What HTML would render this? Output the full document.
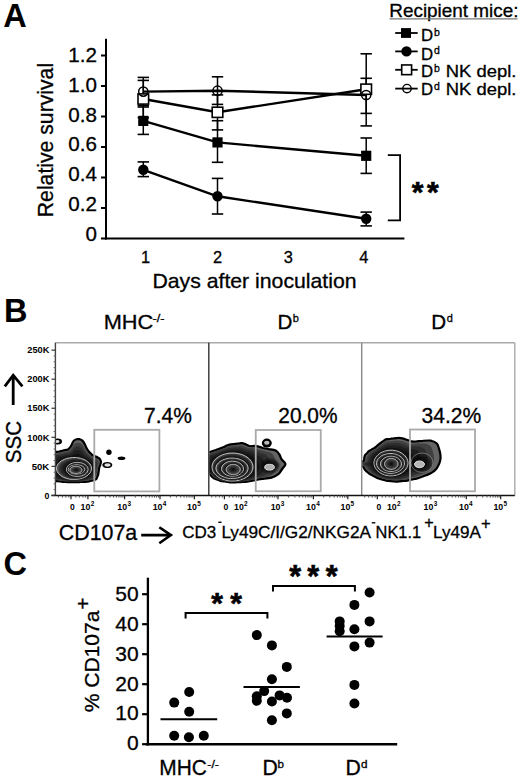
<!DOCTYPE html>
<html><head><meta charset="utf-8"><style>
html,body{margin:0;padding:0;background:#fff;}
svg{display:block;font-family:"Liberation Sans", sans-serif;}
text{stroke:#000;stroke-width:0.3px;}
text[font-weight=bold]{stroke-width:0;}
text.st{stroke-width:0.6px;}
</style></head><body>
<svg width="520" height="777" viewBox="0 0 520 777">
<rect width="520" height="777" fill="#fff"/>
<text x="3.20" y="26.90" font-size="32.5" text-anchor="start" font-weight="bold" fill="#000" >A</text>
<line x1="106.00" y1="38.70" x2="106.00" y2="239.50" stroke="#000" stroke-width="2" />
<line x1="105.00" y1="238.50" x2="404.40" y2="238.50" stroke="#000" stroke-width="2" />
<line x1="101.00" y1="238.50" x2="106.00" y2="238.50" stroke="#000" stroke-width="2" />
<text x="97.00" y="240.70" font-size="20.6" text-anchor="end" font-weight="normal" fill="#000" >0</text>
<line x1="101.00" y1="208.00" x2="106.00" y2="208.00" stroke="#000" stroke-width="2" />
<text x="97.00" y="210.95" font-size="20.6" text-anchor="end" font-weight="normal" fill="#000" >0.2</text>
<line x1="101.00" y1="177.50" x2="106.00" y2="177.50" stroke="#000" stroke-width="2" />
<text x="97.00" y="181.20" font-size="20.6" text-anchor="end" font-weight="normal" fill="#000" >0.4</text>
<line x1="101.00" y1="147.00" x2="106.00" y2="147.00" stroke="#000" stroke-width="2" />
<text x="97.00" y="151.45" font-size="20.6" text-anchor="end" font-weight="normal" fill="#000" >0.6</text>
<line x1="101.00" y1="116.50" x2="106.00" y2="116.50" stroke="#000" stroke-width="2" />
<text x="97.00" y="121.70" font-size="20.6" text-anchor="end" font-weight="normal" fill="#000" >0.8</text>
<line x1="101.00" y1="86.00" x2="106.00" y2="86.00" stroke="#000" stroke-width="2" />
<text x="97.00" y="91.95" font-size="20.6" text-anchor="end" font-weight="normal" fill="#000" >1.0</text>
<line x1="101.00" y1="55.50" x2="106.00" y2="55.50" stroke="#000" stroke-width="2" />
<text x="97.00" y="62.20" font-size="20.6" text-anchor="end" font-weight="normal" fill="#000" >1.2</text>
<text transform="translate(53,217.2) rotate(-90)" font-size="21.2" textLength="154.3" lengthAdjust="spacingAndGlyphs">Relative survival</text>
<text x="145.60" y="262.70" font-size="16.4" text-anchor="middle" font-weight="normal" fill="#000" >1</text>
<text x="217.50" y="262.70" font-size="16.4" text-anchor="middle" font-weight="normal" fill="#000" >2</text>
<text x="288.20" y="262.70" font-size="16.4" text-anchor="middle" font-weight="normal" fill="#000" >3</text>
<text x="363.80" y="262.70" font-size="16.4" text-anchor="middle" font-weight="normal" fill="#000" >4</text>
<text x="152.40" y="288.30" font-size="20.6" text-anchor="start" font-weight="normal" fill="#000" textLength="204.20" lengthAdjust="spacingAndGlyphs" >Days after inoculation</text>
<line x1="143.30" y1="161.90" x2="143.30" y2="176.60" stroke="#000" stroke-width="1.5" />
<line x1="137.60" y1="161.90" x2="149.00" y2="161.90" stroke="#000" stroke-width="1.6" />
<line x1="137.60" y1="176.60" x2="149.00" y2="176.60" stroke="#000" stroke-width="1.6" />
<line x1="217.50" y1="178.40" x2="217.50" y2="214.00" stroke="#000" stroke-width="1.5" />
<line x1="211.80" y1="178.40" x2="223.20" y2="178.40" stroke="#000" stroke-width="1.6" />
<line x1="211.80" y1="214.00" x2="223.20" y2="214.00" stroke="#000" stroke-width="1.6" />
<line x1="366.20" y1="212.10" x2="366.20" y2="225.90" stroke="#000" stroke-width="1.5" />
<line x1="360.50" y1="212.10" x2="371.90" y2="212.10" stroke="#000" stroke-width="1.6" />
<line x1="360.50" y1="225.90" x2="371.90" y2="225.90" stroke="#000" stroke-width="1.6" />
<line x1="143.30" y1="107.00" x2="143.30" y2="134.40" stroke="#000" stroke-width="1.5" />
<line x1="137.60" y1="107.00" x2="149.00" y2="107.00" stroke="#000" stroke-width="1.6" />
<line x1="137.60" y1="134.40" x2="149.00" y2="134.40" stroke="#000" stroke-width="1.6" />
<line x1="217.50" y1="120.70" x2="217.50" y2="162.30" stroke="#000" stroke-width="1.5" />
<line x1="211.80" y1="120.70" x2="223.20" y2="120.70" stroke="#000" stroke-width="1.6" />
<line x1="211.80" y1="162.30" x2="223.20" y2="162.30" stroke="#000" stroke-width="1.6" />
<line x1="366.20" y1="138.00" x2="366.20" y2="173.40" stroke="#000" stroke-width="1.5" />
<line x1="360.50" y1="138.00" x2="371.90" y2="138.00" stroke="#000" stroke-width="1.6" />
<line x1="360.50" y1="173.40" x2="371.90" y2="173.40" stroke="#000" stroke-width="1.6" />
<line x1="143.30" y1="80.40" x2="143.30" y2="117.60" stroke="#000" stroke-width="1.5" />
<line x1="137.60" y1="80.40" x2="149.00" y2="80.40" stroke="#000" stroke-width="1.6" />
<line x1="137.60" y1="117.60" x2="149.00" y2="117.60" stroke="#000" stroke-width="1.6" />
<line x1="217.50" y1="94.90" x2="217.50" y2="129.90" stroke="#000" stroke-width="1.5" />
<line x1="211.80" y1="94.90" x2="223.20" y2="94.90" stroke="#000" stroke-width="1.6" />
<line x1="211.80" y1="129.90" x2="223.20" y2="129.90" stroke="#000" stroke-width="1.6" />
<line x1="366.20" y1="53.80" x2="366.20" y2="125.90" stroke="#000" stroke-width="1.5" />
<line x1="360.50" y1="53.80" x2="371.90" y2="53.80" stroke="#000" stroke-width="1.6" />
<line x1="360.50" y1="125.90" x2="371.90" y2="125.90" stroke="#000" stroke-width="1.6" />
<line x1="143.30" y1="77.40" x2="143.30" y2="105.60" stroke="#000" stroke-width="1.5" />
<line x1="137.60" y1="77.40" x2="149.00" y2="77.40" stroke="#000" stroke-width="1.6" />
<line x1="137.60" y1="105.60" x2="149.00" y2="105.60" stroke="#000" stroke-width="1.6" />
<line x1="217.50" y1="76.80" x2="217.50" y2="104.40" stroke="#000" stroke-width="1.5" />
<line x1="211.80" y1="76.80" x2="223.20" y2="76.80" stroke="#000" stroke-width="1.6" />
<line x1="211.80" y1="104.40" x2="223.20" y2="104.40" stroke="#000" stroke-width="1.6" />
<line x1="366.20" y1="78.30" x2="366.20" y2="113.40" stroke="#000" stroke-width="1.5" />
<line x1="360.50" y1="78.30" x2="371.90" y2="78.30" stroke="#000" stroke-width="1.6" />
<line x1="360.50" y1="113.40" x2="371.90" y2="113.40" stroke="#000" stroke-width="1.6" />
<polyline points="143.30,169.80 217.50,196.30 366.20,218.80" fill="none" stroke="#000" stroke-width="2.4"/>
<polyline points="143.30,120.90 217.50,142.40 366.20,155.80" fill="none" stroke="#000" stroke-width="2.4"/>
<polyline points="143.30,99.00 217.50,112.30 366.20,89.20" fill="none" stroke="#000" stroke-width="2.4"/>
<polyline points="143.30,91.60 217.50,90.70 366.20,95.00" fill="none" stroke="#000" stroke-width="2.4"/>
<circle cx="143.3" cy="169.8" r="5.2" fill="#000"/>
<circle cx="217.5" cy="196.3" r="5.2" fill="#000"/>
<circle cx="366.2" cy="218.8" r="5.2" fill="#000"/>
<rect x="138.20" y="115.80" width="10.2" height="10.2" fill="#000"/>
<rect x="212.40" y="137.30" width="10.2" height="10.2" fill="#000"/>
<rect x="361.10" y="150.70" width="10.2" height="10.2" fill="#000"/>
<rect x="138.00" y="93.90" width="10.6" height="10.2" fill="#fff" stroke="#000" stroke-width="1.6"/>
<rect x="212.20" y="107.20" width="10.6" height="10.2" fill="#fff" stroke="#000" stroke-width="1.6"/>
<rect x="360.90" y="84.10" width="10.6" height="10.2" fill="#fff" stroke="#000" stroke-width="1.6"/>
<circle cx="143.3" cy="91.6" r="4.6" fill="none" stroke="#000" stroke-width="1.5"/>
<circle cx="217.5" cy="90.7" r="4.6" fill="none" stroke="#000" stroke-width="1.5"/>
<circle cx="366.2" cy="95" r="4.6" fill="none" stroke="#000" stroke-width="1.5"/>
<path d="M387.8,155.1 H400.1 V220.4 H387.8" fill="none" stroke="#000" stroke-width="1.8"/>
<text x="411.85" y="201.90" font-size="30" text-anchor="start" font-weight="bold" fill="#000" class="st">*</text>
<text x="427.00" y="201.90" font-size="30" text-anchor="start" font-weight="bold" fill="#000" class="st">*</text>
<text x="389.30" y="16.80" font-size="17.6" text-anchor="start" font-weight="normal" fill="#000" textLength="129.20" lengthAdjust="spacingAndGlyphs" >Recipient mice:</text>
<line x1="389.50" y1="18.90" x2="517.50" y2="18.90" stroke="#777" stroke-width="1.4" />
<line x1="395.20" y1="33.00" x2="417.70" y2="33.00" stroke="#000" stroke-width="1.8" />
<rect x="401" y="28.10" width="10" height="9.8" fill="#000"/>
<text x="421.00" y="41.00" font-size="16.8" text-anchor="start" font-weight="normal" fill="#000" >D</text>
<text x="434.00" y="35.60" font-size="10.5" text-anchor="start" font-weight="normal" fill="#000" >b</text>
<line x1="395.20" y1="51.40" x2="417.70" y2="51.40" stroke="#000" stroke-width="1.8" />
<circle cx="406.5" cy="51.4" r="5.2" fill="#000"/>
<text x="421.00" y="59.50" font-size="16.8" text-anchor="start" font-weight="normal" fill="#000" >D</text>
<text x="434.00" y="54.10" font-size="10.5" text-anchor="start" font-weight="normal" fill="#000" >d</text>
<line x1="395.20" y1="69.80" x2="417.70" y2="69.80" stroke="#000" stroke-width="1.8" />
<rect x="401.7" y="64.95" width="9.9" height="9.7" fill="#fff" stroke="#000" stroke-width="1.6"/>
<text x="421.00" y="77.30" font-size="16.8" text-anchor="start" font-weight="normal" fill="#000" >D</text>
<text x="434.00" y="71.90" font-size="10.5" text-anchor="start" font-weight="normal" fill="#000" >b</text>
<text x="445.80" y="77.30" font-size="16.8" text-anchor="start" font-weight="normal" fill="#000" textLength="70.60" lengthAdjust="spacingAndGlyphs" >NK depl.</text>
<line x1="395.20" y1="88.60" x2="417.70" y2="88.60" stroke="#000" stroke-width="1.8" />
<circle cx="407.0" cy="88.6" r="4.2" fill="none" stroke="#000" stroke-width="1.4"/>
<text x="421.00" y="95.40" font-size="16.8" text-anchor="start" font-weight="normal" fill="#000" >D</text>
<text x="434.00" y="90.00" font-size="10.5" text-anchor="start" font-weight="normal" fill="#000" >d</text>
<text x="445.80" y="95.40" font-size="16.8" text-anchor="start" font-weight="normal" fill="#000" textLength="70.60" lengthAdjust="spacingAndGlyphs" >NK depl.</text>
<text x="4.00" y="322.30" font-size="32.5" text-anchor="start" font-weight="bold" fill="#000" >B</text>
<text x="103.70" y="328.80" font-size="20.8" text-anchor="start" font-weight="normal" fill="#000" textLength="49.60" lengthAdjust="spacingAndGlyphs" >MHC</text>
<text x="152.60" y="321.60" font-size="11" text-anchor="start" font-weight="normal" fill="#000" textLength="12.00" lengthAdjust="spacingAndGlyphs" >-/-</text>
<text x="277.60" y="329.20" font-size="20.6" text-anchor="start" font-weight="normal" fill="#000" >D</text>
<text x="292.80" y="321.70" font-size="11" text-anchor="start" font-weight="normal" fill="#000" >b</text>
<text x="431.30" y="329.20" font-size="20.6" text-anchor="start" font-weight="normal" fill="#000" >D</text>
<text x="446.80" y="321.70" font-size="11" text-anchor="start" font-weight="normal" fill="#000" >d</text>
<line x1="55.40" y1="342.70" x2="514.80" y2="342.70" stroke="#aaa" stroke-width="1.4" />
<line x1="514.80" y1="342.70" x2="514.80" y2="495.50" stroke="#aaa" stroke-width="1.4" />
<line x1="361.70" y1="342.70" x2="361.70" y2="495.50" stroke="#888" stroke-width="1.4" />
<line x1="208.80" y1="342.70" x2="208.80" y2="495.50" stroke="#333" stroke-width="1.4" />
<line x1="55.40" y1="342.70" x2="55.40" y2="496.00" stroke="#444" stroke-width="1.4" />
<line x1="51.50" y1="495.50" x2="514.80" y2="495.50" stroke="#111" stroke-width="1.4" />
<line x1="51.50" y1="495.40" x2="55.40" y2="495.40" stroke="#333" stroke-width="1.2" />
<line x1="53.60" y1="489.59" x2="55.40" y2="489.59" stroke="#666" stroke-width="1.0" />
<line x1="53.60" y1="483.78" x2="55.40" y2="483.78" stroke="#666" stroke-width="1.0" />
<line x1="53.60" y1="477.97" x2="55.40" y2="477.97" stroke="#666" stroke-width="1.0" />
<line x1="53.60" y1="472.16" x2="55.40" y2="472.16" stroke="#666" stroke-width="1.0" />
<line x1="51.50" y1="466.35" x2="55.40" y2="466.35" stroke="#333" stroke-width="1.2" />
<line x1="53.60" y1="460.54" x2="55.40" y2="460.54" stroke="#666" stroke-width="1.0" />
<line x1="53.60" y1="454.73" x2="55.40" y2="454.73" stroke="#666" stroke-width="1.0" />
<line x1="53.60" y1="448.92" x2="55.40" y2="448.92" stroke="#666" stroke-width="1.0" />
<line x1="53.60" y1="443.11" x2="55.40" y2="443.11" stroke="#666" stroke-width="1.0" />
<line x1="51.50" y1="437.30" x2="55.40" y2="437.30" stroke="#333" stroke-width="1.2" />
<line x1="53.60" y1="431.49" x2="55.40" y2="431.49" stroke="#666" stroke-width="1.0" />
<line x1="53.60" y1="425.68" x2="55.40" y2="425.68" stroke="#666" stroke-width="1.0" />
<line x1="53.60" y1="419.87" x2="55.40" y2="419.87" stroke="#666" stroke-width="1.0" />
<line x1="53.60" y1="414.06" x2="55.40" y2="414.06" stroke="#666" stroke-width="1.0" />
<line x1="51.50" y1="408.25" x2="55.40" y2="408.25" stroke="#333" stroke-width="1.2" />
<line x1="53.60" y1="402.44" x2="55.40" y2="402.44" stroke="#666" stroke-width="1.0" />
<line x1="53.60" y1="396.63" x2="55.40" y2="396.63" stroke="#666" stroke-width="1.0" />
<line x1="53.60" y1="390.82" x2="55.40" y2="390.82" stroke="#666" stroke-width="1.0" />
<line x1="53.60" y1="385.01" x2="55.40" y2="385.01" stroke="#666" stroke-width="1.0" />
<line x1="51.50" y1="379.20" x2="55.40" y2="379.20" stroke="#333" stroke-width="1.2" />
<line x1="53.60" y1="373.39" x2="55.40" y2="373.39" stroke="#666" stroke-width="1.0" />
<line x1="53.60" y1="367.58" x2="55.40" y2="367.58" stroke="#666" stroke-width="1.0" />
<line x1="53.60" y1="361.77" x2="55.40" y2="361.77" stroke="#666" stroke-width="1.0" />
<line x1="53.60" y1="355.96" x2="55.40" y2="355.96" stroke="#666" stroke-width="1.0" />
<line x1="51.50" y1="350.15" x2="55.40" y2="350.15" stroke="#333" stroke-width="1.2" />
<text x="49.30" y="498.60" font-size="8.8" text-anchor="end" font-weight="bold" fill="#000" >0</text>
<text x="49.30" y="469.55" font-size="8.8" text-anchor="end" font-weight="bold" fill="#000" textLength="17.60" lengthAdjust="spacingAndGlyphs" >50K</text>
<text x="49.30" y="440.50" font-size="8.8" text-anchor="end" font-weight="bold" fill="#000" textLength="22.00" lengthAdjust="spacingAndGlyphs" >100K</text>
<text x="49.30" y="411.45" font-size="8.8" text-anchor="end" font-weight="bold" fill="#000" textLength="22.00" lengthAdjust="spacingAndGlyphs" >150K</text>
<text x="49.30" y="382.40" font-size="8.8" text-anchor="end" font-weight="bold" fill="#000" textLength="22.00" lengthAdjust="spacingAndGlyphs" >200K</text>
<text x="49.30" y="353.35" font-size="8.8" text-anchor="end" font-weight="bold" fill="#000" textLength="22.00" lengthAdjust="spacingAndGlyphs" >250K</text>
<line x1="71.00" y1="495.50" x2="71.00" y2="499.30" stroke="#222" stroke-width="1.2" />
<line x1="87.90" y1="495.50" x2="87.90" y2="499.30" stroke="#222" stroke-width="1.2" />
<line x1="124.60" y1="495.50" x2="124.60" y2="499.30" stroke="#222" stroke-width="1.2" />
<line x1="160.00" y1="495.50" x2="160.00" y2="499.30" stroke="#222" stroke-width="1.2" />
<line x1="194.40" y1="495.50" x2="194.40" y2="499.30" stroke="#222" stroke-width="1.2" />
<line x1="98.95" y1="495.50" x2="98.95" y2="497.60" stroke="#555" stroke-width="1.0" />
<line x1="105.41" y1="495.50" x2="105.41" y2="497.60" stroke="#555" stroke-width="1.0" />
<line x1="110.00" y1="495.50" x2="110.00" y2="497.60" stroke="#555" stroke-width="1.0" />
<line x1="113.55" y1="495.50" x2="113.55" y2="497.60" stroke="#555" stroke-width="1.0" />
<line x1="116.46" y1="495.50" x2="116.46" y2="497.60" stroke="#555" stroke-width="1.0" />
<line x1="118.92" y1="495.50" x2="118.92" y2="497.60" stroke="#555" stroke-width="1.0" />
<line x1="121.04" y1="495.50" x2="121.04" y2="497.60" stroke="#555" stroke-width="1.0" />
<line x1="122.92" y1="495.50" x2="122.92" y2="497.60" stroke="#555" stroke-width="1.0" />
<line x1="135.26" y1="495.50" x2="135.26" y2="497.60" stroke="#555" stroke-width="1.0" />
<line x1="141.49" y1="495.50" x2="141.49" y2="497.60" stroke="#555" stroke-width="1.0" />
<line x1="145.91" y1="495.50" x2="145.91" y2="497.60" stroke="#555" stroke-width="1.0" />
<line x1="149.34" y1="495.50" x2="149.34" y2="497.60" stroke="#555" stroke-width="1.0" />
<line x1="152.15" y1="495.50" x2="152.15" y2="497.60" stroke="#555" stroke-width="1.0" />
<line x1="154.52" y1="495.50" x2="154.52" y2="497.60" stroke="#555" stroke-width="1.0" />
<line x1="156.57" y1="495.50" x2="156.57" y2="497.60" stroke="#555" stroke-width="1.0" />
<line x1="158.38" y1="495.50" x2="158.38" y2="497.60" stroke="#555" stroke-width="1.0" />
<line x1="170.36" y1="495.50" x2="170.36" y2="497.60" stroke="#555" stroke-width="1.0" />
<line x1="176.41" y1="495.50" x2="176.41" y2="497.60" stroke="#555" stroke-width="1.0" />
<line x1="180.71" y1="495.50" x2="180.71" y2="497.60" stroke="#555" stroke-width="1.0" />
<line x1="184.04" y1="495.50" x2="184.04" y2="497.60" stroke="#555" stroke-width="1.0" />
<line x1="186.77" y1="495.50" x2="186.77" y2="497.60" stroke="#555" stroke-width="1.0" />
<line x1="189.07" y1="495.50" x2="189.07" y2="497.60" stroke="#555" stroke-width="1.0" />
<line x1="191.07" y1="495.50" x2="191.07" y2="497.60" stroke="#555" stroke-width="1.0" />
<line x1="192.83" y1="495.50" x2="192.83" y2="497.60" stroke="#555" stroke-width="1.0" />
<line x1="58.40" y1="495.50" x2="58.40" y2="497.60" stroke="#555" stroke-width="1.0" />
<line x1="62.40" y1="495.50" x2="62.40" y2="497.60" stroke="#555" stroke-width="1.0" />
<line x1="65.90" y1="495.50" x2="65.90" y2="497.60" stroke="#555" stroke-width="1.0" />
<line x1="68.90" y1="495.50" x2="68.90" y2="497.60" stroke="#555" stroke-width="1.0" />
<line x1="75.90" y1="495.50" x2="75.90" y2="497.60" stroke="#555" stroke-width="1.0" />
<line x1="79.40" y1="495.50" x2="79.40" y2="497.60" stroke="#555" stroke-width="1.0" />
<line x1="82.90" y1="495.50" x2="82.90" y2="497.60" stroke="#555" stroke-width="1.0" />
<line x1="85.40" y1="495.50" x2="85.40" y2="497.60" stroke="#555" stroke-width="1.0" />
<text x="72.50" y="510.30" font-size="8.6" text-anchor="middle" font-weight="bold" fill="#000" >0</text>
<text x="80.60" y="510.30" font-size="8.6" text-anchor="start" font-weight="bold" fill="#000" textLength="9.80" lengthAdjust="spacingAndGlyphs" >10</text>
<text x="90.70" y="506.00" font-size="6.4" text-anchor="start" font-weight="bold" fill="#000" >2</text>
<text x="117.30" y="510.30" font-size="8.6" text-anchor="start" font-weight="bold" fill="#000" textLength="9.80" lengthAdjust="spacingAndGlyphs" >10</text>
<text x="127.40" y="506.00" font-size="6.4" text-anchor="start" font-weight="bold" fill="#000" >3</text>
<text x="152.70" y="510.30" font-size="8.6" text-anchor="start" font-weight="bold" fill="#000" textLength="9.80" lengthAdjust="spacingAndGlyphs" >10</text>
<text x="162.80" y="506.00" font-size="6.4" text-anchor="start" font-weight="bold" fill="#000" >4</text>
<text x="187.10" y="510.30" font-size="8.6" text-anchor="start" font-weight="bold" fill="#000" textLength="9.80" lengthAdjust="spacingAndGlyphs" >10</text>
<text x="197.20" y="506.00" font-size="6.4" text-anchor="start" font-weight="bold" fill="#000" >5</text>
<line x1="224.40" y1="495.50" x2="224.40" y2="499.30" stroke="#222" stroke-width="1.2" />
<line x1="241.30" y1="495.50" x2="241.30" y2="499.30" stroke="#222" stroke-width="1.2" />
<line x1="278.00" y1="495.50" x2="278.00" y2="499.30" stroke="#222" stroke-width="1.2" />
<line x1="313.40" y1="495.50" x2="313.40" y2="499.30" stroke="#222" stroke-width="1.2" />
<line x1="347.80" y1="495.50" x2="347.80" y2="499.30" stroke="#222" stroke-width="1.2" />
<line x1="252.35" y1="495.50" x2="252.35" y2="497.60" stroke="#555" stroke-width="1.0" />
<line x1="258.81" y1="495.50" x2="258.81" y2="497.60" stroke="#555" stroke-width="1.0" />
<line x1="263.40" y1="495.50" x2="263.40" y2="497.60" stroke="#555" stroke-width="1.0" />
<line x1="266.95" y1="495.50" x2="266.95" y2="497.60" stroke="#555" stroke-width="1.0" />
<line x1="269.86" y1="495.50" x2="269.86" y2="497.60" stroke="#555" stroke-width="1.0" />
<line x1="272.32" y1="495.50" x2="272.32" y2="497.60" stroke="#555" stroke-width="1.0" />
<line x1="274.44" y1="495.50" x2="274.44" y2="497.60" stroke="#555" stroke-width="1.0" />
<line x1="276.32" y1="495.50" x2="276.32" y2="497.60" stroke="#555" stroke-width="1.0" />
<line x1="288.66" y1="495.50" x2="288.66" y2="497.60" stroke="#555" stroke-width="1.0" />
<line x1="294.89" y1="495.50" x2="294.89" y2="497.60" stroke="#555" stroke-width="1.0" />
<line x1="299.31" y1="495.50" x2="299.31" y2="497.60" stroke="#555" stroke-width="1.0" />
<line x1="302.74" y1="495.50" x2="302.74" y2="497.60" stroke="#555" stroke-width="1.0" />
<line x1="305.55" y1="495.50" x2="305.55" y2="497.60" stroke="#555" stroke-width="1.0" />
<line x1="307.92" y1="495.50" x2="307.92" y2="497.60" stroke="#555" stroke-width="1.0" />
<line x1="309.97" y1="495.50" x2="309.97" y2="497.60" stroke="#555" stroke-width="1.0" />
<line x1="311.78" y1="495.50" x2="311.78" y2="497.60" stroke="#555" stroke-width="1.0" />
<line x1="323.76" y1="495.50" x2="323.76" y2="497.60" stroke="#555" stroke-width="1.0" />
<line x1="329.81" y1="495.50" x2="329.81" y2="497.60" stroke="#555" stroke-width="1.0" />
<line x1="334.11" y1="495.50" x2="334.11" y2="497.60" stroke="#555" stroke-width="1.0" />
<line x1="337.44" y1="495.50" x2="337.44" y2="497.60" stroke="#555" stroke-width="1.0" />
<line x1="340.17" y1="495.50" x2="340.17" y2="497.60" stroke="#555" stroke-width="1.0" />
<line x1="342.47" y1="495.50" x2="342.47" y2="497.60" stroke="#555" stroke-width="1.0" />
<line x1="344.47" y1="495.50" x2="344.47" y2="497.60" stroke="#555" stroke-width="1.0" />
<line x1="346.23" y1="495.50" x2="346.23" y2="497.60" stroke="#555" stroke-width="1.0" />
<line x1="211.80" y1="495.50" x2="211.80" y2="497.60" stroke="#555" stroke-width="1.0" />
<line x1="215.80" y1="495.50" x2="215.80" y2="497.60" stroke="#555" stroke-width="1.0" />
<line x1="219.30" y1="495.50" x2="219.30" y2="497.60" stroke="#555" stroke-width="1.0" />
<line x1="222.30" y1="495.50" x2="222.30" y2="497.60" stroke="#555" stroke-width="1.0" />
<line x1="229.30" y1="495.50" x2="229.30" y2="497.60" stroke="#555" stroke-width="1.0" />
<line x1="232.80" y1="495.50" x2="232.80" y2="497.60" stroke="#555" stroke-width="1.0" />
<line x1="236.30" y1="495.50" x2="236.30" y2="497.60" stroke="#555" stroke-width="1.0" />
<line x1="238.80" y1="495.50" x2="238.80" y2="497.60" stroke="#555" stroke-width="1.0" />
<text x="225.90" y="510.30" font-size="8.6" text-anchor="middle" font-weight="bold" fill="#000" >0</text>
<text x="234.00" y="510.30" font-size="8.6" text-anchor="start" font-weight="bold" fill="#000" textLength="9.80" lengthAdjust="spacingAndGlyphs" >10</text>
<text x="244.10" y="506.00" font-size="6.4" text-anchor="start" font-weight="bold" fill="#000" >2</text>
<text x="270.70" y="510.30" font-size="8.6" text-anchor="start" font-weight="bold" fill="#000" textLength="9.80" lengthAdjust="spacingAndGlyphs" >10</text>
<text x="280.80" y="506.00" font-size="6.4" text-anchor="start" font-weight="bold" fill="#000" >3</text>
<text x="306.10" y="510.30" font-size="8.6" text-anchor="start" font-weight="bold" fill="#000" textLength="9.80" lengthAdjust="spacingAndGlyphs" >10</text>
<text x="316.20" y="506.00" font-size="6.4" text-anchor="start" font-weight="bold" fill="#000" >4</text>
<text x="340.50" y="510.30" font-size="8.6" text-anchor="start" font-weight="bold" fill="#000" textLength="9.80" lengthAdjust="spacingAndGlyphs" >10</text>
<text x="350.60" y="506.00" font-size="6.4" text-anchor="start" font-weight="bold" fill="#000" >5</text>
<line x1="377.30" y1="495.50" x2="377.30" y2="499.30" stroke="#222" stroke-width="1.2" />
<line x1="394.20" y1="495.50" x2="394.20" y2="499.30" stroke="#222" stroke-width="1.2" />
<line x1="430.90" y1="495.50" x2="430.90" y2="499.30" stroke="#222" stroke-width="1.2" />
<line x1="466.30" y1="495.50" x2="466.30" y2="499.30" stroke="#222" stroke-width="1.2" />
<line x1="500.70" y1="495.50" x2="500.70" y2="499.30" stroke="#222" stroke-width="1.2" />
<line x1="405.25" y1="495.50" x2="405.25" y2="497.60" stroke="#555" stroke-width="1.0" />
<line x1="411.71" y1="495.50" x2="411.71" y2="497.60" stroke="#555" stroke-width="1.0" />
<line x1="416.30" y1="495.50" x2="416.30" y2="497.60" stroke="#555" stroke-width="1.0" />
<line x1="419.85" y1="495.50" x2="419.85" y2="497.60" stroke="#555" stroke-width="1.0" />
<line x1="422.76" y1="495.50" x2="422.76" y2="497.60" stroke="#555" stroke-width="1.0" />
<line x1="425.22" y1="495.50" x2="425.22" y2="497.60" stroke="#555" stroke-width="1.0" />
<line x1="427.34" y1="495.50" x2="427.34" y2="497.60" stroke="#555" stroke-width="1.0" />
<line x1="429.22" y1="495.50" x2="429.22" y2="497.60" stroke="#555" stroke-width="1.0" />
<line x1="441.56" y1="495.50" x2="441.56" y2="497.60" stroke="#555" stroke-width="1.0" />
<line x1="447.79" y1="495.50" x2="447.79" y2="497.60" stroke="#555" stroke-width="1.0" />
<line x1="452.21" y1="495.50" x2="452.21" y2="497.60" stroke="#555" stroke-width="1.0" />
<line x1="455.64" y1="495.50" x2="455.64" y2="497.60" stroke="#555" stroke-width="1.0" />
<line x1="458.45" y1="495.50" x2="458.45" y2="497.60" stroke="#555" stroke-width="1.0" />
<line x1="460.82" y1="495.50" x2="460.82" y2="497.60" stroke="#555" stroke-width="1.0" />
<line x1="462.87" y1="495.50" x2="462.87" y2="497.60" stroke="#555" stroke-width="1.0" />
<line x1="464.68" y1="495.50" x2="464.68" y2="497.60" stroke="#555" stroke-width="1.0" />
<line x1="476.66" y1="495.50" x2="476.66" y2="497.60" stroke="#555" stroke-width="1.0" />
<line x1="482.71" y1="495.50" x2="482.71" y2="497.60" stroke="#555" stroke-width="1.0" />
<line x1="487.01" y1="495.50" x2="487.01" y2="497.60" stroke="#555" stroke-width="1.0" />
<line x1="490.34" y1="495.50" x2="490.34" y2="497.60" stroke="#555" stroke-width="1.0" />
<line x1="493.07" y1="495.50" x2="493.07" y2="497.60" stroke="#555" stroke-width="1.0" />
<line x1="495.37" y1="495.50" x2="495.37" y2="497.60" stroke="#555" stroke-width="1.0" />
<line x1="497.37" y1="495.50" x2="497.37" y2="497.60" stroke="#555" stroke-width="1.0" />
<line x1="499.13" y1="495.50" x2="499.13" y2="497.60" stroke="#555" stroke-width="1.0" />
<line x1="364.70" y1="495.50" x2="364.70" y2="497.60" stroke="#555" stroke-width="1.0" />
<line x1="368.70" y1="495.50" x2="368.70" y2="497.60" stroke="#555" stroke-width="1.0" />
<line x1="372.20" y1="495.50" x2="372.20" y2="497.60" stroke="#555" stroke-width="1.0" />
<line x1="375.20" y1="495.50" x2="375.20" y2="497.60" stroke="#555" stroke-width="1.0" />
<line x1="382.20" y1="495.50" x2="382.20" y2="497.60" stroke="#555" stroke-width="1.0" />
<line x1="385.70" y1="495.50" x2="385.70" y2="497.60" stroke="#555" stroke-width="1.0" />
<line x1="389.20" y1="495.50" x2="389.20" y2="497.60" stroke="#555" stroke-width="1.0" />
<line x1="391.70" y1="495.50" x2="391.70" y2="497.60" stroke="#555" stroke-width="1.0" />
<text x="378.80" y="510.30" font-size="8.6" text-anchor="middle" font-weight="bold" fill="#000" >0</text>
<text x="386.90" y="510.30" font-size="8.6" text-anchor="start" font-weight="bold" fill="#000" textLength="9.80" lengthAdjust="spacingAndGlyphs" >10</text>
<text x="397.00" y="506.00" font-size="6.4" text-anchor="start" font-weight="bold" fill="#000" >2</text>
<text x="423.60" y="510.30" font-size="8.6" text-anchor="start" font-weight="bold" fill="#000" textLength="9.80" lengthAdjust="spacingAndGlyphs" >10</text>
<text x="433.70" y="506.00" font-size="6.4" text-anchor="start" font-weight="bold" fill="#000" >3</text>
<text x="459.00" y="510.30" font-size="8.6" text-anchor="start" font-weight="bold" fill="#000" textLength="9.80" lengthAdjust="spacingAndGlyphs" >10</text>
<text x="469.10" y="506.00" font-size="6.4" text-anchor="start" font-weight="bold" fill="#000" >4</text>
<text x="493.40" y="510.30" font-size="8.6" text-anchor="start" font-weight="bold" fill="#000" textLength="9.80" lengthAdjust="spacingAndGlyphs" >10</text>
<text x="503.50" y="506.00" font-size="6.4" text-anchor="start" font-weight="bold" fill="#000" >5</text>
<text x="144.00" y="423.00" font-size="21.3" text-anchor="start" font-weight="normal" fill="#000" textLength="47.80" lengthAdjust="spacingAndGlyphs" >7.4%</text>
<text x="278.30" y="423.00" font-size="21.3" text-anchor="start" font-weight="normal" fill="#000" textLength="59.20" lengthAdjust="spacingAndGlyphs" >20.0%</text>
<text x="421.60" y="423.00" font-size="21.3" text-anchor="start" font-weight="normal" fill="#000" textLength="59.70" lengthAdjust="spacingAndGlyphs" >34.2%</text>
<text transform="translate(20.9,463.2) rotate(-90)" font-size="21.8" textLength="42.3" lengthAdjust="spacingAndGlyphs">SSC</text>
<path d="M13.2,405 V375.5 M4.8,386.4 L13.2,375.2 L22.4,386.4" fill="none" stroke="#000" stroke-width="2.8" stroke-linejoin="miter"/>
<text x="58.80" y="539.60" font-size="21.8" text-anchor="start" font-weight="normal" fill="#000" textLength="78.40" lengthAdjust="spacingAndGlyphs" >CD107a</text>
<path d="M141.2,535.1 H170.5 M159.3,527.2 L170.9,535.1 L159.3,543.2" fill="none" stroke="#000" stroke-width="2.6"/>
<text x="182.20" y="537.60" font-size="17.2" text-anchor="start" font-weight="normal" fill="#000" textLength="34.00" lengthAdjust="spacingAndGlyphs" >CD3</text>
<line x1="218.30" y1="522.30" x2="221.50" y2="522.30" stroke="#000" stroke-width="1.4" />
<text x="221.40" y="537.60" font-size="17.2" text-anchor="start" font-weight="normal" fill="#000" textLength="149.60" lengthAdjust="spacingAndGlyphs" >Ly49C/I/G2/NKG2A</text>
<line x1="371.80" y1="522.80" x2="375.30" y2="522.80" stroke="#000" stroke-width="1.4" />
<text x="375.60" y="537.60" font-size="17.2" text-anchor="start" font-weight="normal" fill="#000" textLength="45.50" lengthAdjust="spacingAndGlyphs" >NK1.1</text>
<text x="424.30" y="527.90" font-size="16.2" text-anchor="start" font-weight="normal" fill="#000" >+</text>
<text x="433.00" y="537.60" font-size="17.2" text-anchor="start" font-weight="normal" fill="#000" textLength="47.90" lengthAdjust="spacingAndGlyphs" >Ly49A</text>
<text x="481.00" y="528.80" font-size="16.5" text-anchor="start" font-weight="normal" fill="#000" >+</text>
<defs><radialGradient id="dk"><stop offset="0" stop-color="#000" stop-opacity="0.9"/><stop offset="0.6" stop-color="#000" stop-opacity="0.6"/><stop offset="1" stop-color="#000" stop-opacity="0"/></radialGradient><clipPath id="cp1"><rect x="56" y="343" width="152.3" height="152"/></clipPath><clipPath id="cp2"><rect x="209.5" y="343" width="151.5" height="152"/></clipPath><clipPath id="cp3"><rect x="362.4" y="343" width="151.7" height="152"/></clipPath></defs>
<g clip-path="url(#cp1)">
<path d="M98.89,469.80C98.8 470.6 98.7 471.3 98.6 472.1C98.4 472.9 98.4 473.7 98.2 474.4C98.0 475.2 97.7 475.9 97.4 476.6C97.1 477.3 97.1 478.1 96.5 478.7C96.0 479.3 95.0 479.6 94.2 480.0C93.4 480.3 92.5 480.6 91.7 480.8C90.9 481.0 90.1 481.2 89.3 481.3C88.5 481.4 87.8 481.5 87.1 481.6C86.4 481.6 85.8 481.7 85.2 481.8C84.6 481.8 84.0 481.9 83.5 481.9C83.0 482.0 82.4 482.0 81.9 482.0C81.4 482.0 81.0 482.0 80.5 482.0C80.0 482.1 79.6 482.1 79.1 482.1C78.7 482.1 78.2 482.1 77.8 482.1C77.4 482.1 76.9 482.1 76.5 482.1C76.1 482.1 75.6 482.1 75.2 482.2C74.8 482.2 74.3 482.2 73.9 482.2C73.4 482.2 73.0 482.2 72.5 482.2C72.0 482.2 71.5 482.2 71.0 482.2C70.5 482.1 70.0 482.1 69.4 482.1C68.8 482.1 68.2 482.1 67.6 482.1C66.9 482.1 66.2 482.1 65.5 482.0C64.7 482.0 63.9 482.0 63.0 481.9C62.2 481.8 61.4 481.7 60.3 481.5C59.3 481.4 58.3 481.3 56.8 481.2C55.3 481.1 52.4 481.5 51.3 481.0C50.1 480.6 50.2 479.3 50.0 478.4C49.8 477.5 50.0 476.4 50.0 475.4C50.0 474.5 50.0 473.5 50.0 472.6C50.0 471.6 50.0 470.7 50.0 469.8C50.0 468.9 50.0 468.0 50.0 467.0C50.0 466.1 50.0 465.1 50.0 464.2C50.0 463.2 50.0 462.2 50.0 461.2C50.0 460.2 50.0 459.1 50.0 458.0C50.0 456.9 49.7 455.5 50.0 454.5C50.3 453.5 50.9 452.4 52.0 452.0C53.1 451.5 55.3 452.0 56.6 451.9C58.0 451.8 58.9 451.6 59.9 451.4C60.9 451.1 61.7 450.9 62.6 450.7C63.5 450.5 64.3 450.3 65.1 450.1C66.0 449.9 66.8 450.0 67.5 449.7C68.3 449.3 68.8 448.8 69.4 448.1C70.1 447.4 70.7 446.7 71.3 445.5C72.0 444.4 72.6 442.2 73.5 441.1C74.3 440.1 75.5 439.6 76.5 439.3C77.5 439.0 78.7 439.0 79.7 439.2C80.7 439.5 81.8 440.0 82.7 440.9C83.5 441.7 84.2 443.2 84.8 444.3C85.4 445.4 85.8 446.7 86.4 447.7C86.9 448.7 87.3 449.4 87.8 450.2C88.3 450.9 88.8 451.5 89.3 452.1C89.9 452.7 90.4 453.2 91.0 453.7C91.5 454.2 92.0 454.8 92.6 455.3C93.3 455.7 94.3 455.9 95.1 456.3C96.0 456.7 96.9 457.0 97.7 457.5C98.6 458.0 99.6 458.6 100.1 459.3C100.6 460.0 100.8 461.0 100.9 461.9C100.9 462.8 100.5 463.8 100.3 464.7C100.0 465.7 99.5 466.6 99.3 467.4C99.1 468.2 99.0 469.0 98.9 469.8Z" fill="#646464" stroke="#000" stroke-width="2.2"/>
<path d="M97.39,469.80C97.3 470.5 97.2 471.2 97.0 472.0C96.9 472.7 96.8 473.4 96.6 474.1C96.4 474.8 96.0 475.4 95.7 476.1C95.5 476.7 95.4 477.5 94.9 478.0C94.4 478.5 93.5 478.8 92.7 479.2C92.0 479.5 91.2 479.8 90.5 480.0C89.8 480.2 89.1 480.4 88.4 480.5C87.7 480.6 87.0 480.7 86.4 480.8C85.8 480.9 85.2 480.9 84.7 481.0C84.1 481.1 83.6 481.2 83.1 481.2C82.6 481.3 82.1 481.3 81.6 481.4C81.2 481.4 80.7 481.4 80.3 481.4C79.8 481.4 79.4 481.5 79.0 481.5C78.6 481.5 78.1 481.5 77.7 481.5C77.3 481.6 76.9 481.6 76.5 481.6C76.1 481.6 75.7 481.6 75.3 481.6C74.8 481.6 74.4 481.6 74.0 481.6C73.5 481.7 73.1 481.7 72.7 481.6C72.2 481.6 71.7 481.6 71.2 481.6C70.8 481.6 70.2 481.6 69.7 481.6C69.2 481.5 68.6 481.5 68.0 481.5C67.4 481.5 66.7 481.5 66.0 481.4C65.3 481.4 64.6 481.3 63.8 481.2C63.0 481.1 62.2 481.0 61.3 480.8C60.4 480.7 59.5 480.5 58.1 480.4C56.8 480.3 54.4 480.5 53.4 480.1C52.3 479.7 52.3 478.6 52.0 477.8C51.7 476.9 51.8 476.0 51.7 475.1C51.6 474.2 51.5 473.3 51.5 472.4C51.4 471.6 51.4 470.7 51.3 469.8C51.3 468.9 51.3 468.0 51.3 467.2C51.3 466.3 51.4 465.4 51.4 464.5C51.5 463.6 51.5 462.7 51.6 461.7C51.7 460.8 51.8 459.8 51.9 458.9C52.0 457.9 51.9 456.7 52.2 455.8C52.6 454.9 53.2 454.0 54.2 453.6C55.2 453.2 57.1 453.5 58.3 453.4C59.4 453.2 60.3 453.0 61.2 452.8C62.1 452.6 62.9 452.4 63.7 452.2C64.5 452.0 65.3 451.8 66.0 451.7C66.8 451.5 67.6 451.5 68.2 451.3C68.9 451.0 69.5 450.5 70.1 450.0C70.7 449.4 71.2 448.8 71.8 447.9C72.5 447.0 73.1 445.2 73.8 444.4C74.6 443.6 75.6 443.2 76.5 442.9C77.4 442.7 78.4 442.7 79.3 442.9C80.2 443.2 81.2 443.6 81.9 444.3C82.7 445.0 83.3 446.2 83.9 447.1C84.5 448.0 84.9 449.0 85.4 449.9C85.9 450.7 86.3 451.3 86.8 451.9C87.3 452.5 87.8 453.1 88.3 453.6C88.8 454.1 89.3 454.5 89.8 455.0C90.4 455.5 90.8 456.0 91.4 456.4C92.0 456.8 92.9 457.0 93.6 457.4C94.4 457.7 95.2 458.1 96.0 458.6C96.7 459.0 97.6 459.5 98.1 460.2C98.5 460.9 98.8 461.7 98.8 462.5C98.9 463.4 98.7 464.3 98.5 465.1C98.3 466.0 97.9 466.8 97.7 467.6C97.6 468.3 97.5 469.1 97.4 469.8Z" fill="#404040"/>
<path d="M95.89,469.80C95.8 470.5 95.6 471.1 95.5 471.8C95.3 472.5 95.2 473.1 95.0 473.7C94.8 474.4 94.4 474.9 94.1 475.5C93.8 476.1 93.6 476.8 93.2 477.2C92.7 477.7 91.9 478.0 91.3 478.3C90.7 478.7 90.0 478.9 89.3 479.1C88.7 479.3 88.1 479.5 87.5 479.7C86.9 479.8 86.3 479.9 85.7 480.0C85.1 480.1 84.6 480.2 84.1 480.3C83.6 480.4 83.2 480.5 82.7 480.5C82.2 480.6 81.8 480.7 81.4 480.7C80.9 480.7 80.5 480.8 80.1 480.8C79.7 480.8 79.3 480.9 78.9 480.9C78.5 480.9 78.1 481.0 77.7 481.0C77.3 481.0 76.9 481.0 76.5 481.0C76.1 481.1 75.7 481.1 75.3 481.1C74.9 481.1 74.5 481.1 74.1 481.1C73.7 481.1 73.3 481.1 72.8 481.1C72.4 481.1 71.9 481.1 71.5 481.1C71.0 481.1 70.5 481.0 70.0 481.0C69.5 481.0 69.0 481.0 68.4 480.9C67.9 480.9 67.3 480.8 66.6 480.8C66.0 480.7 65.3 480.7 64.5 480.6C63.8 480.5 63.1 480.3 62.3 480.1C61.4 480.0 60.6 479.8 59.5 479.6C58.3 479.5 56.4 479.6 55.5 479.2C54.6 478.7 54.4 477.8 54.0 477.1C53.7 476.4 53.6 475.5 53.4 474.7C53.2 473.9 53.1 473.1 52.9 472.3C52.8 471.5 52.7 470.6 52.6 469.8C52.6 469.0 52.6 468.1 52.6 467.3C52.6 466.5 52.7 465.6 52.8 464.8C52.9 463.9 53.1 463.1 53.3 462.2C53.4 461.4 53.6 460.6 53.8 459.7C54.0 458.8 54.1 457.8 54.5 457.1C54.9 456.3 55.5 455.5 56.4 455.2C57.3 454.8 58.8 455.0 59.9 454.8C60.9 454.7 61.7 454.4 62.5 454.3C63.3 454.1 64.0 453.8 64.8 453.7C65.5 453.5 66.2 453.3 66.9 453.2C67.6 453.1 68.3 453.1 69.0 452.9C69.6 452.6 70.1 452.3 70.7 451.9C71.2 451.4 71.8 451.0 72.4 450.3C72.9 449.6 73.5 448.3 74.2 447.7C74.9 447.1 75.7 446.8 76.5 446.6C77.3 446.4 78.2 446.5 78.9 446.6C79.7 446.8 80.5 447.2 81.2 447.7C81.9 448.2 82.4 449.1 83.0 449.9C83.5 450.6 83.9 451.4 84.4 452.0C84.9 452.7 85.3 453.2 85.8 453.7C86.3 454.2 86.7 454.6 87.2 455.1C87.7 455.5 88.2 455.9 88.7 456.3C89.2 456.7 89.6 457.1 90.2 457.5C90.8 457.8 91.5 458.1 92.1 458.4C92.8 458.8 93.5 459.1 94.2 459.6C94.8 460.0 95.6 460.5 96.0 461.1C96.5 461.7 96.7 462.5 96.8 463.2C96.9 463.9 96.8 464.8 96.7 465.5C96.6 466.3 96.3 467.0 96.2 467.7C96.1 468.4 96.0 469.1 95.9 469.8Z" fill="#2d2d2d"/>
<path d="M94.38,469.80C94.3 470.4 94.1 471.0 94.0 471.6C93.8 472.2 93.6 472.8 93.4 473.4C93.1 473.9 92.8 474.5 92.5 475.0C92.2 475.5 91.9 476.1 91.5 476.5C91.1 476.9 90.4 477.2 89.9 477.5C89.3 477.8 88.7 478.1 88.2 478.3C87.6 478.5 87.1 478.7 86.5 478.8C86.0 479.0 85.5 479.1 85.0 479.2C84.5 479.4 84.0 479.5 83.6 479.6C83.1 479.7 82.7 479.8 82.3 479.8C81.9 479.9 81.5 480.0 81.1 480.0C80.7 480.1 80.3 480.1 79.9 480.2C79.5 480.2 79.1 480.3 78.7 480.3C78.4 480.3 78.0 480.4 77.6 480.4C77.2 480.4 76.9 480.5 76.5 480.5C76.1 480.5 75.8 480.5 75.4 480.5C75.0 480.6 74.6 480.6 74.2 480.6C73.8 480.6 73.4 480.6 73.0 480.6C72.6 480.6 72.2 480.5 71.7 480.5C71.3 480.5 70.8 480.5 70.4 480.5C69.9 480.4 69.4 480.4 68.8 480.3C68.3 480.3 67.8 480.2 67.2 480.2C66.6 480.1 66.0 480.0 65.3 479.9C64.6 479.8 64.0 479.6 63.3 479.4C62.5 479.3 61.8 479.1 60.8 478.9C59.9 478.7 58.4 478.6 57.6 478.2C56.8 477.8 56.4 477.1 56.0 476.5C55.6 475.8 55.4 475.1 55.1 474.3C54.8 473.6 54.6 472.9 54.4 472.1C54.2 471.4 54.1 470.6 54.0 469.8C53.9 469.0 53.9 468.2 53.9 467.4C54.0 466.6 54.1 465.8 54.3 465.1C54.4 464.3 54.6 463.5 54.9 462.8C55.1 462.0 55.4 461.3 55.7 460.6C56.1 459.8 56.3 459.0 56.7 458.4C57.2 457.8 57.8 457.1 58.6 456.8C59.4 456.4 60.6 456.5 61.5 456.3C62.4 456.1 63.1 455.9 63.8 455.7C64.5 455.5 65.2 455.3 65.9 455.2C66.5 455.0 67.2 454.9 67.8 454.8C68.4 454.6 69.1 454.6 69.7 454.5C70.2 454.3 70.8 454.1 71.3 453.8C71.8 453.5 72.3 453.2 72.9 452.7C73.4 452.2 73.9 451.4 74.5 451.0C75.1 450.6 75.8 450.4 76.5 450.3C77.2 450.2 77.9 450.2 78.5 450.4C79.2 450.5 79.9 450.7 80.5 451.1C81.1 451.5 81.6 452.1 82.1 452.7C82.6 453.2 83.0 453.7 83.4 454.2C83.9 454.7 84.3 455.1 84.8 455.4C85.2 455.8 85.7 456.2 86.1 456.5C86.6 456.9 87.1 457.2 87.5 457.5C88.0 457.9 88.4 458.3 89.0 458.6C89.5 458.9 90.1 459.2 90.7 459.5C91.2 459.8 91.9 460.2 92.4 460.6C93.0 461.0 93.6 461.5 94.0 462.0C94.4 462.6 94.6 463.2 94.8 463.9C94.9 464.5 94.9 465.2 94.9 465.9C94.8 466.6 94.7 467.2 94.6 467.9C94.5 468.5 94.5 469.2 94.4 469.8Z" fill="#1e1e1e"/>
<path d="M92.88,469.80C92.8 470.4 92.6 470.9 92.4 471.5C92.3 472.0 92.0 472.5 91.8 473.0C91.5 473.5 91.2 474.0 90.8 474.5C90.5 474.9 90.2 475.4 89.8 475.7C89.4 476.1 88.9 476.4 88.4 476.7C88.0 477.0 87.5 477.2 87.0 477.4C86.5 477.7 86.1 477.9 85.6 478.0C85.2 478.2 84.7 478.3 84.3 478.5C83.9 478.6 83.5 478.7 83.1 478.8C82.7 478.9 82.3 479.0 81.9 479.1C81.5 479.2 81.1 479.3 80.8 479.4C80.4 479.5 80.0 479.5 79.7 479.6C79.3 479.6 79.0 479.7 78.6 479.7C78.3 479.8 77.9 479.8 77.6 479.8C77.2 479.9 76.9 479.9 76.5 479.9C76.1 480.0 75.8 480.0 75.4 480.0C75.1 480.0 74.7 480.0 74.3 480.0C73.9 480.0 73.6 480.0 73.2 480.0C72.8 480.0 72.4 480.0 72.0 480.0C71.5 480.0 71.1 479.9 70.7 479.9C70.2 479.9 69.8 479.8 69.3 479.7C68.8 479.7 68.3 479.6 67.7 479.5C67.2 479.4 66.6 479.3 66.1 479.2C65.5 479.1 64.9 478.9 64.2 478.7C63.6 478.5 62.9 478.3 62.2 478.1C61.4 477.8 60.3 477.7 59.7 477.3C59.0 476.9 58.5 476.3 58.0 475.8C57.6 475.2 57.2 474.6 56.8 474.0C56.4 473.3 56.1 472.7 55.9 472.0C55.6 471.3 55.4 470.5 55.3 469.8C55.2 469.1 55.2 468.3 55.2 467.6C55.3 466.8 55.5 466.1 55.7 465.4C55.9 464.7 56.2 464.0 56.5 463.3C56.9 462.6 57.3 462.0 57.7 461.4C58.1 460.8 58.5 460.2 59.0 459.7C59.5 459.2 60.1 458.7 60.8 458.4C61.4 458.0 62.4 457.9 63.1 457.7C63.8 457.5 64.5 457.3 65.1 457.1C65.7 457.0 66.4 456.8 67.0 456.7C67.6 456.5 68.1 456.4 68.7 456.3C69.3 456.2 69.8 456.2 70.4 456.1C70.9 455.9 71.4 455.8 71.9 455.7C72.4 455.5 72.9 455.3 73.4 455.1C73.9 454.9 74.3 454.4 74.9 454.2C75.4 454.1 76.0 454.0 76.5 453.9C77.0 453.9 77.6 454.0 78.2 454.1C78.7 454.2 79.2 454.3 79.7 454.5C80.2 454.8 80.7 455.1 81.2 455.4C81.6 455.7 82.0 456.1 82.5 456.4C82.9 456.7 83.3 456.9 83.8 457.2C84.2 457.5 84.6 457.7 85.1 458.0C85.5 458.3 86.0 458.5 86.4 458.8C86.8 459.1 87.3 459.4 87.7 459.7C88.2 460.0 88.7 460.3 89.2 460.6C89.7 460.9 90.2 461.3 90.6 461.6C91.1 462.0 91.6 462.5 91.9 462.9C92.3 463.4 92.5 464.0 92.7 464.5C92.9 465.1 93.0 465.7 93.1 466.3C93.1 466.9 93.1 467.5 93.1 468.1C93.0 468.6 93.0 469.2 92.9 469.8Z" fill="#111111"/>
<path d="M91.38,469.80C91.3 470.3 91.1 470.8 90.9 471.3C90.7 471.8 90.5 472.3 90.2 472.7C89.9 473.1 89.6 473.6 89.2 473.9C88.9 474.3 88.5 474.7 88.1 475.0C87.8 475.3 87.4 475.6 87.0 475.9C86.6 476.1 86.2 476.4 85.9 476.6C85.5 476.8 85.1 477.0 84.7 477.2C84.3 477.4 84.0 477.5 83.6 477.7C83.2 477.8 82.9 478.0 82.5 478.1C82.2 478.2 81.8 478.3 81.5 478.4C81.1 478.5 80.8 478.6 80.5 478.7C80.1 478.8 79.8 478.9 79.5 478.9C79.1 479.0 78.8 479.1 78.5 479.1C78.2 479.2 77.8 479.2 77.5 479.3C77.2 479.3 76.8 479.4 76.5 479.4C76.2 479.4 75.8 479.4 75.5 479.5C75.1 479.5 74.8 479.5 74.4 479.5C74.1 479.5 73.7 479.5 73.4 479.5C73.0 479.5 72.6 479.5 72.2 479.4C71.8 479.4 71.4 479.4 71.0 479.3C70.6 479.3 70.1 479.2 69.7 479.2C69.2 479.1 68.8 479.0 68.3 478.9C67.8 478.8 67.3 478.7 66.8 478.5C66.3 478.4 65.8 478.2 65.2 478.0C64.7 477.8 64.1 477.6 63.5 477.3C62.9 477.0 62.3 476.7 61.8 476.4C61.2 476.0 60.6 475.6 60.1 475.1C59.5 474.7 59.0 474.2 58.5 473.6C58.1 473.1 57.6 472.5 57.3 471.8C57.0 471.2 56.8 470.5 56.6 469.8C56.5 469.1 56.5 468.4 56.5 467.7C56.6 467.0 56.8 466.3 57.1 465.7C57.4 465.0 57.7 464.4 58.1 463.8C58.6 463.3 59.1 462.7 59.6 462.3C60.1 461.8 60.7 461.4 61.2 461.0C61.8 460.6 62.4 460.3 63.0 460.0C63.5 459.7 64.1 459.4 64.7 459.2C65.3 459.0 65.9 458.8 66.4 458.6C67.0 458.4 67.5 458.3 68.0 458.2C68.6 458.0 69.1 457.9 69.6 457.9C70.1 457.8 70.6 457.7 71.1 457.7C71.6 457.6 72.1 457.6 72.5 457.5C73.0 457.5 73.4 457.5 73.9 457.5C74.3 457.5 74.8 457.5 75.2 457.5C75.6 457.5 76.1 457.6 76.5 457.6C76.9 457.7 77.3 457.7 77.8 457.8C78.2 457.8 78.6 457.9 79.0 458.0C79.4 458.0 79.8 458.1 80.3 458.2C80.7 458.3 81.1 458.4 81.5 458.6C81.9 458.7 82.3 458.8 82.8 459.0C83.2 459.1 83.6 459.3 84.0 459.5C84.4 459.7 84.8 459.9 85.3 460.1C85.7 460.3 86.1 460.5 86.5 460.8C86.9 461.1 87.3 461.3 87.7 461.7C88.1 462.0 88.5 462.3 88.8 462.7C89.2 463.0 89.6 463.4 89.9 463.9C90.2 464.3 90.5 464.7 90.7 465.2C90.9 465.7 91.1 466.2 91.3 466.7C91.4 467.2 91.5 467.7 91.5 468.2C91.5 468.7 91.5 469.3 91.4 469.8Z" fill="#555555" stroke="#d0d0d0" stroke-width="0.9"/>
<path d="M90.72,469.80C90.6 470.3 90.5 470.8 90.3 471.3C90.1 471.7 89.9 472.2 89.6 472.6C89.3 473.0 89.0 473.4 88.7 473.8C88.4 474.1 88.0 474.5 87.6 474.8C87.3 475.1 86.9 475.3 86.5 475.6C86.2 475.8 85.8 476.1 85.4 476.3C85.1 476.5 84.7 476.7 84.3 476.8C84.0 477.0 83.6 477.2 83.3 477.3C82.9 477.4 82.6 477.6 82.2 477.7C81.9 477.8 81.6 477.9 81.2 478.0C80.9 478.1 80.6 478.2 80.3 478.2C79.9 478.3 79.6 478.4 79.3 478.4C79.0 478.5 78.7 478.5 78.4 478.6C78.1 478.6 77.7 478.7 77.4 478.7C77.1 478.7 76.8 478.8 76.5 478.8C76.2 478.8 75.9 478.8 75.6 478.8C75.2 478.8 74.9 478.9 74.6 478.8C74.2 478.8 73.9 478.8 73.6 478.8C73.2 478.8 72.9 478.8 72.5 478.8C72.2 478.7 71.8 478.7 71.4 478.6C71.0 478.6 70.6 478.5 70.2 478.4C69.8 478.4 69.4 478.3 69.0 478.2C68.5 478.1 68.1 478.0 67.6 477.8C67.1 477.7 66.6 477.5 66.2 477.3C65.7 477.1 65.2 476.9 64.6 476.6C64.1 476.4 63.6 476.1 63.1 475.8C62.6 475.4 62.1 475.1 61.6 474.6C61.1 474.2 60.6 473.8 60.2 473.3C59.8 472.8 59.5 472.2 59.2 471.6C58.9 471.0 58.7 470.4 58.6 469.8C58.5 469.2 58.5 468.5 58.5 467.9C58.6 467.3 58.8 466.7 59.0 466.1C59.3 465.5 59.6 464.9 60.0 464.4C60.3 463.9 60.8 463.4 61.2 463.0C61.7 462.6 62.2 462.2 62.7 461.8C63.2 461.5 63.7 461.2 64.2 460.9C64.8 460.6 65.3 460.4 65.8 460.2C66.3 460.0 66.8 459.8 67.3 459.6C67.8 459.5 68.3 459.3 68.8 459.2C69.3 459.1 69.7 459.0 70.2 458.9C70.7 458.8 71.1 458.8 71.6 458.7C72.0 458.6 72.4 458.6 72.9 458.6C73.3 458.5 73.7 458.5 74.1 458.5C74.5 458.5 74.9 458.5 75.3 458.5C75.7 458.5 76.1 458.5 76.5 458.6C76.9 458.6 77.3 458.6 77.7 458.7C78.1 458.7 78.4 458.8 78.8 458.9C79.2 458.9 79.6 459.0 80.0 459.1C80.4 459.2 80.8 459.3 81.1 459.4C81.5 459.5 81.9 459.6 82.3 459.7C82.7 459.9 83.1 460.0 83.5 460.2C83.9 460.3 84.3 460.5 84.7 460.7C85.1 460.9 85.5 461.1 85.9 461.4C86.3 461.6 86.7 461.9 87.0 462.1C87.4 462.4 87.8 462.7 88.1 463.1C88.5 463.4 88.8 463.8 89.1 464.2C89.4 464.6 89.7 465.0 90.0 465.4C90.2 465.9 90.4 466.3 90.5 466.8C90.7 467.3 90.8 467.8 90.8 468.3C90.8 468.8 90.8 469.3 90.7 469.8Z" fill="#373737"/>
<path d="M90.06,469.80C90.0 470.3 89.9 470.7 89.7 471.2C89.5 471.6 89.3 472.1 89.0 472.5C88.8 472.9 88.4 473.2 88.1 473.6C87.8 473.9 87.5 474.2 87.1 474.5C86.8 474.8 86.4 475.1 86.1 475.3C85.7 475.6 85.3 475.8 85.0 476.0C84.6 476.2 84.3 476.3 83.9 476.5C83.6 476.7 83.2 476.8 82.9 476.9C82.6 477.0 82.2 477.2 81.9 477.3C81.6 477.4 81.3 477.4 81.0 477.5C80.6 477.6 80.3 477.7 80.0 477.7C79.7 477.8 79.4 477.9 79.1 477.9C78.8 478.0 78.5 478.0 78.3 478.0C78.0 478.1 77.7 478.1 77.4 478.1C77.1 478.2 76.8 478.2 76.5 478.2C76.2 478.2 75.9 478.2 75.6 478.2C75.3 478.2 75.0 478.2 74.7 478.2C74.4 478.2 74.1 478.2 73.8 478.2C73.5 478.1 73.1 478.1 72.8 478.1C72.5 478.0 72.2 478.0 71.8 477.9C71.5 477.9 71.1 477.8 70.7 477.7C70.4 477.7 70.0 477.6 69.6 477.5C69.2 477.4 68.8 477.2 68.4 477.1C68.0 477.0 67.5 476.8 67.1 476.6C66.7 476.4 66.2 476.2 65.8 476.0C65.3 475.7 64.9 475.5 64.4 475.2C64.0 474.9 63.5 474.5 63.1 474.1C62.7 473.8 62.3 473.3 62.0 472.9C61.6 472.4 61.3 471.9 61.1 471.4C60.8 470.9 60.7 470.3 60.6 469.8C60.5 469.3 60.5 468.7 60.5 468.1C60.6 467.6 60.8 467.0 61.0 466.5C61.2 466.0 61.5 465.5 61.8 465.0C62.1 464.6 62.5 464.1 62.9 463.7C63.3 463.4 63.7 463.0 64.2 462.7C64.6 462.4 65.1 462.1 65.5 461.8C66.0 461.6 66.4 461.4 66.9 461.2C67.4 461.0 67.8 460.8 68.2 460.6C68.7 460.5 69.1 460.4 69.6 460.2C70.0 460.1 70.4 460.0 70.8 459.9C71.2 459.9 71.6 459.8 72.0 459.7C72.4 459.7 72.8 459.6 73.2 459.6C73.6 459.6 73.9 459.5 74.3 459.5C74.7 459.5 75.1 459.5 75.4 459.5C75.8 459.5 76.1 459.5 76.5 459.5C76.9 459.6 77.2 459.6 77.6 459.6C77.9 459.6 78.3 459.7 78.6 459.7C79.0 459.8 79.3 459.9 79.7 459.9C80.1 460.0 80.4 460.1 80.8 460.2C81.2 460.3 81.5 460.4 81.9 460.5C82.3 460.6 82.6 460.7 83.0 460.9C83.4 461.0 83.7 461.2 84.1 461.3C84.5 461.5 84.9 461.7 85.2 461.9C85.6 462.1 86.0 462.4 86.4 462.6C86.7 462.9 87.1 463.2 87.4 463.5C87.8 463.8 88.1 464.1 88.4 464.5C88.7 464.9 89.0 465.3 89.2 465.7C89.5 466.1 89.7 466.5 89.8 467.0C90.0 467.4 90.1 467.9 90.1 468.4C90.1 468.8 90.1 469.3 90.1 469.8Z" fill="#272727"/>
<path d="M89.40,469.80C89.3 470.2 89.2 470.7 89.1 471.1C88.9 471.5 88.7 472.0 88.4 472.3C88.2 472.7 87.9 473.1 87.6 473.4C87.3 473.7 87.0 474.0 86.6 474.3C86.3 474.6 85.9 474.8 85.6 475.1C85.3 475.3 84.9 475.5 84.6 475.7C84.2 475.8 83.9 476.0 83.5 476.1C83.2 476.3 82.9 476.4 82.6 476.5C82.2 476.6 81.9 476.7 81.6 476.8C81.3 476.9 81.0 477.0 80.7 477.1C80.4 477.1 80.1 477.2 79.8 477.2C79.5 477.3 79.2 477.3 79.0 477.4C78.7 477.4 78.4 477.5 78.1 477.5C77.9 477.5 77.6 477.5 77.3 477.6C77.0 477.6 76.8 477.6 76.5 477.6C76.2 477.6 76.0 477.6 75.7 477.6C75.4 477.6 75.1 477.6 74.9 477.6C74.6 477.5 74.3 477.5 74.0 477.5C73.7 477.5 73.4 477.4 73.1 477.4C72.8 477.3 72.5 477.3 72.2 477.2C71.9 477.2 71.6 477.1 71.3 477.0C70.9 476.9 70.6 476.9 70.2 476.8C69.9 476.6 69.5 476.5 69.2 476.4C68.8 476.3 68.4 476.1 68.1 475.9C67.7 475.8 67.3 475.6 66.9 475.3C66.5 475.1 66.1 474.9 65.8 474.6C65.4 474.3 65.0 474.0 64.7 473.6C64.3 473.3 64.0 472.9 63.7 472.5C63.4 472.1 63.2 471.7 63.0 471.2C62.8 470.8 62.6 470.3 62.6 469.8C62.5 469.3 62.5 468.8 62.5 468.3C62.6 467.9 62.7 467.4 62.9 466.9C63.1 466.5 63.3 466.0 63.6 465.6C63.9 465.2 64.2 464.8 64.6 464.5C64.9 464.1 65.3 463.8 65.7 463.5C66.0 463.3 66.4 463.0 66.8 462.8C67.2 462.5 67.6 462.3 68.0 462.1C68.4 462.0 68.8 461.8 69.2 461.7C69.6 461.5 69.9 461.4 70.3 461.3C70.7 461.2 71.1 461.1 71.4 461.0C71.8 460.9 72.1 460.8 72.5 460.8C72.8 460.7 73.2 460.7 73.5 460.6C73.9 460.6 74.2 460.6 74.5 460.5C74.9 460.5 75.2 460.5 75.5 460.5C75.9 460.5 76.2 460.5 76.5 460.5C76.8 460.5 77.1 460.5 77.5 460.5C77.8 460.6 78.1 460.6 78.4 460.6C78.8 460.7 79.1 460.7 79.4 460.8C79.8 460.8 80.1 460.9 80.4 461.0C80.8 461.0 81.1 461.1 81.4 461.2C81.8 461.3 82.1 461.4 82.5 461.6C82.8 461.7 83.2 461.8 83.5 462.0C83.9 462.1 84.3 462.3 84.6 462.5C85.0 462.7 85.3 462.9 85.7 463.1C86.0 463.4 86.4 463.6 86.7 463.9C87.1 464.2 87.4 464.5 87.7 464.8C88.0 465.2 88.3 465.5 88.5 465.9C88.7 466.3 88.9 466.7 89.1 467.1C89.3 467.5 89.4 468.0 89.4 468.4C89.5 468.9 89.5 469.4 89.4 469.8Z" fill="#1a1a1a"/>
<path d="M88.74,469.80C88.7 470.2 88.6 470.7 88.4 471.1C88.3 471.5 88.1 471.9 87.9 472.2C87.6 472.6 87.3 472.9 87.1 473.2C86.8 473.5 86.4 473.8 86.1 474.1C85.8 474.3 85.5 474.6 85.1 474.8C84.8 475.0 84.5 475.2 84.1 475.3C83.8 475.5 83.5 475.7 83.2 475.8C82.8 475.9 82.5 476.0 82.2 476.1C81.9 476.2 81.6 476.3 81.3 476.4C81.0 476.5 80.7 476.5 80.4 476.6C80.1 476.7 79.9 476.7 79.6 476.8C79.3 476.8 79.1 476.8 78.8 476.9C78.5 476.9 78.3 476.9 78.0 476.9C77.8 477.0 77.5 477.0 77.3 477.0C77.0 477.0 76.8 477.0 76.5 477.0C76.2 477.0 76.0 477.0 75.7 477.0C75.5 476.9 75.2 476.9 75.0 476.9C74.7 476.9 74.5 476.9 74.2 476.8C74.0 476.8 73.7 476.7 73.4 476.7C73.2 476.6 72.9 476.6 72.6 476.5C72.3 476.5 72.1 476.4 71.8 476.3C71.5 476.2 71.2 476.1 70.9 476.0C70.6 475.9 70.3 475.8 70.0 475.7C69.7 475.5 69.3 475.4 69.0 475.2C68.7 475.1 68.4 474.9 68.1 474.7C67.7 474.5 67.4 474.2 67.1 474.0C66.8 473.7 66.5 473.5 66.2 473.1C65.9 472.8 65.6 472.5 65.4 472.2C65.2 471.8 65.0 471.4 64.8 471.0C64.7 470.6 64.6 470.2 64.5 469.8C64.5 469.4 64.5 469.0 64.5 468.5C64.6 468.1 64.7 467.7 64.9 467.3C65.0 466.9 65.2 466.6 65.4 466.2C65.7 465.9 65.9 465.5 66.2 465.2C66.5 464.9 66.8 464.6 67.1 464.4C67.4 464.1 67.8 463.9 68.1 463.7C68.4 463.5 68.8 463.3 69.1 463.1C69.4 463.0 69.8 462.8 70.1 462.7C70.4 462.5 70.7 462.4 71.1 462.3C71.4 462.2 71.7 462.1 72.0 462.0C72.3 462.0 72.6 461.9 72.9 461.8C73.3 461.8 73.6 461.7 73.9 461.7C74.2 461.6 74.5 461.6 74.7 461.6C75.0 461.5 75.3 461.5 75.6 461.5C75.9 461.5 76.2 461.5 76.5 461.5C76.8 461.5 77.1 461.5 77.4 461.5C77.7 461.5 78.0 461.5 78.3 461.5C78.6 461.6 78.9 461.6 79.2 461.6C79.5 461.7 79.8 461.7 80.1 461.8C80.4 461.8 80.7 461.9 81.0 462.0C81.3 462.1 81.7 462.1 82.0 462.3C82.3 462.4 82.6 462.5 83.0 462.6C83.3 462.7 83.7 462.9 84.0 463.0C84.3 463.2 84.7 463.4 85.0 463.6C85.4 463.8 85.7 464.0 86.0 464.3C86.3 464.6 86.7 464.8 87.0 465.1C87.3 465.4 87.5 465.8 87.8 466.1C88.0 466.5 88.2 466.9 88.4 467.3C88.5 467.7 88.7 468.1 88.7 468.5C88.8 468.9 88.8 469.4 88.7 469.8Z" fill="#0f0f0f"/>
<path d="M88.08,469.80C88.0 470.2 88.0 470.6 87.8 471.0C87.7 471.4 87.5 471.7 87.3 472.1C87.1 472.4 86.8 472.8 86.5 473.1C86.2 473.3 85.9 473.6 85.6 473.9C85.3 474.1 85.0 474.3 84.7 474.5C84.4 474.7 84.0 474.9 83.7 475.0C83.4 475.2 83.1 475.3 82.8 475.4C82.5 475.6 82.2 475.7 81.9 475.7C81.6 475.8 81.3 475.9 81.0 476.0C80.7 476.0 80.4 476.1 80.2 476.1C79.9 476.2 79.6 476.2 79.4 476.3C79.1 476.3 78.9 476.3 78.6 476.3C78.4 476.4 78.1 476.4 77.9 476.4C77.7 476.4 77.4 476.4 77.2 476.4C77.0 476.4 76.7 476.4 76.5 476.4C76.3 476.4 76.0 476.4 75.8 476.3C75.6 476.3 75.4 476.3 75.1 476.3C74.9 476.2 74.7 476.2 74.4 476.1C74.2 476.1 74.0 476.1 73.7 476.0C73.5 476.0 73.3 475.9 73.0 475.8C72.8 475.8 72.5 475.7 72.3 475.6C72.0 475.5 71.8 475.4 71.5 475.3C71.3 475.2 71.0 475.1 70.8 475.0C70.5 474.8 70.2 474.7 70.0 474.5C69.7 474.4 69.4 474.2 69.2 474.0C68.9 473.8 68.7 473.6 68.4 473.4C68.2 473.2 67.9 472.9 67.7 472.6C67.5 472.4 67.3 472.1 67.1 471.8C67.0 471.5 66.8 471.2 66.7 470.8C66.6 470.5 66.5 470.1 66.5 469.8C66.5 469.5 66.5 469.1 66.5 468.8C66.6 468.4 66.7 468.1 66.8 467.7C66.9 467.4 67.1 467.1 67.3 466.8C67.5 466.5 67.7 466.2 67.9 466.0C68.1 465.7 68.4 465.5 68.6 465.2C68.9 465.0 69.1 464.8 69.4 464.6C69.7 464.4 69.9 464.3 70.2 464.1C70.5 464.0 70.7 463.8 71.0 463.7C71.3 463.6 71.6 463.5 71.8 463.4C72.1 463.3 72.4 463.2 72.6 463.1C72.9 463.0 73.2 462.9 73.4 462.9C73.7 462.8 73.9 462.7 74.2 462.7C74.4 462.6 74.7 462.6 75.0 462.6C75.2 462.5 75.5 462.5 75.7 462.5C76.0 462.4 76.2 462.4 76.5 462.4C76.8 462.4 77.0 462.4 77.3 462.4C77.5 462.4 77.8 462.4 78.1 462.4C78.3 462.4 78.6 462.4 78.9 462.5C79.2 462.5 79.4 462.5 79.7 462.6C80.0 462.6 80.3 462.7 80.6 462.7C80.9 462.8 81.2 462.9 81.5 462.9C81.8 463.0 82.1 463.1 82.4 463.2C82.7 463.3 83.1 463.5 83.4 463.6C83.7 463.8 84.0 463.9 84.3 464.1C84.7 464.3 85.0 464.5 85.3 464.7C85.6 464.9 85.9 465.2 86.2 465.5C86.5 465.7 86.8 466.0 87.0 466.4C87.3 466.7 87.5 467.1 87.7 467.4C87.8 467.8 88.0 468.2 88.0 468.6C88.1 469.0 88.1 469.4 88.1 469.8Z" fill="#555555" stroke="#d0d0d0" stroke-width="0.9"/>
<path d="M87.42,469.80C87.4 470.2 87.3 470.6 87.2 470.9C87.0 471.3 86.8 471.6 86.6 472.0C86.4 472.3 86.1 472.6 85.9 472.8C85.6 473.1 85.3 473.4 85.0 473.6C84.7 473.8 84.4 474.0 84.1 474.2C83.8 474.4 83.5 474.5 83.2 474.7C82.9 474.8 82.6 474.9 82.3 475.0C82.0 475.1 81.7 475.2 81.5 475.3C81.2 475.4 80.9 475.5 80.7 475.5C80.4 475.6 80.1 475.6 79.9 475.7C79.6 475.7 79.4 475.8 79.2 475.8C78.9 475.8 78.7 475.8 78.5 475.9C78.2 475.9 78.0 475.9 77.8 475.9C77.6 475.9 77.4 475.9 77.1 475.9C76.9 475.9 76.7 475.9 76.5 475.9C76.3 475.9 76.1 475.9 75.9 475.9C75.7 475.8 75.4 475.8 75.2 475.8C75.0 475.8 74.8 475.7 74.6 475.7C74.4 475.7 74.1 475.6 73.9 475.6C73.7 475.5 73.5 475.5 73.3 475.4C73.0 475.4 72.8 475.3 72.6 475.2C72.3 475.1 72.1 475.1 71.8 475.0C71.6 474.9 71.4 474.8 71.1 474.7C70.9 474.5 70.6 474.4 70.4 474.3C70.1 474.1 69.8 474.0 69.6 473.8C69.3 473.6 69.1 473.4 68.8 473.2C68.6 473.0 68.4 472.8 68.1 472.5C67.9 472.3 67.7 472.0 67.6 471.7C67.4 471.4 67.2 471.1 67.1 470.8C67.0 470.5 66.9 470.1 66.9 469.8C66.9 469.5 66.9 469.1 66.9 468.8C67.0 468.5 67.1 468.1 67.2 467.8C67.3 467.5 67.5 467.2 67.7 466.9C67.8 466.6 68.1 466.4 68.3 466.1C68.5 465.9 68.7 465.7 69.0 465.5C69.2 465.3 69.5 465.1 69.7 464.9C70.0 464.7 70.3 464.6 70.5 464.4C70.8 464.3 71.1 464.2 71.3 464.0C71.6 463.9 71.8 463.8 72.1 463.7C72.4 463.6 72.6 463.6 72.9 463.5C73.1 463.4 73.4 463.3 73.6 463.3C73.8 463.2 74.1 463.2 74.3 463.1C74.6 463.1 74.8 463.1 75.1 463.0C75.3 463.0 75.5 463.0 75.8 462.9C76.0 462.9 76.3 462.9 76.5 462.9C76.7 462.9 77.0 462.9 77.2 462.9C77.5 462.9 77.7 462.9 78.0 462.9C78.2 462.9 78.5 462.9 78.7 463.0C79.0 463.0 79.2 463.0 79.5 463.1C79.8 463.1 80.0 463.1 80.3 463.2C80.6 463.3 80.9 463.3 81.2 463.4C81.4 463.5 81.7 463.6 82.0 463.7C82.3 463.8 82.6 463.9 82.9 464.0C83.2 464.1 83.6 464.3 83.9 464.5C84.2 464.6 84.5 464.8 84.8 465.0C85.1 465.2 85.4 465.5 85.7 465.7C85.9 466.0 86.2 466.3 86.4 466.6C86.7 466.9 86.9 467.2 87.0 467.6C87.2 467.9 87.3 468.3 87.4 468.7C87.4 469.0 87.5 469.4 87.4 469.8Z" fill="#373737"/>
<path d="M86.76,469.80C86.7 470.2 86.6 470.5 86.5 470.8C86.4 471.2 86.2 471.5 86.0 471.8C85.8 472.1 85.5 472.4 85.2 472.6C85.0 472.9 84.7 473.1 84.4 473.3C84.1 473.5 83.8 473.7 83.6 473.9C83.3 474.0 83.0 474.2 82.7 474.3C82.4 474.4 82.1 474.5 81.9 474.6C81.6 474.7 81.3 474.8 81.1 474.9C80.8 475.0 80.6 475.0 80.3 475.1C80.1 475.1 79.9 475.2 79.6 475.2C79.4 475.3 79.2 475.3 79.0 475.3C78.7 475.3 78.5 475.4 78.3 475.4C78.1 475.4 77.9 475.4 77.7 475.4C77.5 475.4 77.3 475.4 77.1 475.4C76.9 475.4 76.7 475.4 76.5 475.4C76.3 475.4 76.1 475.4 75.9 475.4C75.7 475.4 75.5 475.4 75.3 475.3C75.1 475.3 74.9 475.3 74.7 475.3C74.5 475.2 74.3 475.2 74.1 475.2C73.9 475.1 73.7 475.1 73.5 475.0C73.3 475.0 73.1 474.9 72.8 474.8C72.6 474.8 72.4 474.7 72.2 474.6C71.9 474.5 71.7 474.4 71.5 474.3C71.2 474.2 71.0 474.1 70.7 474.0C70.5 473.9 70.2 473.7 70.0 473.6C69.7 473.4 69.5 473.2 69.3 473.0C69.0 472.8 68.8 472.6 68.6 472.4C68.3 472.1 68.1 471.9 68.0 471.6C67.8 471.3 67.6 471.0 67.5 470.7C67.4 470.4 67.3 470.1 67.3 469.8C67.2 469.5 67.3 469.1 67.3 468.8C67.4 468.5 67.4 468.2 67.6 467.9C67.7 467.6 67.9 467.3 68.0 467.1C68.2 466.8 68.4 466.5 68.7 466.3C68.9 466.1 69.1 465.9 69.4 465.7C69.6 465.5 69.9 465.3 70.1 465.2C70.4 465.0 70.6 464.9 70.9 464.7C71.1 464.6 71.4 464.5 71.6 464.4C71.9 464.3 72.1 464.2 72.4 464.1C72.6 464.0 72.8 464.0 73.1 463.9C73.3 463.8 73.6 463.8 73.8 463.7C74.0 463.7 74.3 463.6 74.5 463.6C74.7 463.5 74.9 463.5 75.2 463.5C75.4 463.4 75.6 463.4 75.8 463.4C76.1 463.4 76.3 463.4 76.5 463.4C76.7 463.4 76.9 463.4 77.2 463.4C77.4 463.4 77.6 463.4 77.9 463.4C78.1 463.4 78.3 463.4 78.6 463.4C78.8 463.5 79.0 463.5 79.3 463.5C79.5 463.6 79.8 463.6 80.0 463.7C80.3 463.7 80.6 463.8 80.8 463.8C81.1 463.9 81.4 464.0 81.6 464.1C81.9 464.2 82.2 464.3 82.5 464.4C82.8 464.5 83.1 464.7 83.4 464.8C83.7 465.0 84.0 465.1 84.2 465.3C84.5 465.5 84.8 465.7 85.1 466.0C85.3 466.2 85.6 466.5 85.8 466.8C86.0 467.1 86.2 467.4 86.4 467.7C86.5 468.0 86.7 468.4 86.7 468.7C86.8 469.1 86.8 469.4 86.8 469.8Z" fill="#272727"/>
<path d="M86.09,469.80C86.1 470.1 86.0 470.5 85.8 470.8C85.7 471.1 85.5 471.4 85.3 471.7C85.1 471.9 84.9 472.2 84.6 472.4C84.4 472.7 84.1 472.9 83.8 473.1C83.6 473.2 83.3 473.4 83.0 473.6C82.7 473.7 82.5 473.8 82.2 473.9C81.9 474.1 81.7 474.1 81.4 474.2C81.2 474.3 80.9 474.4 80.7 474.5C80.5 474.5 80.2 474.6 80.0 474.6C79.8 474.7 79.6 474.7 79.4 474.8C79.2 474.8 78.9 474.8 78.7 474.8C78.5 474.9 78.4 474.9 78.2 474.9C78.0 474.9 77.8 474.9 77.6 474.9C77.4 475.0 77.2 475.0 77.0 475.0C76.9 475.0 76.7 475.0 76.5 475.0C76.3 474.9 76.1 474.9 76.0 474.9C75.8 474.9 75.6 474.9 75.4 474.9C75.2 474.9 75.1 474.8 74.9 474.8C74.7 474.8 74.5 474.8 74.3 474.7C74.1 474.7 73.9 474.7 73.7 474.6C73.5 474.6 73.3 474.5 73.1 474.5C72.9 474.4 72.7 474.3 72.5 474.3C72.3 474.2 72.0 474.1 71.8 474.0C71.6 473.9 71.4 473.8 71.1 473.7C70.9 473.6 70.6 473.5 70.4 473.3C70.2 473.2 69.9 473.0 69.7 472.8C69.4 472.7 69.2 472.5 69.0 472.2C68.8 472.0 68.5 471.8 68.4 471.5C68.2 471.3 68.0 471.0 67.9 470.7C67.8 470.4 67.7 470.1 67.7 469.8C67.6 469.5 67.6 469.2 67.7 468.9C67.7 468.6 67.8 468.3 68.0 468.0C68.1 467.7 68.2 467.4 68.4 467.2C68.6 466.9 68.8 466.7 69.0 466.5C69.3 466.3 69.5 466.1 69.7 465.9C70.0 465.7 70.2 465.6 70.5 465.4C70.7 465.3 71.0 465.1 71.2 465.0C71.4 464.9 71.7 464.8 71.9 464.7C72.2 464.6 72.4 464.6 72.6 464.5C72.9 464.4 73.1 464.3 73.3 464.3C73.5 464.2 73.8 464.2 74.0 464.1C74.2 464.1 74.4 464.1 74.6 464.0C74.8 464.0 75.0 464.0 75.3 463.9C75.5 463.9 75.7 463.9 75.9 463.9C76.1 463.9 76.3 463.9 76.5 463.8C76.7 463.8 76.9 463.8 77.1 463.8C77.3 463.8 77.5 463.9 77.8 463.9C78.0 463.9 78.2 463.9 78.4 463.9C78.6 463.9 78.9 464.0 79.1 464.0C79.3 464.0 79.5 464.1 79.8 464.1C80.0 464.2 80.3 464.2 80.5 464.3C80.8 464.3 81.0 464.4 81.3 464.5C81.5 464.6 81.8 464.7 82.1 464.8C82.3 464.9 82.6 465.0 82.9 465.2C83.1 465.3 83.4 465.5 83.7 465.6C84.0 465.8 84.2 466.0 84.5 466.2C84.7 466.5 85.0 466.7 85.2 467.0C85.4 467.2 85.6 467.5 85.7 467.8C85.9 468.1 86.0 468.5 86.1 468.8C86.1 469.1 86.1 469.5 86.1 469.8Z" fill="#1a1a1a"/>
<path d="M85.43,469.80C85.4 470.1 85.3 470.4 85.2 470.7C85.0 471.0 84.8 471.3 84.6 471.5C84.4 471.8 84.2 472.0 84.0 472.2C83.7 472.4 83.5 472.6 83.2 472.8C83.0 473.0 82.7 473.1 82.4 473.2C82.2 473.4 81.9 473.5 81.7 473.6C81.5 473.7 81.2 473.8 81.0 473.8C80.8 473.9 80.5 474.0 80.3 474.0C80.1 474.1 79.9 474.1 79.7 474.2C79.5 474.2 79.3 474.3 79.1 474.3C78.9 474.3 78.7 474.3 78.5 474.4C78.4 474.4 78.2 474.4 78.0 474.4C77.8 474.4 77.7 474.5 77.5 474.5C77.3 474.5 77.2 474.5 77.0 474.5C76.8 474.5 76.7 474.5 76.5 474.5C76.3 474.5 76.2 474.5 76.0 474.5C75.8 474.5 75.7 474.4 75.5 474.4C75.4 474.4 75.2 474.4 75.0 474.4C74.8 474.4 74.7 474.3 74.5 474.3C74.3 474.3 74.1 474.2 74.0 474.2C73.8 474.2 73.6 474.1 73.4 474.1C73.2 474.0 73.0 474.0 72.8 473.9C72.6 473.9 72.4 473.8 72.2 473.7C71.9 473.6 71.7 473.5 71.5 473.4C71.3 473.3 71.0 473.2 70.8 473.1C70.6 473.0 70.3 472.8 70.1 472.7C69.8 472.5 69.6 472.3 69.4 472.1C69.2 471.9 69.0 471.7 68.8 471.4C68.6 471.2 68.4 470.9 68.3 470.7C68.2 470.4 68.1 470.1 68.0 469.8C68.0 469.5 68.0 469.2 68.1 468.9C68.1 468.6 68.2 468.3 68.3 468.1C68.5 467.8 68.6 467.5 68.8 467.3C69.0 467.1 69.2 466.8 69.4 466.7C69.6 466.5 69.9 466.3 70.1 466.1C70.3 466.0 70.6 465.8 70.8 465.7C71.1 465.6 71.3 465.4 71.5 465.3C71.8 465.2 72.0 465.1 72.2 465.1C72.5 465.0 72.7 464.9 72.9 464.8C73.1 464.8 73.3 464.7 73.5 464.7C73.8 464.6 74.0 464.6 74.2 464.6C74.4 464.5 74.6 464.5 74.8 464.5C75.0 464.4 75.2 464.4 75.4 464.4C75.5 464.4 75.7 464.4 75.9 464.3C76.1 464.3 76.3 464.3 76.5 464.3C76.7 464.3 76.9 464.3 77.1 464.3C77.3 464.3 77.5 464.3 77.7 464.3C77.9 464.4 78.1 464.4 78.3 464.4C78.5 464.4 78.7 464.4 78.9 464.5C79.1 464.5 79.3 464.5 79.5 464.6C79.7 464.6 80.0 464.7 80.2 464.7C80.4 464.8 80.6 464.9 80.9 464.9C81.1 465.0 81.4 465.1 81.6 465.2C81.9 465.3 82.1 465.4 82.4 465.5C82.6 465.7 82.9 465.8 83.2 466.0C83.4 466.1 83.7 466.3 83.9 466.5C84.1 466.7 84.4 466.9 84.6 467.2C84.8 467.4 85.0 467.7 85.1 468.0C85.2 468.3 85.4 468.6 85.4 468.9C85.5 469.2 85.5 469.5 85.4 469.8Z" fill="#0f0f0f"/>
<path d="M84.77,469.80C84.7 470.1 84.6 470.4 84.5 470.6C84.4 470.9 84.2 471.2 84.0 471.4C83.8 471.6 83.6 471.8 83.3 472.0C83.1 472.2 82.9 472.4 82.6 472.5C82.4 472.7 82.1 472.8 81.9 472.9C81.7 473.0 81.4 473.1 81.2 473.2C81.0 473.3 80.7 473.4 80.5 473.4C80.3 473.5 80.1 473.6 79.9 473.6C79.7 473.7 79.5 473.7 79.4 473.7C79.2 473.8 79.0 473.8 78.8 473.8C78.7 473.9 78.5 473.9 78.3 473.9C78.2 473.9 78.0 473.9 77.8 473.9C77.7 474.0 77.5 474.0 77.4 474.0C77.2 474.0 77.1 474.0 76.9 474.0C76.8 474.0 76.6 474.0 76.5 474.0C76.4 474.0 76.2 474.0 76.1 474.0C75.9 474.0 75.8 474.0 75.6 474.0C75.5 474.0 75.3 473.9 75.2 473.9C75.0 473.9 74.8 473.9 74.7 473.9C74.5 473.9 74.4 473.8 74.2 473.8C74.0 473.8 73.8 473.7 73.7 473.7C73.5 473.7 73.3 473.6 73.1 473.6C72.9 473.5 72.7 473.5 72.5 473.4C72.3 473.3 72.1 473.2 71.9 473.2C71.7 473.1 71.4 473.0 71.2 472.9C71.0 472.7 70.7 472.6 70.5 472.5C70.3 472.3 70.0 472.2 69.8 472.0C69.6 471.8 69.4 471.6 69.2 471.4C69.0 471.1 68.8 470.9 68.7 470.6C68.6 470.4 68.5 470.1 68.4 469.8C68.4 469.5 68.4 469.2 68.4 469.0C68.5 468.7 68.6 468.4 68.7 468.1C68.8 467.9 69.0 467.6 69.2 467.4C69.4 467.2 69.6 467.0 69.8 466.8C70.0 466.6 70.3 466.5 70.5 466.3C70.7 466.2 71.0 466.1 71.2 465.9C71.4 465.8 71.7 465.7 71.9 465.6C72.1 465.5 72.3 465.5 72.5 465.4C72.8 465.3 73.0 465.3 73.2 465.2C73.4 465.2 73.6 465.1 73.8 465.1C74.0 465.0 74.2 465.0 74.4 465.0C74.5 464.9 74.7 464.9 74.9 464.9C75.1 464.9 75.3 464.9 75.4 464.8C75.6 464.8 75.8 464.8 76.0 464.8C76.2 464.8 76.3 464.8 76.5 464.8C76.7 464.8 76.8 464.8 77.0 464.8C77.2 464.8 77.4 464.8 77.6 464.8C77.7 464.8 77.9 464.9 78.1 464.9C78.3 464.9 78.5 464.9 78.7 464.9C78.9 465.0 79.0 465.0 79.2 465.0C79.4 465.1 79.6 465.1 79.9 465.2C80.1 465.2 80.3 465.3 80.5 465.4C80.7 465.4 81.0 465.5 81.2 465.6C81.4 465.7 81.7 465.8 81.9 465.9C82.1 466.0 82.4 466.1 82.6 466.3C82.8 466.4 83.1 466.6 83.3 466.8C83.5 466.9 83.8 467.2 84.0 467.4C84.2 467.6 84.3 467.8 84.5 468.1C84.6 468.4 84.7 468.6 84.8 468.9C84.8 469.2 84.8 469.5 84.8 469.8Z" fill="#555555" stroke="#d0d0d0" stroke-width="0.9"/>
<path d="M84.19,469.80C84.2 470.1 84.1 470.3 84.0 470.6C83.9 470.8 83.7 471.1 83.5 471.3C83.4 471.5 83.1 471.7 82.9 471.9C82.7 472.1 82.5 472.2 82.3 472.4C82.1 472.5 81.8 472.6 81.6 472.8C81.4 472.9 81.2 473.0 81.0 473.1C80.8 473.1 80.6 473.2 80.4 473.3C80.2 473.4 80.0 473.4 79.8 473.5C79.6 473.5 79.4 473.6 79.3 473.6C79.1 473.6 78.9 473.7 78.7 473.7C78.6 473.7 78.4 473.7 78.3 473.8C78.1 473.8 78.0 473.8 77.8 473.8C77.7 473.8 77.5 473.9 77.4 473.9C77.2 473.9 77.1 473.9 76.9 473.9C76.8 473.9 76.6 473.9 76.5 473.9C76.4 473.9 76.2 473.9 76.1 473.9C75.9 473.9 75.8 473.9 75.6 473.9C75.5 473.9 75.3 473.9 75.2 473.8C75.0 473.8 74.9 473.8 74.7 473.8C74.6 473.8 74.4 473.7 74.2 473.7C74.1 473.7 73.9 473.7 73.7 473.6C73.5 473.6 73.4 473.5 73.2 473.5C73.0 473.4 72.8 473.4 72.6 473.3C72.4 473.2 72.2 473.2 72.0 473.1C71.8 473.0 71.5 472.9 71.3 472.8C71.1 472.7 70.9 472.6 70.6 472.4C70.4 472.3 70.2 472.1 70.0 471.9C69.8 471.7 69.6 471.5 69.4 471.3C69.2 471.1 69.1 470.8 69.0 470.6C68.8 470.3 68.8 470.1 68.7 469.8C68.7 469.5 68.7 469.3 68.8 469.0C68.8 468.7 68.9 468.5 69.0 468.2C69.2 468.0 69.3 467.7 69.5 467.5C69.7 467.3 69.9 467.1 70.1 467.0C70.3 466.8 70.6 466.6 70.8 466.5C71.0 466.4 71.2 466.2 71.5 466.1C71.7 466.0 71.9 465.9 72.1 465.9C72.3 465.8 72.5 465.7 72.8 465.6C73.0 465.6 73.2 465.5 73.4 465.5C73.6 465.4 73.7 465.4 73.9 465.3C74.1 465.3 74.3 465.3 74.5 465.2C74.7 465.2 74.8 465.2 75.0 465.2C75.2 465.2 75.3 465.1 75.5 465.1C75.7 465.1 75.8 465.1 76.0 465.1C76.2 465.1 76.3 465.1 76.5 465.1C76.7 465.1 76.8 465.1 77.0 465.1C77.2 465.1 77.3 465.1 77.5 465.1C77.7 465.2 77.8 465.2 78.0 465.2C78.2 465.2 78.3 465.2 78.5 465.3C78.7 465.3 78.9 465.3 79.1 465.4C79.2 465.4 79.4 465.4 79.6 465.5C79.8 465.5 80.0 465.6 80.2 465.7C80.4 465.7 80.6 465.8 80.9 465.9C81.1 466.0 81.3 466.1 81.5 466.2C81.7 466.3 82.0 466.4 82.2 466.5C82.4 466.7 82.6 466.8 82.8 467.0C83.0 467.2 83.2 467.3 83.4 467.6C83.6 467.8 83.8 468.0 83.9 468.2C84.0 468.5 84.1 468.7 84.2 469.0C84.2 469.3 84.2 469.5 84.2 469.8Z" fill="#373737"/>
<path d="M83.62,469.80C83.6 470.0 83.5 470.3 83.4 470.5C83.3 470.8 83.2 471.0 83.1 471.2C82.9 471.4 82.7 471.6 82.5 471.8C82.4 471.9 82.2 472.1 82.0 472.2C81.8 472.4 81.6 472.5 81.4 472.6C81.2 472.7 81.0 472.8 80.8 472.9C80.6 473.0 80.4 473.1 80.2 473.1C80.0 473.2 79.8 473.3 79.7 473.3C79.5 473.4 79.3 473.4 79.2 473.5C79.0 473.5 78.8 473.5 78.7 473.6C78.5 473.6 78.4 473.6 78.2 473.6C78.1 473.7 77.9 473.7 77.8 473.7C77.6 473.7 77.5 473.7 77.3 473.7C77.2 473.8 77.1 473.8 76.9 473.8C76.8 473.8 76.6 473.8 76.5 473.8C76.4 473.8 76.2 473.8 76.1 473.8C75.9 473.8 75.8 473.8 75.7 473.8C75.5 473.8 75.4 473.8 75.2 473.7C75.1 473.7 74.9 473.7 74.8 473.7C74.6 473.7 74.4 473.7 74.3 473.6C74.1 473.6 74.0 473.6 73.8 473.5C73.6 473.5 73.4 473.5 73.2 473.4C73.1 473.4 72.9 473.3 72.7 473.2C72.5 473.2 72.3 473.1 72.1 473.0C71.9 472.9 71.6 472.8 71.4 472.7C71.2 472.6 71.0 472.5 70.8 472.3C70.6 472.2 70.4 472.0 70.2 471.9C70.0 471.7 69.8 471.5 69.6 471.3C69.5 471.0 69.3 470.8 69.2 470.6C69.1 470.3 69.0 470.1 69.0 469.8C69.0 469.5 69.0 469.3 69.1 469.0C69.1 468.8 69.2 468.5 69.4 468.3C69.5 468.1 69.7 467.8 69.9 467.6C70.0 467.4 70.2 467.3 70.4 467.1C70.6 466.9 70.9 466.8 71.1 466.7C71.3 466.5 71.5 466.4 71.7 466.3C71.9 466.2 72.2 466.1 72.4 466.1C72.6 466.0 72.8 465.9 73.0 465.9C73.2 465.8 73.4 465.8 73.5 465.7C73.7 465.7 73.9 465.6 74.1 465.6C74.3 465.6 74.4 465.5 74.6 465.5C74.8 465.5 74.9 465.5 75.1 465.5C75.3 465.4 75.4 465.4 75.6 465.4C75.7 465.4 75.9 465.4 76.0 465.4C76.2 465.4 76.3 465.4 76.5 465.4C76.7 465.4 76.8 465.4 77.0 465.4C77.1 465.4 77.3 465.4 77.4 465.5C77.6 465.5 77.7 465.5 77.9 465.5C78.1 465.5 78.2 465.5 78.4 465.6C78.5 465.6 78.7 465.6 78.9 465.7C79.1 465.7 79.2 465.7 79.4 465.8C79.6 465.8 79.8 465.9 80.0 466.0C80.1 466.0 80.3 466.1 80.5 466.2C80.7 466.2 80.9 466.3 81.1 466.4C81.3 466.5 81.5 466.6 81.7 466.8C81.9 466.9 82.1 467.0 82.3 467.2C82.5 467.4 82.7 467.5 82.9 467.7C83.0 467.9 83.2 468.1 83.3 468.4C83.4 468.6 83.5 468.8 83.6 469.1C83.6 469.3 83.6 469.6 83.6 469.8Z" fill="#272727"/>
<path d="M83.05,469.80C83.0 470.0 83.0 470.3 82.9 470.5C82.8 470.7 82.7 470.9 82.6 471.1C82.5 471.3 82.3 471.5 82.2 471.6C82.0 471.8 81.8 472.0 81.6 472.1C81.5 472.2 81.3 472.3 81.1 472.5C80.9 472.6 80.7 472.7 80.6 472.8C80.4 472.8 80.2 472.9 80.0 473.0C79.9 473.1 79.7 473.1 79.5 473.2C79.4 473.2 79.2 473.3 79.1 473.3C78.9 473.4 78.7 473.4 78.6 473.4C78.4 473.5 78.3 473.5 78.2 473.5C78.0 473.5 77.9 473.6 77.7 473.6C77.6 473.6 77.5 473.6 77.3 473.6C77.2 473.6 77.0 473.7 76.9 473.7C76.8 473.7 76.6 473.7 76.5 473.7C76.4 473.7 76.2 473.7 76.1 473.7C76.0 473.7 75.8 473.7 75.7 473.7C75.5 473.7 75.4 473.7 75.2 473.7C75.1 473.6 75.0 473.6 74.8 473.6C74.6 473.6 74.5 473.6 74.3 473.6C74.2 473.5 74.0 473.5 73.8 473.5C73.7 473.4 73.5 473.4 73.3 473.3C73.1 473.3 72.9 473.2 72.8 473.2C72.6 473.1 72.4 473.0 72.2 472.9C72.0 472.9 71.8 472.8 71.6 472.7C71.3 472.5 71.1 472.4 70.9 472.3C70.7 472.1 70.5 472.0 70.3 471.8C70.2 471.6 70.0 471.4 69.8 471.2C69.7 471.0 69.6 470.8 69.5 470.5C69.4 470.3 69.3 470.0 69.3 469.8C69.3 469.6 69.3 469.3 69.4 469.1C69.5 468.8 69.6 468.6 69.7 468.4C69.8 468.1 70.0 467.9 70.2 467.7C70.4 467.6 70.6 467.4 70.8 467.2C71.0 467.1 71.2 467.0 71.4 466.8C71.6 466.7 71.8 466.6 72.0 466.5C72.2 466.4 72.4 466.4 72.6 466.3C72.8 466.2 73.0 466.2 73.2 466.1C73.4 466.1 73.5 466.0 73.7 466.0C73.9 465.9 74.1 465.9 74.2 465.9C74.4 465.8 74.6 465.8 74.7 465.8C74.9 465.8 75.0 465.8 75.2 465.7C75.3 465.7 75.5 465.7 75.6 465.7C75.8 465.7 75.9 465.7 76.1 465.7C76.2 465.7 76.4 465.7 76.5 465.7C76.6 465.7 76.8 465.7 76.9 465.7C77.1 465.7 77.2 465.8 77.4 465.8C77.5 465.8 77.6 465.8 77.8 465.8C77.9 465.8 78.1 465.9 78.2 465.9C78.4 465.9 78.5 465.9 78.7 466.0C78.9 466.0 79.0 466.1 79.2 466.1C79.3 466.2 79.5 466.2 79.7 466.3C79.9 466.3 80.0 466.4 80.2 466.5C80.4 466.5 80.6 466.6 80.7 466.7C80.9 466.8 81.1 466.9 81.3 467.0C81.5 467.1 81.7 467.3 81.8 467.4C82.0 467.6 82.2 467.7 82.3 467.9C82.5 468.1 82.6 468.3 82.7 468.5C82.8 468.7 82.9 468.9 83.0 469.1C83.0 469.3 83.1 469.6 83.0 469.8Z" fill="#1a1a1a"/>
<path d="M82.47,469.80C82.5 470.0 82.4 470.2 82.4 470.4C82.3 470.6 82.2 470.8 82.1 471.0C82.0 471.2 81.9 471.4 81.8 471.5C81.6 471.7 81.5 471.8 81.3 471.9C81.2 472.1 81.0 472.2 80.8 472.3C80.7 472.4 80.5 472.5 80.4 472.6C80.2 472.7 80.0 472.8 79.9 472.8C79.7 472.9 79.6 473.0 79.4 473.0C79.2 473.1 79.1 473.1 79.0 473.2C78.8 473.2 78.7 473.3 78.5 473.3C78.4 473.3 78.2 473.4 78.1 473.4C78.0 473.4 77.8 473.4 77.7 473.5C77.6 473.5 77.4 473.5 77.3 473.5C77.2 473.5 77.0 473.5 76.9 473.6C76.8 473.6 76.6 473.6 76.5 473.6C76.4 473.6 76.2 473.6 76.1 473.6C76.0 473.6 75.8 473.6 75.7 473.6C75.6 473.6 75.4 473.6 75.3 473.6C75.1 473.6 75.0 473.5 74.8 473.5C74.7 473.5 74.5 473.5 74.4 473.5C74.2 473.4 74.1 473.4 73.9 473.4C73.7 473.3 73.6 473.3 73.4 473.3C73.2 473.2 73.0 473.2 72.8 473.1C72.7 473.0 72.5 473.0 72.3 472.9C72.1 472.8 71.9 472.7 71.7 472.6C71.5 472.5 71.3 472.4 71.1 472.2C70.9 472.1 70.7 471.9 70.5 471.7C70.3 471.6 70.2 471.4 70.0 471.2C69.9 471.0 69.8 470.7 69.7 470.5C69.7 470.3 69.6 470.0 69.6 469.8C69.6 469.6 69.6 469.3 69.7 469.1C69.8 468.9 69.9 468.6 70.0 468.4C70.2 468.2 70.3 468.0 70.5 467.9C70.7 467.7 70.9 467.5 71.1 467.4C71.3 467.2 71.5 467.1 71.7 467.0C71.9 466.9 72.1 466.8 72.3 466.7C72.5 466.6 72.7 466.6 72.8 466.5C73.0 466.4 73.2 466.4 73.4 466.3C73.6 466.3 73.7 466.3 73.9 466.2C74.1 466.2 74.2 466.2 74.4 466.1C74.5 466.1 74.7 466.1 74.8 466.1C75.0 466.1 75.1 466.0 75.3 466.0C75.4 466.0 75.6 466.0 75.7 466.0C75.8 466.0 76.0 466.0 76.1 466.0C76.2 466.0 76.4 466.0 76.5 466.0C76.6 466.0 76.8 466.0 76.9 466.0C77.0 466.0 77.2 466.1 77.3 466.1C77.4 466.1 77.6 466.1 77.7 466.1C77.8 466.2 78.0 466.2 78.1 466.2C78.2 466.2 78.4 466.3 78.5 466.3C78.7 466.3 78.8 466.4 79.0 466.4C79.1 466.5 79.3 466.5 79.4 466.6C79.6 466.6 79.7 466.7 79.9 466.8C80.0 466.8 80.2 466.9 80.4 467.0C80.5 467.1 80.7 467.2 80.9 467.3C81.0 467.4 81.2 467.5 81.3 467.6C81.5 467.8 81.7 467.9 81.8 468.1C81.9 468.2 82.0 468.4 82.1 468.6C82.3 468.8 82.3 469.0 82.4 469.2C82.4 469.4 82.5 469.6 82.5 469.8Z" fill="#0f0f0f"/>
<path d="M81.90,469.80C81.9 470.0 81.9 470.2 81.9 470.4C81.8 470.5 81.7 470.7 81.7 470.9C81.6 471.1 81.5 471.2 81.4 471.4C81.3 471.5 81.1 471.7 81.0 471.8C80.9 471.9 80.7 472.0 80.6 472.2C80.4 472.3 80.3 472.4 80.1 472.4C80.0 472.5 79.8 472.6 79.7 472.7C79.6 472.8 79.4 472.8 79.3 472.9C79.1 472.9 79.0 473.0 78.9 473.0C78.7 473.1 78.6 473.1 78.4 473.2C78.3 473.2 78.2 473.2 78.0 473.3C77.9 473.3 77.8 473.3 77.7 473.3C77.5 473.4 77.4 473.4 77.3 473.4C77.1 473.4 77.0 473.4 76.9 473.5C76.8 473.5 76.6 473.5 76.5 473.5C76.4 473.5 76.2 473.5 76.1 473.5C76.0 473.5 75.8 473.5 75.7 473.5C75.6 473.5 75.4 473.5 75.3 473.5C75.2 473.5 75.0 473.5 74.9 473.4C74.7 473.4 74.6 473.4 74.4 473.4C74.3 473.4 74.1 473.3 74.0 473.3C73.8 473.3 73.6 473.2 73.5 473.2C73.3 473.1 73.1 473.1 72.9 473.0C72.7 473.0 72.5 472.9 72.4 472.8C72.2 472.7 72.0 472.6 71.8 472.5C71.6 472.4 71.4 472.3 71.2 472.2C71.0 472.0 70.9 471.9 70.7 471.7C70.5 471.5 70.4 471.3 70.3 471.1C70.1 470.9 70.0 470.7 70.0 470.5C69.9 470.3 69.9 470.0 69.9 469.8C69.9 469.6 70.0 469.3 70.0 469.1C70.1 468.9 70.2 468.7 70.4 468.5C70.5 468.3 70.7 468.1 70.8 468.0C71.0 467.8 71.2 467.7 71.4 467.5C71.6 467.4 71.8 467.3 72.0 467.2C72.2 467.1 72.3 467.0 72.5 466.9C72.7 466.8 72.9 466.8 73.1 466.7C73.3 466.7 73.4 466.6 73.6 466.6C73.8 466.5 73.9 466.5 74.1 466.5C74.2 466.4 74.4 466.4 74.5 466.4C74.7 466.4 74.8 466.4 75.0 466.3C75.1 466.3 75.2 466.3 75.4 466.3C75.5 466.3 75.6 466.3 75.8 466.3C75.9 466.3 76.0 466.3 76.1 466.3C76.3 466.3 76.4 466.3 76.5 466.3C76.6 466.3 76.7 466.3 76.9 466.3C77.0 466.4 77.1 466.4 77.2 466.4C77.3 466.4 77.5 466.4 77.6 466.4C77.7 466.5 77.8 466.5 78.0 466.5C78.1 466.5 78.2 466.6 78.3 466.6C78.5 466.6 78.6 466.7 78.7 466.7C78.9 466.8 79.0 466.8 79.1 466.9C79.3 466.9 79.4 467.0 79.6 467.0C79.7 467.1 79.8 467.2 80.0 467.3C80.1 467.3 80.3 467.4 80.4 467.5C80.6 467.6 80.7 467.7 80.8 467.9C81.0 468.0 81.1 468.1 81.2 468.3C81.4 468.4 81.5 468.6 81.6 468.7C81.7 468.9 81.7 469.1 81.8 469.2C81.9 469.4 81.9 469.6 81.9 469.8Z" fill="#4c4c4c" stroke="#d0d0d0" stroke-width="0.9"/>
<path d="M80.82,469.80C80.8 469.9 80.8 470.1 80.8 470.2C80.7 470.4 80.7 470.5 80.6 470.7C80.6 470.8 80.5 470.9 80.4 471.1C80.3 471.2 80.2 471.3 80.1 471.4C80.0 471.5 79.9 471.6 79.8 471.7C79.6 471.8 79.5 471.8 79.4 471.9C79.3 472.0 79.2 472.0 79.1 472.1C78.9 472.2 78.8 472.2 78.7 472.3C78.6 472.3 78.5 472.4 78.4 472.4C78.3 472.4 78.2 472.5 78.1 472.5C77.9 472.5 77.8 472.5 77.7 472.6C77.6 472.6 77.5 472.6 77.4 472.6C77.3 472.7 77.2 472.7 77.1 472.7C77.0 472.7 76.9 472.7 76.8 472.7C76.7 472.7 76.6 472.7 76.5 472.7C76.4 472.8 76.3 472.8 76.2 472.8C76.1 472.8 76.0 472.8 75.9 472.8C75.8 472.8 75.7 472.8 75.5 472.7C75.4 472.7 75.3 472.7 75.2 472.7C75.1 472.7 75.0 472.7 74.8 472.7C74.7 472.7 74.6 472.6 74.5 472.6C74.3 472.6 74.2 472.5 74.1 472.5C73.9 472.5 73.8 472.4 73.6 472.4C73.5 472.3 73.3 472.3 73.2 472.2C73.0 472.1 72.9 472.1 72.7 472.0C72.6 471.9 72.4 471.8 72.3 471.7C72.1 471.6 72.0 471.4 71.9 471.3C71.7 471.2 71.6 471.0 71.5 470.9C71.4 470.7 71.3 470.5 71.3 470.3C71.2 470.2 71.2 470.0 71.2 469.8C71.2 469.6 71.3 469.4 71.3 469.3C71.4 469.1 71.5 468.9 71.6 468.8C71.7 468.6 71.8 468.5 72.0 468.3C72.1 468.2 72.3 468.1 72.4 468.0C72.6 467.9 72.7 467.8 72.9 467.7C73.0 467.6 73.2 467.6 73.3 467.5C73.5 467.4 73.6 467.4 73.8 467.3C73.9 467.3 74.0 467.3 74.2 467.2C74.3 467.2 74.4 467.2 74.6 467.1C74.7 467.1 74.8 467.1 74.9 467.1C75.0 467.1 75.2 467.0 75.3 467.0C75.4 467.0 75.5 467.0 75.6 467.0C75.7 467.0 75.8 467.0 75.9 467.0C76.0 467.0 76.1 467.0 76.2 467.0C76.3 467.0 76.4 467.0 76.5 467.0C76.6 467.0 76.7 467.0 76.8 467.0C76.9 467.0 77.0 467.1 77.1 467.1C77.2 467.1 77.3 467.1 77.4 467.1C77.5 467.1 77.6 467.2 77.7 467.2C77.8 467.2 77.9 467.2 78.0 467.2C78.1 467.3 78.2 467.3 78.3 467.3C78.4 467.4 78.5 467.4 78.6 467.5C78.7 467.5 78.8 467.5 78.9 467.6C79.1 467.6 79.2 467.7 79.3 467.8C79.4 467.8 79.5 467.9 79.6 468.0C79.8 468.1 79.9 468.2 80.0 468.3C80.1 468.3 80.2 468.5 80.3 468.6C80.4 468.7 80.5 468.8 80.6 468.9C80.6 469.1 80.7 469.2 80.7 469.4C80.8 469.5 80.8 469.7 80.8 469.8Z" fill="#3d3d3d"/>
<path d="M79.74,469.80C79.7 469.9 79.7 470.0 79.7 470.1C79.7 470.2 79.6 470.4 79.6 470.5C79.6 470.6 79.5 470.7 79.4 470.7C79.4 470.8 79.3 470.9 79.2 471.0C79.1 471.1 79.0 471.1 78.9 471.2C78.9 471.3 78.8 471.3 78.7 471.4C78.6 471.4 78.5 471.5 78.4 471.5C78.3 471.6 78.2 471.6 78.2 471.6C78.1 471.7 78.0 471.7 77.9 471.7C77.8 471.8 77.7 471.8 77.7 471.8C77.6 471.8 77.5 471.9 77.4 471.9C77.3 471.9 77.3 471.9 77.2 471.9C77.1 471.9 77.0 472.0 77.0 472.0C76.9 472.0 76.8 472.0 76.7 472.0C76.7 472.0 76.6 472.0 76.5 472.0C76.4 472.0 76.3 472.0 76.3 472.0C76.2 472.0 76.1 472.0 76.0 472.0C75.9 472.0 75.9 472.0 75.8 472.0C75.7 472.0 75.6 472.0 75.5 472.0C75.4 472.0 75.3 472.0 75.3 472.0C75.2 471.9 75.1 471.9 75.0 471.9C74.9 471.9 74.8 471.9 74.7 471.8C74.6 471.8 74.5 471.8 74.4 471.7C74.2 471.7 74.1 471.7 74.0 471.6C73.9 471.6 73.8 471.5 73.7 471.4C73.6 471.4 73.4 471.3 73.3 471.2C73.2 471.1 73.1 471.0 73.0 470.9C72.9 470.8 72.8 470.7 72.8 470.6C72.7 470.5 72.6 470.3 72.6 470.2C72.6 470.1 72.5 469.9 72.5 469.8C72.5 469.7 72.6 469.5 72.6 469.4C72.7 469.3 72.7 469.1 72.8 469.0C72.9 468.9 73.0 468.8 73.1 468.7C73.2 468.6 73.3 468.5 73.4 468.4C73.5 468.4 73.7 468.3 73.8 468.2C73.9 468.2 74.0 468.1 74.1 468.1C74.2 468.0 74.3 468.0 74.4 468.0C74.6 467.9 74.7 467.9 74.8 467.9C74.9 467.8 75.0 467.8 75.0 467.8C75.1 467.8 75.2 467.8 75.3 467.8C75.4 467.7 75.5 467.7 75.6 467.7C75.7 467.7 75.7 467.7 75.8 467.7C75.9 467.7 76.0 467.7 76.1 467.7C76.1 467.7 76.2 467.7 76.3 467.7C76.4 467.7 76.4 467.7 76.5 467.7C76.6 467.7 76.6 467.7 76.7 467.7C76.8 467.7 76.9 467.7 76.9 467.8C77.0 467.8 77.1 467.8 77.2 467.8C77.2 467.8 77.3 467.8 77.4 467.8C77.5 467.8 77.5 467.9 77.6 467.9C77.7 467.9 77.8 467.9 77.8 468.0C77.9 468.0 78.0 468.0 78.1 468.0C78.2 468.1 78.2 468.1 78.3 468.1C78.4 468.2 78.5 468.2 78.6 468.3C78.7 468.3 78.8 468.4 78.9 468.4C78.9 468.5 79.0 468.6 79.1 468.6C79.2 468.7 79.3 468.8 79.3 468.9C79.4 469.0 79.5 469.1 79.5 469.2C79.6 469.3 79.6 469.4 79.7 469.5C79.7 469.6 79.7 469.7 79.7 469.8Z" fill="#2e2e2e"/>
<path d="M78.66,469.80C78.7 469.9 78.7 470.0 78.6 470.0C78.6 470.1 78.6 470.2 78.6 470.2C78.5 470.3 78.5 470.4 78.4 470.4C78.4 470.5 78.4 470.5 78.3 470.6C78.2 470.7 78.2 470.7 78.1 470.7C78.1 470.8 78.0 470.8 78.0 470.9C77.9 470.9 77.8 470.9 77.8 471.0C77.7 471.0 77.7 471.0 77.6 471.0C77.6 471.1 77.5 471.1 77.4 471.1C77.4 471.1 77.3 471.1 77.3 471.1C77.2 471.2 77.2 471.2 77.1 471.2C77.1 471.2 77.0 471.2 77.0 471.2C76.9 471.2 76.9 471.2 76.8 471.2C76.8 471.2 76.7 471.3 76.7 471.3C76.6 471.3 76.6 471.3 76.5 471.3C76.4 471.3 76.4 471.3 76.3 471.3C76.3 471.3 76.2 471.3 76.2 471.3C76.1 471.3 76.1 471.3 76.0 471.3C76.0 471.3 75.9 471.3 75.9 471.3C75.8 471.3 75.7 471.2 75.7 471.2C75.6 471.2 75.5 471.2 75.5 471.2C75.4 471.2 75.3 471.2 75.3 471.2C75.2 471.1 75.1 471.1 75.1 471.1C75.0 471.1 74.9 471.0 74.8 471.0C74.8 471.0 74.7 470.9 74.6 470.9C74.5 470.8 74.5 470.8 74.4 470.7C74.3 470.7 74.2 470.6 74.2 470.6C74.1 470.5 74.1 470.4 74.0 470.3C74.0 470.3 73.9 470.2 73.9 470.1C73.9 470.0 73.9 469.9 73.9 469.8C73.9 469.7 73.9 469.6 73.9 469.5C73.9 469.4 74.0 469.4 74.0 469.3C74.1 469.2 74.2 469.1 74.2 469.1C74.3 469.0 74.4 468.9 74.5 468.9C74.5 468.8 74.6 468.8 74.7 468.8C74.8 468.7 74.8 468.7 74.9 468.6C75.0 468.6 75.1 468.6 75.1 468.6C75.2 468.5 75.3 468.5 75.3 468.5C75.4 468.5 75.5 468.5 75.5 468.5C75.6 468.5 75.7 468.4 75.7 468.4C75.8 468.4 75.8 468.4 75.9 468.4C75.9 468.4 76.0 468.4 76.0 468.4C76.1 468.4 76.2 468.4 76.2 468.4C76.3 468.4 76.3 468.4 76.4 468.4C76.4 468.4 76.5 468.4 76.5 468.4C76.5 468.4 76.6 468.4 76.6 468.4C76.7 468.4 76.7 468.4 76.8 468.4C76.8 468.4 76.9 468.4 76.9 468.5C77.0 468.5 77.0 468.5 77.1 468.5C77.1 468.5 77.2 468.5 77.2 468.5C77.3 468.5 77.3 468.6 77.4 468.6C77.4 468.6 77.5 468.6 77.6 468.6C77.6 468.6 77.7 468.7 77.7 468.7C77.8 468.7 77.8 468.8 77.9 468.8C78.0 468.8 78.0 468.9 78.1 468.9C78.1 468.9 78.2 469.0 78.2 469.0C78.3 469.1 78.3 469.1 78.4 469.2C78.4 469.2 78.5 469.3 78.5 469.4C78.6 469.4 78.6 469.5 78.6 469.6C78.6 469.6 78.7 469.7 78.7 469.8Z" fill="#1f1f1f"/>
<path d="M77.58,469.80C77.6 469.8 77.6 469.9 77.6 469.9C77.6 469.9 77.5 470.0 77.5 470.0C77.5 470.1 77.5 470.1 77.5 470.1C77.5 470.1 77.4 470.2 77.4 470.2C77.4 470.2 77.3 470.2 77.3 470.3C77.3 470.3 77.3 470.3 77.2 470.3C77.2 470.3 77.2 470.4 77.1 470.4C77.1 470.4 77.1 470.4 77.1 470.4C77.0 470.4 77.0 470.4 77.0 470.4C76.9 470.5 76.9 470.5 76.9 470.5C76.9 470.5 76.8 470.5 76.8 470.5C76.8 470.5 76.8 470.5 76.7 470.5C76.7 470.5 76.7 470.5 76.7 470.5C76.6 470.5 76.6 470.5 76.6 470.5C76.6 470.5 76.5 470.5 76.5 470.5C76.5 470.5 76.4 470.5 76.4 470.5C76.4 470.5 76.4 470.5 76.3 470.5C76.3 470.5 76.3 470.5 76.3 470.5C76.2 470.5 76.2 470.5 76.2 470.5C76.1 470.5 76.1 470.5 76.1 470.5C76.1 470.5 76.0 470.5 76.0 470.5C76.0 470.5 75.9 470.5 75.9 470.5C75.9 470.5 75.8 470.5 75.8 470.4C75.7 470.4 75.7 470.4 75.7 470.4C75.6 470.4 75.6 470.4 75.6 470.3C75.5 470.3 75.5 470.3 75.4 470.3C75.4 470.2 75.4 470.2 75.3 470.2C75.3 470.1 75.3 470.1 75.3 470.1C75.2 470.0 75.2 470.0 75.2 469.9C75.2 469.9 75.2 469.8 75.2 469.8C75.2 469.8 75.2 469.7 75.2 469.7C75.2 469.6 75.2 469.6 75.3 469.5C75.3 469.5 75.3 469.5 75.4 469.4C75.4 469.4 75.4 469.4 75.5 469.3C75.5 469.3 75.6 469.3 75.6 469.3C75.6 469.3 75.7 469.2 75.7 469.2C75.7 469.2 75.8 469.2 75.8 469.2C75.9 469.2 75.9 469.2 75.9 469.2C76.0 469.1 76.0 469.1 76.0 469.1C76.0 469.1 76.1 469.1 76.1 469.1C76.1 469.1 76.2 469.1 76.2 469.1C76.2 469.1 76.2 469.1 76.3 469.1C76.3 469.1 76.3 469.1 76.4 469.1C76.4 469.1 76.4 469.1 76.4 469.1C76.5 469.1 76.5 469.1 76.5 469.1C76.5 469.1 76.5 469.1 76.6 469.1C76.6 469.1 76.6 469.1 76.6 469.1C76.7 469.1 76.7 469.1 76.7 469.1C76.7 469.1 76.8 469.1 76.8 469.1C76.8 469.1 76.8 469.2 76.9 469.2C76.9 469.2 76.9 469.2 76.9 469.2C77.0 469.2 77.0 469.2 77.0 469.2C77.1 469.2 77.1 469.2 77.1 469.2C77.1 469.3 77.2 469.3 77.2 469.3C77.2 469.3 77.3 469.3 77.3 469.3C77.3 469.4 77.3 469.4 77.4 469.4C77.4 469.4 77.4 469.5 77.4 469.5C77.5 469.5 77.5 469.6 77.5 469.6C77.5 469.6 77.5 469.7 77.6 469.7C77.6 469.7 77.6 469.8 77.6 469.8Z" fill="#0f0f0f"/>
<ellipse cx="57.8" cy="441.5" rx="4.2" ry="3.0" fill="#000"/><ellipse cx="57.3" cy="441.5" rx="2.2" ry="1.4" fill="#ddd"/>
</g>
<circle cx="108.9" cy="452.3" r="2.7" fill="#000"/>
<ellipse cx="121.5" cy="458.3" rx="3.9" ry="1.8" fill="#000"/>
<ellipse cx="107.3" cy="465" rx="5" ry="3.1" fill="#000"/><ellipse cx="107.5" cy="465" rx="3" ry="1.7" fill="#e0e0e0"/>
<g clip-path="url(#cp2)">
<path d="M281.84,469.50C280.6 471.2 280.0 472.9 278.3 474.2C276.6 475.6 274.2 476.9 271.4 477.6C268.7 478.4 264.4 478.5 262.0 478.8C259.5 479.2 258.2 479.6 256.6 479.9C255.1 480.2 253.8 480.5 252.6 480.7C251.4 480.9 250.4 481.1 249.5 481.3C248.5 481.5 247.6 481.6 246.8 481.7C245.9 481.8 245.1 481.8 244.3 481.9C243.6 481.9 242.9 481.9 242.3 482.0C241.6 482.0 241.0 482.0 240.4 482.1C239.9 482.1 239.3 482.1 238.8 482.1C238.3 482.2 237.8 482.2 237.3 482.2C236.8 482.2 236.4 482.3 235.9 482.3C235.5 482.3 235.0 482.3 234.6 482.4C234.1 482.4 233.7 482.4 233.2 482.4C232.7 482.4 232.3 482.5 231.8 482.5C231.4 482.5 230.9 482.4 230.5 482.3C230.0 482.3 229.6 482.2 229.1 482.1C228.6 482.1 228.2 482.0 227.7 481.9C227.2 481.8 226.7 481.8 226.2 481.7C225.6 481.6 225.1 481.5 224.5 481.5C223.9 481.4 223.3 481.3 222.7 481.2C222.0 481.1 221.2 481.1 220.6 480.9C219.9 480.7 219.3 480.4 218.6 480.1C217.9 479.8 217.2 479.6 216.3 479.2C215.5 478.9 214.5 478.6 213.7 478.2C212.9 477.7 212.3 477.1 211.7 476.5C211.1 475.9 211.5 475.1 210.0 474.4C208.6 473.8 204.2 473.5 203.0 472.7C201.8 471.9 203.0 470.6 203.0 469.5C203.0 468.4 203.0 467.4 203.0 466.3C203.0 465.3 203.0 464.2 203.0 463.1C203.0 462.0 203.0 460.9 203.0 459.7C203.0 458.5 203.0 457.3 203.0 456.1C203.0 454.8 202.0 452.7 203.0 452.1C204.0 451.4 207.5 452.1 209.1 452.0C210.7 451.8 211.6 451.4 212.7 451.0C213.8 450.7 214.7 450.3 215.7 450.0C216.6 449.7 217.5 449.4 218.4 449.1C219.2 448.8 220.0 448.4 220.9 448.1C221.7 447.8 222.5 447.5 223.3 447.2C224.1 446.9 224.8 446.5 225.6 446.1C226.4 445.7 227.2 445.2 228.0 445.0C228.8 444.7 229.7 444.6 230.6 444.4C231.4 444.3 232.3 444.2 233.2 444.1C234.1 444.0 235.0 443.9 235.9 443.8C236.8 443.7 237.8 443.6 238.7 443.5C239.7 443.4 240.8 443.1 241.7 443.2C242.7 443.3 243.7 443.6 244.6 443.9C245.5 444.2 246.4 444.7 247.3 445.1C248.2 445.5 248.9 446.1 250.1 446.2C251.3 446.4 253.0 445.9 254.4 445.9C255.9 446.0 257.3 446.2 258.7 446.6C260.1 446.9 261.2 447.5 262.9 448.0C264.5 448.4 266.4 448.6 268.6 449.1C270.7 449.5 273.9 449.7 275.7 450.6C277.5 451.5 278.5 453.0 279.4 454.5C280.4 455.9 280.5 457.7 281.5 459.2C282.5 460.8 285.4 462.3 285.5 464.0C285.5 465.7 283.0 467.8 281.8 469.5Z" fill="#646464" stroke="#000" stroke-width="2.2"/>
<path d="M276.01,469.50C275.0 471.0 274.5 472.5 273.0 473.7C271.6 474.9 269.6 476.0 267.3 476.8C265.1 477.5 261.6 477.6 259.5 478.0C257.4 478.4 256.3 478.8 254.9 479.2C253.6 479.5 252.5 479.8 251.4 480.0C250.3 480.3 249.4 480.5 248.6 480.7C247.7 480.9 246.9 481.0 246.1 481.1C245.4 481.3 244.6 481.3 243.9 481.4C243.2 481.4 242.6 481.5 241.9 481.5C241.3 481.6 240.8 481.6 240.2 481.7C239.7 481.7 239.2 481.8 238.7 481.8C238.2 481.8 237.7 481.9 237.2 481.9C236.8 481.9 236.3 482.0 235.9 482.0C235.4 482.0 235.0 482.0 234.5 482.1C234.1 482.1 233.6 482.1 233.2 482.1C232.8 482.2 232.3 482.2 231.9 482.2C231.4 482.2 231.0 482.1 230.5 482.0C230.1 482.0 229.6 481.9 229.2 481.9C228.7 481.8 228.3 481.7 227.8 481.7C227.3 481.6 226.8 481.5 226.3 481.5C225.8 481.4 225.3 481.3 224.7 481.2C224.1 481.1 223.6 481.0 222.9 480.9C222.3 480.8 221.6 480.7 220.9 480.5C220.3 480.4 219.7 480.1 219.0 479.8C218.4 479.5 217.7 479.2 216.9 478.9C216.1 478.6 215.2 478.3 214.4 477.9C213.7 477.4 213.1 476.8 212.5 476.2C211.9 475.6 212.1 474.9 210.9 474.2C209.6 473.6 206.0 473.3 205.0 472.5C204.0 471.7 204.9 470.5 204.9 469.5C204.8 468.5 204.8 467.5 204.8 466.5C204.8 465.5 204.8 464.5 204.8 463.5C204.9 462.4 204.9 461.4 205.0 460.3C205.0 459.3 205.1 458.2 205.2 457.0C205.3 455.9 204.6 454.2 205.5 453.5C206.4 452.8 209.3 453.4 210.7 453.1C212.1 452.9 212.9 452.5 213.9 452.1C214.9 451.8 215.8 451.5 216.7 451.1C217.5 450.8 218.4 450.5 219.2 450.2C220.0 449.9 220.8 449.6 221.6 449.3C222.3 449.0 223.1 448.8 223.8 448.5C224.6 448.2 225.3 447.9 226.1 447.6C226.8 447.2 227.6 446.8 228.3 446.6C229.1 446.4 229.9 446.3 230.7 446.2C231.6 446.0 232.4 446.0 233.2 445.9C234.0 445.8 234.9 445.7 235.7 445.7C236.6 445.6 237.4 445.5 238.3 445.5C239.2 445.4 240.2 445.2 241.1 445.3C242.0 445.4 242.8 445.7 243.7 445.9C244.5 446.2 245.3 446.6 246.2 447.0C247.0 447.3 247.7 447.9 248.8 448.0C249.9 448.2 251.4 447.8 252.6 447.9C253.9 448.1 255.1 448.3 256.3 448.7C257.6 449.0 258.6 449.6 260.0 450.0C261.4 450.4 263.1 450.8 264.9 451.2C266.7 451.7 269.3 451.9 270.8 452.7C272.4 453.6 273.2 455.0 274.0 456.2C274.8 457.5 274.9 459.0 275.7 460.5C276.6 461.9 278.9 463.2 279.0 464.7C279.0 466.2 277.0 468.0 276.0 469.5Z" fill="#404040"/>
<path d="M270.17,469.50C269.4 470.8 268.9 472.1 267.8 473.1C266.6 474.2 265.0 475.2 263.2 475.9C261.4 476.6 258.7 476.8 257.0 477.2C255.3 477.7 254.3 478.1 253.2 478.4C252.1 478.8 251.1 479.0 250.2 479.3C249.3 479.6 248.5 479.8 247.7 480.0C246.9 480.2 246.2 480.4 245.5 480.6C244.8 480.7 244.1 480.8 243.4 480.9C242.8 481.0 242.2 481.0 241.6 481.1C241.1 481.2 240.5 481.2 240.0 481.3C239.5 481.4 239.0 481.4 238.5 481.5C238.0 481.5 237.6 481.6 237.1 481.6C236.7 481.6 236.2 481.7 235.8 481.7C235.4 481.7 234.9 481.8 234.5 481.8C234.1 481.8 233.6 481.8 233.2 481.9C232.8 481.9 232.3 481.9 231.9 481.9C231.5 481.9 231.0 481.8 230.6 481.8C230.2 481.7 229.7 481.7 229.3 481.6C228.8 481.6 228.4 481.5 227.9 481.4C227.4 481.4 226.9 481.3 226.4 481.2C225.9 481.1 225.4 481.0 224.9 480.9C224.3 480.8 223.8 480.7 223.2 480.6C222.6 480.5 221.9 480.4 221.3 480.2C220.7 480.0 220.1 479.7 219.5 479.5C218.8 479.2 218.2 478.9 217.5 478.6C216.7 478.3 215.9 478.0 215.2 477.5C214.5 477.1 213.9 476.5 213.3 476.0C212.8 475.4 212.8 474.7 211.8 474.1C210.7 473.4 207.9 473.0 207.1 472.2C206.2 471.5 206.8 470.4 206.7 469.5C206.7 468.6 206.6 467.6 206.6 466.7C206.6 465.8 206.6 464.8 206.7 463.9C206.7 462.9 206.8 461.9 207.0 461.0C207.1 460.0 207.2 459.0 207.4 458.0C207.6 457.0 207.2 455.6 208.0 454.9C208.8 454.3 211.1 454.6 212.3 454.3C213.5 454.0 214.2 453.6 215.1 453.2C216.0 452.9 216.8 452.6 217.7 452.2C218.5 451.9 219.3 451.6 220.0 451.4C220.8 451.1 221.5 450.8 222.3 450.5C223.0 450.3 223.7 450.0 224.4 449.8C225.1 449.5 225.8 449.3 226.5 449.0C227.3 448.7 227.9 448.4 228.7 448.2C229.4 448.0 230.2 448.0 230.9 447.9C231.7 447.8 232.4 447.7 233.2 447.7C234.0 447.6 234.7 447.6 235.5 447.5C236.3 447.5 237.1 447.4 237.9 447.4C238.7 447.4 239.6 447.3 240.4 447.4C241.2 447.4 242.0 447.7 242.8 448.0C243.6 448.2 244.3 448.6 245.1 448.9C245.9 449.2 246.6 449.6 247.5 449.8C248.4 450.0 249.7 449.8 250.8 450.0C251.9 450.1 252.9 450.4 254.0 450.8C255.1 451.1 256.0 451.7 257.1 452.1C258.3 452.5 259.7 452.9 261.2 453.4C262.6 453.8 264.7 454.1 266.0 454.9C267.2 455.7 267.9 456.9 268.6 458.0C269.2 459.1 269.4 460.4 270.0 461.7C270.7 462.9 272.5 464.1 272.5 465.4C272.5 466.7 271.0 468.2 270.2 469.5Z" fill="#2d2d2d"/>
<path d="M264.34,469.50C263.8 470.6 263.4 471.7 262.5 472.6C261.6 473.5 260.4 474.4 259.1 475.0C257.8 475.6 255.8 476.0 254.5 476.4C253.2 476.9 252.4 477.3 251.5 477.6C250.6 478.0 249.8 478.3 249.0 478.6C248.2 478.9 247.5 479.1 246.8 479.4C246.1 479.6 245.5 479.8 244.8 480.0C244.2 480.1 243.6 480.2 243.0 480.4C242.4 480.5 241.9 480.6 241.3 480.7C240.8 480.8 240.3 480.9 239.8 480.9C239.3 481.0 238.8 481.1 238.4 481.1C237.9 481.2 237.5 481.2 237.0 481.3C236.6 481.3 236.2 481.4 235.7 481.4C235.3 481.5 234.9 481.5 234.5 481.5C234.0 481.5 233.6 481.5 233.2 481.6C232.8 481.6 232.4 481.6 231.9 481.6C231.5 481.6 231.1 481.5 230.6 481.5C230.2 481.5 229.8 481.4 229.3 481.4C228.9 481.3 228.5 481.2 228.0 481.2C227.5 481.1 227.1 481.0 226.6 481.0C226.1 480.9 225.6 480.8 225.1 480.7C224.6 480.6 224.0 480.5 223.5 480.3C222.9 480.2 222.3 480.1 221.7 479.9C221.1 479.7 220.5 479.4 219.9 479.1C219.3 478.9 218.7 478.6 218.0 478.3C217.4 477.9 216.6 477.6 215.9 477.2C215.3 476.8 214.7 476.2 214.2 475.7C213.6 475.1 213.5 474.5 212.6 473.9C211.8 473.3 209.8 472.8 209.1 472.0C208.4 471.3 208.7 470.4 208.6 469.5C208.5 468.6 208.4 467.8 208.4 466.9C208.4 466.0 208.4 465.1 208.5 464.3C208.6 463.4 208.8 462.5 208.9 461.6C209.1 460.7 209.4 459.9 209.6 459.0C209.9 458.1 209.7 457.0 210.5 456.4C211.2 455.8 212.9 455.8 213.9 455.5C214.9 455.1 215.6 454.7 216.4 454.3C217.2 454.0 217.9 453.7 218.7 453.4C219.4 453.0 220.1 452.8 220.8 452.5C221.6 452.2 222.3 452.0 222.9 451.7C223.6 451.5 224.3 451.3 225.0 451.1C225.7 450.9 226.3 450.7 227.0 450.5C227.7 450.3 228.3 450.0 229.0 449.9C229.7 449.7 230.4 449.7 231.1 449.6C231.8 449.5 232.5 449.5 233.2 449.4C233.9 449.4 234.6 449.4 235.3 449.4C236.0 449.4 236.7 449.4 237.5 449.4C238.2 449.4 239.0 449.3 239.7 449.4C240.5 449.5 241.2 449.7 241.9 450.0C242.6 450.2 243.3 450.5 244.0 450.8C244.7 451.0 245.4 451.4 246.2 451.6C247.0 451.8 248.0 451.8 249.0 452.0C249.9 452.2 250.8 452.5 251.7 452.9C252.5 453.2 253.3 453.7 254.3 454.2C255.3 454.6 256.3 455.0 257.5 455.5C258.6 456.0 260.1 456.4 261.1 457.1C262.0 457.8 262.6 458.8 263.1 459.8C263.7 460.7 263.8 461.8 264.3 462.9C264.8 463.9 266.0 465.0 266.0 466.1C266.0 467.2 264.9 468.4 264.3 469.5Z" fill="#1e1e1e"/>
<path d="M258.50,469.50C258.1 470.4 257.8 471.3 257.2 472.0C256.6 472.8 255.8 473.5 255.0 474.1C254.1 474.7 252.9 475.2 252.0 475.6C251.1 476.1 250.5 476.5 249.8 476.9C249.1 477.3 248.4 477.6 247.8 477.9C247.1 478.2 246.5 478.5 245.9 478.7C245.3 479.0 244.7 479.2 244.2 479.4C243.6 479.6 243.1 479.7 242.5 479.9C242.0 480.0 241.5 480.1 241.0 480.3C240.5 480.4 240.1 480.5 239.6 480.6C239.1 480.7 238.7 480.7 238.2 480.8C237.8 480.9 237.4 480.9 236.9 481.0C236.5 481.0 236.1 481.1 235.7 481.1C235.3 481.2 234.8 481.2 234.4 481.2C234.0 481.2 233.6 481.3 233.2 481.3C232.8 481.3 232.4 481.3 232.0 481.3C231.5 481.3 231.1 481.3 230.7 481.2C230.3 481.2 229.9 481.2 229.4 481.1C229.0 481.1 228.6 481.0 228.1 480.9C227.7 480.9 227.2 480.8 226.7 480.7C226.3 480.6 225.8 480.5 225.3 480.4C224.8 480.3 224.3 480.2 223.7 480.0C223.2 479.9 222.6 479.7 222.1 479.5C221.5 479.3 220.9 479.1 220.4 478.8C219.8 478.6 219.2 478.3 218.6 477.9C218.0 477.6 217.3 477.3 216.7 476.8C216.1 476.4 215.5 475.9 215.0 475.4C214.5 474.9 214.1 474.3 213.5 473.7C212.8 473.1 211.6 472.5 211.1 471.8C210.6 471.1 210.6 470.3 210.5 469.5C210.3 468.7 210.2 467.9 210.2 467.1C210.2 466.3 210.2 465.4 210.4 464.6C210.5 463.8 210.7 463.0 210.9 462.3C211.2 461.5 211.5 460.7 211.8 460.0C212.1 459.2 212.3 458.4 212.9 457.8C213.6 457.2 214.7 457.0 215.5 456.6C216.2 456.2 216.9 455.8 217.6 455.5C218.3 455.1 219.0 454.8 219.7 454.5C220.3 454.2 221.0 453.9 221.7 453.6C222.3 453.4 223.0 453.2 223.6 452.9C224.3 452.7 224.9 452.6 225.6 452.4C226.2 452.2 226.9 452.1 227.5 451.9C228.1 451.8 228.7 451.6 229.4 451.5C230.0 451.4 230.6 451.3 231.3 451.3C231.9 451.3 232.6 451.2 233.2 451.2C233.8 451.2 234.5 451.2 235.1 451.2C235.8 451.3 236.4 451.3 237.1 451.3C237.7 451.4 238.4 451.4 239.0 451.5C239.7 451.6 240.4 451.8 241.0 452.0C241.6 452.2 242.3 452.4 242.9 452.6C243.6 452.9 244.2 453.2 244.9 453.4C245.6 453.6 246.4 453.8 247.1 454.0C247.9 454.3 248.6 454.6 249.3 455.0C250.0 455.4 250.7 455.8 251.4 456.2C252.2 456.7 253.0 457.1 253.8 457.6C254.5 458.1 255.5 458.6 256.2 459.3C256.8 459.9 257.3 460.7 257.7 461.5C258.1 462.3 258.3 463.2 258.6 464.1C258.9 465.0 259.5 465.8 259.5 466.7C259.5 467.6 258.9 468.6 258.5 469.5Z" fill="#111111"/>
<path d="M252.67,469.50C252.5 470.2 252.2 470.8 251.9 471.5C251.6 472.1 251.2 472.7 250.8 473.3C250.4 473.8 250.0 474.3 249.5 474.8C249.1 475.3 248.6 475.7 248.1 476.1C247.6 476.5 247.0 476.9 246.5 477.2C246.0 477.5 245.5 477.8 245.0 478.1C244.5 478.4 244.0 478.6 243.5 478.8C243.0 479.0 242.6 479.2 242.1 479.4C241.6 479.5 241.2 479.7 240.7 479.8C240.3 480.0 239.8 480.1 239.4 480.2C238.9 480.3 238.5 480.4 238.1 480.5C237.7 480.6 237.2 480.6 236.8 480.7C236.4 480.7 236.0 480.8 235.6 480.8C235.2 480.9 234.8 480.9 234.4 480.9C234.0 481.0 233.6 481.0 233.2 481.0C232.8 481.0 232.4 481.0 232.0 481.0C231.6 481.0 231.2 481.0 230.8 480.9C230.4 480.9 229.9 480.9 229.5 480.9C229.1 480.8 228.7 480.8 228.2 480.7C227.8 480.6 227.3 480.6 226.9 480.5C226.4 480.4 225.9 480.3 225.5 480.1C225.0 480.0 224.5 479.9 224.0 479.7C223.5 479.6 223.0 479.4 222.4 479.2C221.9 479.0 221.4 478.8 220.8 478.5C220.3 478.2 219.7 477.9 219.1 477.6C218.6 477.3 218.0 476.9 217.5 476.5C216.9 476.1 216.3 475.6 215.8 475.1C215.3 474.6 214.8 474.1 214.3 473.5C213.9 472.9 213.5 472.3 213.1 471.6C212.8 470.9 212.5 470.2 212.3 469.5C212.1 468.8 212.0 468.0 212.0 467.3C212.0 466.5 212.1 465.8 212.2 465.0C212.4 464.3 212.6 463.6 212.9 462.9C213.2 462.2 213.6 461.6 214.0 461.0C214.4 460.3 214.9 459.8 215.4 459.2C215.9 458.7 216.5 458.2 217.1 457.8C217.6 457.3 218.2 456.9 218.8 456.6C219.4 456.2 220.0 455.9 220.7 455.6C221.3 455.3 221.9 455.0 222.5 454.8C223.1 454.5 223.7 454.3 224.3 454.2C225.0 454.0 225.6 453.8 226.2 453.7C226.8 453.6 227.4 453.4 228.0 453.3C228.5 453.3 229.1 453.2 229.7 453.1C230.3 453.1 230.9 453.0 231.5 453.0C232.0 453.0 232.6 453.0 233.2 453.0C233.8 453.0 234.3 453.1 234.9 453.1C235.5 453.1 236.1 453.2 236.6 453.3C237.2 453.4 237.8 453.5 238.4 453.6C238.9 453.7 239.5 453.8 240.1 454.0C240.7 454.2 241.3 454.3 241.8 454.5C242.4 454.7 243.0 455.0 243.6 455.2C244.2 455.5 244.7 455.8 245.3 456.1C245.9 456.4 246.4 456.7 247.0 457.1C247.5 457.5 248.1 457.9 248.6 458.3C249.1 458.8 249.6 459.3 250.1 459.8C250.5 460.3 250.9 460.8 251.3 461.4C251.7 462.0 252.0 462.7 252.3 463.3C252.5 464.0 252.7 464.6 252.9 465.3C253.0 466.0 253.0 466.7 253.0 467.4C253.0 468.1 252.8 468.8 252.7 469.5Z" fill="#555555" stroke="#d0d0d0" stroke-width="0.9"/>
<path d="M251.73,469.50C251.6 470.1 251.3 470.8 251.0 471.4C250.8 472.0 250.4 472.5 250.0 473.1C249.6 473.6 249.2 474.1 248.8 474.6C248.3 475.0 247.9 475.4 247.4 475.8C246.9 476.2 246.4 476.5 245.9 476.8C245.4 477.2 245.0 477.4 244.5 477.7C244.0 477.9 243.5 478.2 243.1 478.4C242.6 478.6 242.1 478.8 241.7 478.9C241.2 479.1 240.8 479.2 240.4 479.4C239.9 479.5 239.5 479.6 239.1 479.7C238.7 479.8 238.3 479.9 237.9 480.0C237.5 480.1 237.1 480.1 236.7 480.2C236.3 480.2 235.9 480.3 235.5 480.3C235.1 480.4 234.7 480.4 234.3 480.4C234.0 480.5 233.6 480.5 233.2 480.5C232.8 480.5 232.4 480.5 232.0 480.5C231.7 480.5 231.3 480.5 230.9 480.5C230.5 480.4 230.1 480.4 229.7 480.4C229.3 480.3 228.8 480.3 228.4 480.2C228.0 480.2 227.6 480.1 227.1 480.0C226.7 479.9 226.2 479.8 225.8 479.7C225.3 479.6 224.8 479.5 224.3 479.3C223.9 479.2 223.4 479.0 222.8 478.8C222.3 478.6 221.8 478.4 221.3 478.2C220.7 477.9 220.2 477.6 219.7 477.3C219.1 477.0 218.6 476.7 218.0 476.3C217.5 475.9 216.9 475.4 216.4 474.9C215.9 474.5 215.4 473.9 215.0 473.4C214.6 472.8 214.2 472.2 213.8 471.5C213.5 470.9 213.2 470.2 213.1 469.5C212.9 468.8 212.8 468.1 212.8 467.4C212.8 466.6 212.9 465.9 213.0 465.2C213.2 464.5 213.4 463.8 213.8 463.2C214.1 462.5 214.5 461.9 214.9 461.3C215.3 460.8 215.8 460.2 216.3 459.7C216.8 459.2 217.3 458.8 217.9 458.4C218.4 458.0 219.0 457.6 219.6 457.3C220.2 456.9 220.8 456.6 221.3 456.3C221.9 456.1 222.5 455.8 223.1 455.6C223.7 455.4 224.3 455.2 224.9 455.0C225.4 454.9 226.0 454.7 226.6 454.6C227.1 454.5 227.7 454.4 228.3 454.3C228.8 454.2 229.4 454.2 229.9 454.1C230.5 454.1 231.0 454.1 231.6 454.0C232.1 454.0 232.7 454.0 233.2 454.0C233.7 454.0 234.3 454.1 234.8 454.1C235.4 454.2 235.9 454.2 236.4 454.3C237.0 454.4 237.5 454.5 238.0 454.6C238.6 454.7 239.1 454.8 239.7 455.0C240.2 455.1 240.8 455.3 241.3 455.5C241.8 455.7 242.4 455.9 242.9 456.1C243.5 456.3 244.0 456.6 244.6 456.9C245.1 457.2 245.6 457.5 246.2 457.8C246.7 458.2 247.2 458.6 247.7 459.0C248.2 459.4 248.7 459.8 249.1 460.3C249.5 460.8 250.0 461.3 250.3 461.9C250.7 462.4 251.0 463.0 251.3 463.6C251.5 464.2 251.7 464.9 251.8 465.5C252.0 466.2 252.0 466.9 252.0 467.5C252.0 468.2 251.9 468.9 251.7 469.5Z" fill="#373737"/>
<path d="M250.80,469.50C250.7 470.1 250.4 470.7 250.2 471.3C249.9 471.9 249.6 472.4 249.2 472.9C248.9 473.4 248.4 473.9 248.0 474.3C247.6 474.8 247.1 475.1 246.7 475.5C246.2 475.9 245.8 476.2 245.3 476.5C244.9 476.8 244.4 477.1 243.9 477.3C243.5 477.5 243.0 477.8 242.6 478.0C242.1 478.1 241.7 478.3 241.3 478.5C240.9 478.6 240.4 478.8 240.0 478.9C239.6 479.0 239.2 479.1 238.8 479.2C238.4 479.3 238.0 479.4 237.6 479.5C237.3 479.6 236.9 479.6 236.5 479.7C236.1 479.7 235.8 479.8 235.4 479.8C235.0 479.9 234.7 479.9 234.3 479.9C233.9 480.0 233.6 480.0 233.2 480.0C232.8 480.0 232.5 480.0 232.1 480.0C231.7 480.0 231.4 480.0 231.0 480.0C230.6 479.9 230.2 479.9 229.8 479.9C229.4 479.9 229.0 479.8 228.6 479.8C228.2 479.7 227.8 479.6 227.4 479.6C227.0 479.5 226.5 479.4 226.1 479.3C225.6 479.2 225.2 479.1 224.7 478.9C224.2 478.8 223.8 478.6 223.3 478.4C222.8 478.3 222.3 478.1 221.7 477.8C221.2 477.6 220.7 477.3 220.2 477.0C219.6 476.7 219.1 476.4 218.6 476.0C218.0 475.6 217.5 475.2 217.0 474.8C216.5 474.3 216.1 473.8 215.6 473.2C215.2 472.7 214.8 472.1 214.5 471.5C214.2 470.8 214.0 470.2 213.8 469.5C213.6 468.8 213.6 468.1 213.6 467.4C213.6 466.8 213.7 466.1 213.9 465.4C214.0 464.7 214.3 464.1 214.6 463.5C214.9 462.9 215.3 462.3 215.7 461.7C216.2 461.2 216.7 460.7 217.1 460.2C217.6 459.8 218.2 459.4 218.7 459.0C219.2 458.6 219.8 458.2 220.4 457.9C220.9 457.6 221.5 457.4 222.0 457.1C222.6 456.9 223.2 456.6 223.7 456.4C224.3 456.3 224.8 456.1 225.4 455.9C225.9 455.8 226.5 455.7 227.0 455.6C227.5 455.5 228.1 455.4 228.6 455.3C229.1 455.2 229.6 455.2 230.1 455.1C230.7 455.1 231.2 455.1 231.7 455.1C232.2 455.0 232.7 455.0 233.2 455.1C233.7 455.1 234.2 455.1 234.7 455.1C235.2 455.2 235.7 455.2 236.2 455.3C236.7 455.4 237.2 455.5 237.7 455.6C238.2 455.7 238.7 455.8 239.2 455.9C239.8 456.1 240.3 456.2 240.8 456.4C241.3 456.6 241.8 456.8 242.3 457.0C242.8 457.2 243.3 457.4 243.8 457.7C244.3 458.0 244.8 458.2 245.3 458.6C245.8 458.9 246.3 459.2 246.8 459.6C247.3 460.0 247.7 460.4 248.1 460.9C248.6 461.3 249.0 461.8 249.3 462.3C249.7 462.8 250.0 463.4 250.2 464.0C250.5 464.5 250.7 465.1 250.8 465.8C251.0 466.4 251.0 467.0 251.0 467.6C251.0 468.3 250.9 468.9 250.8 469.5Z" fill="#272727"/>
<path d="M249.86,469.50C249.7 470.1 249.5 470.7 249.3 471.2C249.0 471.7 248.7 472.2 248.4 472.7C248.1 473.2 247.7 473.7 247.3 474.1C246.9 474.5 246.4 474.9 246.0 475.2C245.6 475.6 245.1 475.9 244.7 476.1C244.3 476.4 243.8 476.7 243.4 476.9C243.0 477.1 242.5 477.3 242.1 477.5C241.7 477.7 241.3 477.9 240.9 478.0C240.5 478.2 240.1 478.3 239.7 478.4C239.3 478.5 238.9 478.6 238.5 478.7C238.2 478.8 237.8 478.9 237.4 479.0C237.1 479.1 236.7 479.1 236.3 479.2C236.0 479.2 235.6 479.3 235.3 479.3C234.9 479.4 234.6 479.4 234.2 479.4C233.9 479.4 233.5 479.5 233.2 479.5C232.9 479.5 232.5 479.5 232.1 479.5C231.8 479.5 231.4 479.5 231.1 479.5C230.7 479.5 230.4 479.4 230.0 479.4C229.6 479.4 229.2 479.3 228.8 479.3C228.5 479.2 228.1 479.2 227.7 479.1C227.2 479.0 226.8 479.0 226.4 478.9C226.0 478.8 225.5 478.7 225.1 478.5C224.6 478.4 224.2 478.2 223.7 478.1C223.2 477.9 222.7 477.7 222.2 477.5C221.7 477.3 221.2 477.0 220.7 476.7C220.2 476.4 219.6 476.1 219.1 475.8C218.6 475.4 218.1 475.0 217.6 474.6C217.2 474.1 216.7 473.6 216.3 473.1C215.9 472.6 215.5 472.0 215.2 471.4C214.9 470.8 214.7 470.1 214.5 469.5C214.4 468.9 214.3 468.2 214.4 467.5C214.4 466.9 214.5 466.2 214.7 465.6C214.9 464.9 215.2 464.3 215.5 463.7C215.8 463.2 216.2 462.6 216.6 462.1C217.0 461.6 217.5 461.1 218.0 460.7C218.5 460.3 219.0 459.9 219.5 459.6C220.0 459.2 220.6 458.9 221.1 458.6C221.7 458.3 222.2 458.1 222.7 457.9C223.3 457.7 223.8 457.5 224.3 457.3C224.9 457.1 225.4 457.0 225.9 456.8C226.4 456.7 226.9 456.6 227.4 456.5C227.9 456.4 228.4 456.3 228.9 456.3C229.4 456.2 229.9 456.2 230.4 456.1C230.8 456.1 231.3 456.1 231.8 456.1C232.3 456.1 232.7 456.1 233.2 456.1C233.7 456.1 234.1 456.1 234.6 456.2C235.1 456.2 235.5 456.3 236.0 456.3C236.5 456.4 236.9 456.5 237.4 456.6C237.9 456.7 238.3 456.8 238.8 456.9C239.3 457.0 239.8 457.2 240.2 457.3C240.7 457.5 241.2 457.6 241.7 457.8C242.1 458.0 242.6 458.3 243.1 458.5C243.6 458.7 244.1 459.0 244.5 459.3C245.0 459.6 245.5 459.9 245.9 460.3C246.3 460.6 246.8 461.0 247.2 461.4C247.6 461.8 248.0 462.3 248.3 462.8C248.7 463.2 249.0 463.8 249.2 464.3C249.5 464.8 249.7 465.4 249.8 466.0C250.0 466.5 250.0 467.1 250.1 467.7C250.1 468.3 250.0 468.9 249.9 469.5Z" fill="#1a1a1a"/>
<path d="M248.92,469.50C248.8 470.0 248.6 470.6 248.4 471.1C248.2 471.6 247.9 472.1 247.6 472.6C247.3 473.0 246.9 473.4 246.5 473.8C246.1 474.2 245.7 474.6 245.3 474.9C244.9 475.2 244.5 475.5 244.1 475.8C243.7 476.1 243.3 476.3 242.9 476.5C242.5 476.7 242.0 476.9 241.6 477.1C241.2 477.3 240.9 477.4 240.5 477.6C240.1 477.7 239.7 477.8 239.3 478.0C239.0 478.1 238.6 478.2 238.3 478.3C237.9 478.3 237.5 478.4 237.2 478.5C236.9 478.6 236.5 478.6 236.2 478.7C235.8 478.7 235.5 478.8 235.2 478.8C234.8 478.9 234.5 478.9 234.2 478.9C233.9 478.9 233.5 479.0 233.2 479.0C232.9 479.0 232.5 479.0 232.2 479.0C231.9 479.0 231.5 479.0 231.2 479.0C230.8 479.0 230.5 479.0 230.1 478.9C229.8 478.9 229.4 478.9 229.1 478.8C228.7 478.8 228.3 478.7 227.9 478.7C227.5 478.6 227.1 478.5 226.7 478.4C226.3 478.3 225.9 478.2 225.4 478.1C225.0 478.0 224.6 477.9 224.1 477.7C223.6 477.5 223.2 477.4 222.7 477.2C222.2 476.9 221.7 476.7 221.2 476.4C220.7 476.2 220.2 475.9 219.7 475.5C219.2 475.2 218.7 474.8 218.2 474.4C217.8 473.9 217.3 473.5 216.9 473.0C216.5 472.5 216.2 471.9 215.9 471.3C215.6 470.7 215.4 470.1 215.3 469.5C215.1 468.9 215.1 468.2 215.1 467.6C215.2 467.0 215.3 466.3 215.5 465.7C215.7 465.1 216.0 464.6 216.3 464.0C216.7 463.5 217.1 463.0 217.5 462.5C217.9 462.0 218.4 461.6 218.9 461.2C219.3 460.8 219.8 460.5 220.3 460.2C220.9 459.8 221.4 459.6 221.9 459.3C222.4 459.1 222.9 458.8 223.4 458.6C223.9 458.4 224.4 458.3 224.9 458.1C225.4 458.0 225.9 457.8 226.4 457.7C226.9 457.6 227.4 457.5 227.8 457.4C228.3 457.4 228.8 457.3 229.2 457.2C229.7 457.2 230.1 457.2 230.6 457.1C231.0 457.1 231.5 457.1 231.9 457.1C232.3 457.1 232.8 457.1 233.2 457.1C233.6 457.1 234.1 457.2 234.5 457.2C234.9 457.2 235.4 457.3 235.8 457.3C236.2 457.4 236.6 457.5 237.1 457.6C237.5 457.6 237.9 457.7 238.4 457.9C238.8 458.0 239.3 458.1 239.7 458.2C240.1 458.4 240.6 458.5 241.0 458.7C241.5 458.9 241.9 459.1 242.4 459.3C242.8 459.5 243.3 459.8 243.7 460.0C244.1 460.3 244.6 460.6 245.0 460.9C245.4 461.2 245.8 461.6 246.2 462.0C246.6 462.4 247.0 462.8 247.3 463.2C247.7 463.7 248.0 464.1 248.2 464.6C248.5 465.1 248.7 465.6 248.8 466.2C249.0 466.7 249.1 467.3 249.1 467.8C249.1 468.4 249.0 469.0 248.9 469.5Z" fill="#0f0f0f"/>
<path d="M247.99,469.50C247.9 470.0 247.7 470.5 247.5 471.0C247.3 471.5 247.0 472.0 246.8 472.4C246.5 472.8 246.1 473.2 245.8 473.6C245.4 474.0 245.0 474.3 244.7 474.6C244.3 474.9 243.9 475.2 243.5 475.4C243.1 475.7 242.7 475.9 242.3 476.1C241.9 476.3 241.6 476.5 241.2 476.7C240.8 476.8 240.4 477.0 240.1 477.1C239.7 477.3 239.4 477.4 239.0 477.5C238.7 477.6 238.3 477.7 238.0 477.8C237.6 477.9 237.3 477.9 237.0 478.0C236.7 478.1 236.3 478.1 236.0 478.2C235.7 478.2 235.4 478.3 235.1 478.3C234.8 478.4 234.4 478.4 234.1 478.4C233.8 478.4 233.5 478.5 233.2 478.5C232.9 478.5 232.6 478.5 232.3 478.5C231.9 478.5 231.6 478.5 231.3 478.5C231.0 478.5 230.6 478.5 230.3 478.4C230.0 478.4 229.6 478.4 229.3 478.4C228.9 478.3 228.5 478.3 228.2 478.2C227.8 478.1 227.4 478.1 227.0 478.0C226.6 477.9 226.2 477.8 225.8 477.7C225.4 477.6 225.0 477.5 224.5 477.3C224.1 477.2 223.6 477.0 223.1 476.8C222.7 476.6 222.2 476.4 221.7 476.1C221.2 475.9 220.7 475.6 220.2 475.3C219.8 474.9 219.3 474.6 218.8 474.2C218.4 473.8 217.9 473.3 217.6 472.8C217.2 472.3 216.8 471.8 216.6 471.2C216.3 470.7 216.1 470.1 216.0 469.5C215.9 468.9 215.9 468.3 215.9 467.7C216.0 467.1 216.1 466.5 216.3 465.9C216.6 465.4 216.9 464.8 217.2 464.3C217.5 463.8 217.9 463.3 218.4 462.9C218.8 462.5 219.2 462.1 219.7 461.7C220.2 461.4 220.7 461.0 221.2 460.8C221.7 460.5 222.2 460.2 222.6 460.0C223.1 459.8 223.6 459.6 224.1 459.4C224.6 459.2 225.1 459.1 225.5 459.0C226.0 458.8 226.5 458.7 226.9 458.6C227.4 458.5 227.8 458.4 228.2 458.4C228.7 458.3 229.1 458.3 229.5 458.2C230.0 458.2 230.4 458.1 230.8 458.1C231.2 458.1 231.6 458.1 232.0 458.1C232.4 458.1 232.8 458.1 233.2 458.1C233.6 458.1 234.0 458.2 234.4 458.2C234.8 458.3 235.2 458.3 235.6 458.4C236.0 458.4 236.4 458.5 236.8 458.6C237.2 458.6 237.6 458.7 238.0 458.8C238.4 458.9 238.8 459.0 239.2 459.2C239.6 459.3 240.0 459.4 240.4 459.6C240.8 459.8 241.2 459.9 241.6 460.1C242.1 460.3 242.5 460.5 242.9 460.8C243.3 461.0 243.7 461.3 244.1 461.6C244.5 461.9 244.9 462.2 245.3 462.5C245.6 462.9 246.0 463.2 246.3 463.7C246.7 464.1 247.0 464.5 247.2 464.9C247.5 465.4 247.7 465.9 247.8 466.4C248.0 466.9 248.1 467.4 248.1 467.9C248.1 468.5 248.1 469.0 248.0 469.5Z" fill="#555555" stroke="#d0d0d0" stroke-width="0.9"/>
<path d="M247.08,469.50C247.0 470.0 246.8 470.5 246.7 470.9C246.5 471.4 246.2 471.8 245.9 472.2C245.7 472.6 245.4 473.0 245.0 473.3C244.7 473.7 244.4 474.0 244.0 474.3C243.6 474.6 243.3 474.9 242.9 475.1C242.6 475.4 242.2 475.6 241.8 475.8C241.5 476.0 241.1 476.1 240.7 476.3C240.4 476.5 240.0 476.6 239.7 476.7C239.4 476.8 239.0 477.0 238.7 477.1C238.4 477.2 238.0 477.3 237.7 477.3C237.4 477.4 237.1 477.5 236.8 477.6C236.5 477.6 236.2 477.7 235.9 477.7C235.6 477.8 235.3 477.8 235.0 477.9C234.7 477.9 234.4 477.9 234.1 478.0C233.8 478.0 233.5 478.0 233.2 478.0C232.9 478.0 232.6 478.0 232.3 478.0C232.0 478.0 231.7 478.0 231.4 478.0C231.1 478.0 230.8 478.0 230.4 478.0C230.1 478.0 229.8 477.9 229.5 477.9C229.1 477.9 228.8 477.8 228.4 477.7C228.1 477.7 227.7 477.6 227.4 477.5C227.0 477.5 226.6 477.4 226.2 477.3C225.8 477.2 225.4 477.0 225.0 476.9C224.6 476.7 224.1 476.6 223.7 476.4C223.3 476.2 222.8 476.0 222.4 475.8C221.9 475.5 221.5 475.2 221.0 474.9C220.6 474.6 220.1 474.3 219.7 473.9C219.3 473.5 218.9 473.1 218.5 472.6C218.2 472.2 217.9 471.7 217.6 471.1C217.4 470.6 217.2 470.1 217.1 469.5C217.0 468.9 217.0 468.4 217.0 467.8C217.1 467.2 217.2 466.7 217.4 466.1C217.6 465.6 217.9 465.1 218.2 464.6C218.5 464.2 218.9 463.7 219.3 463.3C219.7 462.9 220.1 462.5 220.5 462.2C221.0 461.8 221.4 461.6 221.9 461.3C222.3 461.0 222.8 460.8 223.3 460.6C223.7 460.3 224.2 460.2 224.6 460.0C225.1 459.8 225.5 459.7 226.0 459.6C226.4 459.4 226.8 459.3 227.3 459.2C227.7 459.1 228.1 459.1 228.5 459.0C228.9 458.9 229.3 458.9 229.7 458.8C230.1 458.8 230.5 458.8 230.9 458.8C231.3 458.7 231.7 458.7 232.1 458.7C232.4 458.7 232.8 458.7 233.2 458.7C233.6 458.8 233.9 458.8 234.3 458.8C234.7 458.9 235.1 458.9 235.4 459.0C235.8 459.0 236.2 459.1 236.6 459.2C236.9 459.2 237.3 459.3 237.7 459.4C238.1 459.5 238.5 459.6 238.8 459.7C239.2 459.9 239.6 460.0 240.0 460.1C240.4 460.3 240.8 460.5 241.2 460.7C241.5 460.8 241.9 461.1 242.3 461.3C242.7 461.5 243.1 461.8 243.5 462.0C243.8 462.3 244.2 462.6 244.6 462.9C244.9 463.3 245.2 463.6 245.5 464.0C245.8 464.4 246.1 464.8 246.4 465.2C246.6 465.7 246.8 466.1 246.9 466.6C247.1 467.1 247.1 467.5 247.2 468.0C247.2 468.5 247.2 469.0 247.1 469.5Z" fill="#373737"/>
<path d="M246.17,469.50C246.1 469.9 246.0 470.4 245.8 470.8C245.6 471.2 245.4 471.7 245.1 472.0C244.9 472.4 244.6 472.8 244.3 473.1C244.0 473.4 243.7 473.7 243.3 474.0C243.0 474.3 242.7 474.5 242.3 474.8C242.0 475.0 241.7 475.2 241.3 475.4C241.0 475.6 240.6 475.8 240.3 475.9C240.0 476.1 239.7 476.2 239.3 476.3C239.0 476.4 238.7 476.5 238.4 476.6C238.1 476.7 237.8 476.8 237.5 476.9C237.2 477.0 236.9 477.1 236.6 477.1C236.3 477.2 236.0 477.2 235.7 477.3C235.4 477.3 235.2 477.4 234.9 477.4C234.6 477.4 234.3 477.5 234.0 477.5C233.8 477.5 233.5 477.5 233.2 477.6C232.9 477.6 232.6 477.6 232.4 477.6C232.1 477.6 231.8 477.6 231.5 477.6C231.2 477.6 230.9 477.5 230.6 477.5C230.3 477.5 230.0 477.5 229.7 477.4C229.4 477.4 229.0 477.3 228.7 477.3C228.4 477.2 228.0 477.2 227.7 477.1C227.3 477.0 227.0 476.9 226.6 476.8C226.2 476.7 225.9 476.6 225.5 476.5C225.1 476.3 224.7 476.2 224.3 476.0C223.9 475.8 223.4 475.6 223.0 475.4C222.6 475.1 222.2 474.9 221.8 474.6C221.4 474.3 221.0 474.0 220.6 473.6C220.2 473.2 219.8 472.8 219.5 472.4C219.2 472.0 218.9 471.5 218.7 471.0C218.5 470.5 218.3 470.0 218.2 469.5C218.1 469.0 218.1 468.4 218.2 467.9C218.2 467.4 218.3 466.9 218.5 466.4C218.7 465.9 218.9 465.4 219.2 465.0C219.5 464.5 219.8 464.1 220.2 463.7C220.6 463.3 221.0 463.0 221.4 462.7C221.8 462.3 222.2 462.1 222.6 461.8C223.0 461.5 223.5 461.3 223.9 461.1C224.3 460.9 224.7 460.7 225.2 460.6C225.6 460.4 226.0 460.3 226.4 460.2C226.8 460.0 227.2 459.9 227.6 459.8C228.0 459.7 228.4 459.7 228.8 459.6C229.2 459.5 229.6 459.5 229.9 459.5C230.3 459.4 230.7 459.4 231.0 459.4C231.4 459.4 231.8 459.3 232.1 459.3C232.5 459.3 232.8 459.3 233.2 459.4C233.6 459.4 233.9 459.4 234.3 459.4C234.6 459.5 235.0 459.5 235.3 459.6C235.7 459.6 236.0 459.7 236.4 459.8C236.7 459.8 237.1 459.9 237.4 460.0C237.8 460.1 238.1 460.2 238.5 460.3C238.9 460.4 239.2 460.6 239.6 460.7C240.0 460.8 240.3 461.0 240.7 461.2C241.0 461.4 241.4 461.6 241.8 461.8C242.1 462.0 242.5 462.2 242.8 462.5C243.2 462.8 243.5 463.0 243.8 463.4C244.2 463.7 244.5 464.0 244.8 464.4C245.0 464.7 245.3 465.1 245.5 465.5C245.7 465.9 245.9 466.3 246.0 466.8C246.1 467.2 246.2 467.7 246.3 468.1C246.3 468.6 246.2 469.1 246.2 469.5Z" fill="#272727"/>
<path d="M245.26,469.50C245.2 469.9 245.1 470.3 244.9 470.7C244.7 471.1 244.5 471.5 244.3 471.9C244.1 472.2 243.8 472.6 243.6 472.9C243.3 473.2 243.0 473.5 242.7 473.7C242.4 474.0 242.1 474.2 241.8 474.4C241.4 474.7 241.1 474.9 240.8 475.0C240.5 475.2 240.2 475.4 239.9 475.5C239.6 475.7 239.3 475.8 239.0 475.9C238.7 476.0 238.4 476.1 238.1 476.2C237.8 476.3 237.5 476.4 237.2 476.5C236.9 476.6 236.7 476.6 236.4 476.7C236.1 476.7 235.9 476.8 235.6 476.8C235.3 476.9 235.1 476.9 234.8 477.0C234.5 477.0 234.3 477.0 234.0 477.0C233.7 477.1 233.5 477.1 233.2 477.1C232.9 477.1 232.7 477.1 232.4 477.1C232.1 477.1 231.9 477.1 231.6 477.1C231.3 477.1 231.0 477.1 230.7 477.1C230.5 477.0 230.2 477.0 229.9 477.0C229.6 476.9 229.3 476.9 229.0 476.8C228.7 476.8 228.3 476.7 228.0 476.6C227.7 476.6 227.4 476.5 227.0 476.4C226.7 476.3 226.3 476.2 226.0 476.0C225.6 475.9 225.2 475.7 224.8 475.6C224.5 475.4 224.1 475.2 223.7 475.0C223.3 474.8 222.9 474.5 222.6 474.2C222.2 474.0 221.8 473.7 221.5 473.3C221.1 473.0 220.8 472.6 220.5 472.2C220.2 471.8 220.0 471.4 219.8 470.9C219.6 470.5 219.4 470.0 219.3 469.5C219.3 469.0 219.2 468.5 219.3 468.0C219.3 467.6 219.4 467.1 219.6 466.6C219.8 466.2 220.0 465.7 220.2 465.3C220.5 464.9 220.8 464.5 221.1 464.1C221.4 463.8 221.8 463.4 222.2 463.1C222.5 462.8 222.9 462.6 223.3 462.3C223.7 462.1 224.1 461.9 224.5 461.7C224.9 461.5 225.3 461.3 225.7 461.2C226.1 461.0 226.5 460.9 226.8 460.8C227.2 460.6 227.6 460.5 228.0 460.4C228.3 460.4 228.7 460.3 229.1 460.2C229.4 460.2 229.8 460.1 230.1 460.1C230.5 460.0 230.8 460.0 231.2 460.0C231.5 460.0 231.9 460.0 232.2 460.0C232.5 460.0 232.9 460.0 233.2 460.0C233.5 460.0 233.9 460.0 234.2 460.1C234.5 460.1 234.9 460.1 235.2 460.2C235.5 460.2 235.8 460.3 236.2 460.3C236.5 460.4 236.8 460.5 237.2 460.6C237.5 460.7 237.8 460.8 238.2 460.9C238.5 461.0 238.9 461.1 239.2 461.3C239.5 461.4 239.9 461.5 240.2 461.7C240.5 461.9 240.9 462.1 241.2 462.3C241.5 462.5 241.9 462.7 242.2 463.0C242.5 463.2 242.8 463.5 243.1 463.8C243.4 464.1 243.7 464.4 244.0 464.7C244.2 465.0 244.5 465.4 244.6 465.8C244.8 466.2 245.0 466.6 245.1 467.0C245.2 467.4 245.3 467.8 245.3 468.2C245.4 468.6 245.3 469.1 245.3 469.5Z" fill="#1a1a1a"/>
<path d="M244.35,469.50C244.3 469.9 244.2 470.3 244.0 470.6C243.9 471.0 243.7 471.4 243.5 471.7C243.3 472.0 243.1 472.3 242.8 472.6C242.6 472.9 242.3 473.2 242.0 473.4C241.8 473.7 241.5 473.9 241.2 474.1C240.9 474.3 240.6 474.5 240.3 474.7C240.0 474.8 239.7 475.0 239.5 475.1C239.2 475.3 238.9 475.4 238.6 475.5C238.3 475.6 238.1 475.7 237.8 475.8C237.5 475.9 237.2 476.0 237.0 476.1C236.7 476.1 236.5 476.2 236.2 476.2C235.9 476.3 235.7 476.4 235.4 476.4C235.2 476.4 234.9 476.5 234.7 476.5C234.4 476.5 234.2 476.6 233.9 476.6C233.7 476.6 233.4 476.6 233.2 476.6C233.0 476.7 232.7 476.7 232.4 476.7C232.2 476.7 231.9 476.7 231.7 476.6C231.4 476.6 231.2 476.6 230.9 476.6C230.6 476.6 230.4 476.5 230.1 476.5C229.8 476.5 229.5 476.4 229.2 476.4C228.9 476.3 228.6 476.3 228.3 476.2C228.0 476.1 227.7 476.0 227.4 475.9C227.1 475.8 226.8 475.7 226.4 475.6C226.1 475.5 225.8 475.3 225.4 475.2C225.1 475.0 224.7 474.8 224.4 474.6C224.0 474.4 223.7 474.2 223.3 473.9C223.0 473.6 222.7 473.3 222.4 473.0C222.0 472.7 221.7 472.4 221.5 472.0C221.2 471.6 221.0 471.2 220.8 470.8C220.7 470.4 220.5 469.9 220.5 469.5C220.4 469.1 220.4 468.6 220.4 468.2C220.4 467.7 220.5 467.3 220.7 466.8C220.8 466.4 221.0 466.0 221.3 465.6C221.5 465.2 221.8 464.9 222.1 464.5C222.3 464.2 222.7 463.9 223.0 463.6C223.3 463.3 223.7 463.1 224.0 462.8C224.4 462.6 224.8 462.4 225.1 462.2C225.5 462.0 225.8 461.9 226.2 461.7C226.6 461.6 226.9 461.5 227.3 461.3C227.6 461.2 228.0 461.1 228.3 461.1C228.7 461.0 229.0 460.9 229.3 460.8C229.7 460.8 230.0 460.7 230.3 460.7C230.7 460.7 231.0 460.6 231.3 460.6C231.6 460.6 231.9 460.6 232.3 460.6C232.6 460.6 232.9 460.6 233.2 460.6C233.5 460.6 233.8 460.6 234.1 460.7C234.4 460.7 234.7 460.7 235.1 460.8C235.4 460.8 235.7 460.9 236.0 460.9C236.3 461.0 236.6 461.1 236.9 461.2C237.2 461.3 237.5 461.3 237.8 461.5C238.2 461.6 238.5 461.7 238.8 461.8C239.1 461.9 239.4 462.1 239.7 462.2C240.0 462.4 240.4 462.6 240.7 462.8C241.0 463.0 241.3 463.2 241.6 463.4C241.9 463.7 242.1 463.9 242.4 464.2C242.7 464.5 242.9 464.7 243.2 465.1C243.4 465.4 243.6 465.7 243.8 466.1C244.0 466.4 244.1 466.8 244.2 467.2C244.3 467.5 244.4 467.9 244.4 468.3C244.4 468.7 244.4 469.1 244.3 469.5Z" fill="#0f0f0f"/>
<path d="M243.44,469.50C243.4 469.9 243.3 470.2 243.2 470.5C243.0 470.9 242.9 471.2 242.7 471.5C242.5 471.8 242.3 472.1 242.1 472.4C241.9 472.7 241.6 472.9 241.4 473.1C241.1 473.4 240.9 473.6 240.6 473.8C240.3 474.0 240.1 474.1 239.8 474.3C239.5 474.5 239.3 474.6 239.0 474.7C238.8 474.9 238.5 475.0 238.2 475.1C238.0 475.2 237.7 475.3 237.5 475.4C237.2 475.5 237.0 475.6 236.7 475.6C236.5 475.7 236.2 475.8 236.0 475.8C235.8 475.9 235.5 475.9 235.3 476.0C235.1 476.0 234.8 476.0 234.6 476.1C234.4 476.1 234.1 476.1 233.9 476.1C233.7 476.2 233.4 476.2 233.2 476.2C233.0 476.2 232.7 476.2 232.5 476.2C232.3 476.2 232.0 476.2 231.8 476.2C231.5 476.2 231.3 476.2 231.0 476.1C230.8 476.1 230.5 476.1 230.3 476.0C230.0 476.0 229.8 476.0 229.5 475.9C229.2 475.9 229.0 475.8 228.7 475.7C228.4 475.7 228.1 475.6 227.8 475.5C227.5 475.4 227.2 475.3 226.9 475.2C226.6 475.0 226.3 474.9 226.0 474.7C225.7 474.6 225.4 474.4 225.0 474.2C224.7 474.0 224.4 473.8 224.1 473.5C223.8 473.3 223.5 473.0 223.2 472.7C223.0 472.4 222.7 472.1 222.5 471.8C222.2 471.4 222.0 471.1 221.9 470.7C221.7 470.3 221.6 469.9 221.6 469.5C221.5 469.1 221.5 468.7 221.5 468.3C221.6 467.9 221.6 467.5 221.8 467.1C221.9 466.7 222.1 466.3 222.3 465.9C222.5 465.6 222.7 465.3 223.0 464.9C223.2 464.6 223.5 464.4 223.8 464.1C224.1 463.8 224.4 463.6 224.8 463.4C225.1 463.2 225.4 463.0 225.7 462.8C226.1 462.6 226.4 462.5 226.7 462.3C227.1 462.2 227.4 462.1 227.7 461.9C228.0 461.8 228.4 461.7 228.7 461.7C229.0 461.6 229.3 461.5 229.6 461.5C229.9 461.4 230.2 461.4 230.5 461.3C230.8 461.3 231.1 461.3 231.4 461.2C231.7 461.2 232.0 461.2 232.3 461.2C232.6 461.2 232.9 461.2 233.2 461.2C233.5 461.2 233.8 461.2 234.1 461.3C234.4 461.3 234.6 461.3 234.9 461.4C235.2 461.4 235.5 461.5 235.8 461.5C236.1 461.6 236.4 461.7 236.6 461.8C236.9 461.8 237.2 461.9 237.5 462.0C237.8 462.1 238.1 462.2 238.4 462.4C238.7 462.5 239.0 462.6 239.3 462.8C239.5 462.9 239.8 463.1 240.1 463.3C240.4 463.5 240.7 463.7 240.9 463.9C241.2 464.1 241.5 464.3 241.7 464.6C241.9 464.8 242.2 465.1 242.4 465.4C242.6 465.7 242.8 466.0 242.9 466.3C243.1 466.7 243.2 467.0 243.3 467.3C243.4 467.7 243.5 468.1 243.5 468.4C243.5 468.8 243.5 469.1 243.4 469.5Z" fill="#555555" stroke="#d0d0d0" stroke-width="0.9"/>
<path d="M242.81,469.50C242.8 469.8 242.7 470.2 242.6 470.5C242.5 470.8 242.3 471.1 242.2 471.4C242.0 471.7 241.8 472.0 241.6 472.2C241.4 472.5 241.2 472.7 240.9 472.9C240.7 473.2 240.5 473.4 240.2 473.6C240.0 473.7 239.7 473.9 239.5 474.1C239.2 474.2 239.0 474.4 238.7 474.5C238.5 474.6 238.2 474.7 238.0 474.8C237.8 474.9 237.5 475.0 237.3 475.1C237.0 475.2 236.8 475.3 236.6 475.3C236.3 475.4 236.1 475.5 235.9 475.5C235.7 475.6 235.4 475.6 235.2 475.7C235.0 475.7 234.8 475.7 234.5 475.8C234.3 475.8 234.1 475.8 233.9 475.8C233.6 475.8 233.4 475.9 233.2 475.9C233.0 475.9 232.8 475.9 232.5 475.9C232.3 475.9 232.1 475.9 231.8 475.9C231.6 475.8 231.4 475.8 231.2 475.8C230.9 475.8 230.7 475.7 230.4 475.7C230.2 475.7 229.9 475.6 229.7 475.6C229.4 475.5 229.2 475.5 228.9 475.4C228.7 475.3 228.4 475.2 228.1 475.1C227.8 475.1 227.6 474.9 227.3 474.8C227.0 474.7 226.7 474.6 226.4 474.4C226.1 474.3 225.8 474.1 225.6 473.9C225.3 473.7 225.0 473.5 224.7 473.3C224.4 473.0 224.2 472.8 223.9 472.5C223.7 472.2 223.5 471.9 223.3 471.6C223.1 471.3 222.9 471.0 222.7 470.6C222.6 470.2 222.5 469.9 222.5 469.5C222.4 469.1 222.4 468.7 222.4 468.4C222.5 468.0 222.6 467.6 222.7 467.3C222.8 466.9 223.0 466.6 223.2 466.2C223.3 465.9 223.6 465.6 223.8 465.3C224.1 465.0 224.3 464.8 224.6 464.5C224.9 464.3 225.2 464.1 225.5 463.9C225.7 463.7 226.0 463.5 226.3 463.3C226.6 463.2 227.0 463.0 227.3 462.9C227.6 462.8 227.9 462.7 228.2 462.6C228.5 462.5 228.7 462.4 229.0 462.3C229.3 462.2 229.6 462.2 229.9 462.1C230.2 462.0 230.5 462.0 230.8 462.0C231.0 461.9 231.3 461.9 231.6 461.9C231.9 461.9 232.1 461.8 232.4 461.8C232.7 461.8 232.9 461.8 233.2 461.9C233.5 461.9 233.7 461.9 234.0 461.9C234.3 461.9 234.5 462.0 234.8 462.0C235.1 462.0 235.3 462.1 235.6 462.1C235.9 462.2 236.1 462.3 236.4 462.3C236.7 462.4 236.9 462.5 237.2 462.6C237.5 462.7 237.7 462.8 238.0 462.9C238.3 463.0 238.5 463.1 238.8 463.3C239.1 463.4 239.3 463.6 239.6 463.7C239.9 463.9 240.1 464.1 240.4 464.3C240.6 464.5 240.9 464.7 241.1 464.9C241.3 465.2 241.6 465.4 241.8 465.7C242.0 466.0 242.1 466.2 242.3 466.5C242.4 466.8 242.6 467.2 242.7 467.5C242.7 467.8 242.8 468.2 242.8 468.5C242.9 468.8 242.9 469.2 242.8 469.5Z" fill="#373737"/>
<path d="M242.18,469.50C242.1 469.8 242.1 470.1 242.0 470.4C241.9 470.7 241.8 471.0 241.6 471.3C241.5 471.6 241.3 471.8 241.1 472.1C240.9 472.3 240.7 472.5 240.5 472.8C240.3 473.0 240.1 473.2 239.9 473.3C239.6 473.5 239.4 473.7 239.2 473.8C238.9 474.0 238.7 474.1 238.5 474.2C238.2 474.4 238.0 474.5 237.8 474.6C237.5 474.7 237.3 474.8 237.1 474.8C236.9 474.9 236.6 475.0 236.4 475.1C236.2 475.1 236.0 475.2 235.8 475.2C235.5 475.3 235.3 475.3 235.1 475.4C234.9 475.4 234.7 475.4 234.5 475.5C234.3 475.5 234.0 475.5 233.8 475.5C233.6 475.5 233.4 475.5 233.2 475.6C233.0 475.6 232.8 475.6 232.6 475.6C232.4 475.6 232.1 475.5 231.9 475.5C231.7 475.5 231.5 475.5 231.3 475.5C231.0 475.4 230.8 475.4 230.6 475.4C230.4 475.3 230.1 475.3 229.9 475.2C229.7 475.2 229.4 475.1 229.2 475.0C228.9 475.0 228.7 474.9 228.4 474.8C228.2 474.7 227.9 474.6 227.7 474.5C227.4 474.4 227.1 474.2 226.9 474.1C226.6 473.9 226.3 473.8 226.1 473.6C225.8 473.4 225.6 473.2 225.3 473.0C225.1 472.8 224.8 472.5 224.6 472.3C224.4 472.0 224.2 471.7 224.0 471.4C223.9 471.2 223.7 470.8 223.6 470.5C223.5 470.2 223.4 469.8 223.4 469.5C223.3 469.2 223.3 468.8 223.4 468.5C223.4 468.1 223.5 467.8 223.6 467.5C223.7 467.1 223.9 466.8 224.1 466.5C224.2 466.2 224.4 466.0 224.7 465.7C224.9 465.4 225.1 465.2 225.4 465.0C225.6 464.8 225.9 464.6 226.1 464.4C226.4 464.2 226.7 464.0 227.0 463.9C227.2 463.7 227.5 463.6 227.8 463.5C228.0 463.4 228.3 463.3 228.6 463.2C228.9 463.1 229.1 463.0 229.4 462.9C229.7 462.8 229.9 462.8 230.2 462.7C230.4 462.7 230.7 462.6 231.0 462.6C231.2 462.6 231.5 462.5 231.7 462.5C232.0 462.5 232.2 462.5 232.5 462.5C232.7 462.5 233.0 462.5 233.2 462.5C233.4 462.5 233.7 462.5 233.9 462.5C234.2 462.6 234.4 462.6 234.7 462.6C234.9 462.6 235.2 462.7 235.4 462.7C235.6 462.8 235.9 462.8 236.1 462.9C236.4 463.0 236.6 463.0 236.9 463.1C237.1 463.2 237.4 463.3 237.6 463.4C237.9 463.5 238.1 463.6 238.4 463.8C238.6 463.9 238.9 464.0 239.1 464.2C239.4 464.3 239.6 464.5 239.8 464.7C240.1 464.9 240.3 465.1 240.5 465.3C240.7 465.5 240.9 465.7 241.1 466.0C241.3 466.2 241.5 466.5 241.6 466.8C241.8 467.0 241.9 467.3 242.0 467.6C242.1 467.9 242.2 468.2 242.2 468.6C242.2 468.9 242.2 469.2 242.2 469.5Z" fill="#272727"/>
<path d="M241.55,469.50C241.5 469.8 241.5 470.1 241.4 470.4C241.3 470.6 241.2 470.9 241.1 471.2C241.0 471.4 240.8 471.7 240.6 471.9C240.5 472.1 240.3 472.4 240.1 472.6C239.9 472.8 239.7 473.0 239.5 473.1C239.3 473.3 239.1 473.5 238.8 473.6C238.6 473.7 238.4 473.9 238.2 474.0C238.0 474.1 237.7 474.2 237.5 474.3C237.3 474.4 237.1 474.5 236.9 474.6C236.7 474.6 236.5 474.7 236.2 474.8C236.0 474.8 235.8 474.9 235.6 474.9C235.4 475.0 235.2 475.0 235.0 475.1C234.8 475.1 234.6 475.1 234.4 475.2C234.2 475.2 234.0 475.2 233.8 475.2C233.6 475.2 233.4 475.2 233.2 475.2C233.0 475.2 232.8 475.2 232.6 475.2C232.4 475.2 232.2 475.2 232.0 475.2C231.8 475.2 231.6 475.2 231.4 475.1C231.2 475.1 231.0 475.1 230.7 475.0C230.5 475.0 230.3 474.9 230.1 474.9C229.9 474.8 229.6 474.8 229.4 474.7C229.2 474.6 229.0 474.6 228.7 474.5C228.5 474.4 228.3 474.3 228.0 474.2C227.8 474.0 227.6 473.9 227.3 473.8C227.1 473.6 226.8 473.5 226.6 473.3C226.4 473.1 226.2 472.9 225.9 472.7C225.7 472.5 225.5 472.3 225.3 472.1C225.1 471.8 225.0 471.6 224.8 471.3C224.7 471.0 224.6 470.7 224.5 470.4C224.4 470.1 224.3 469.8 224.3 469.5C224.3 469.2 224.3 468.9 224.3 468.6C224.4 468.3 224.4 468.0 224.5 467.7C224.6 467.4 224.8 467.1 224.9 466.8C225.1 466.6 225.3 466.3 225.5 466.1C225.7 465.8 225.9 465.6 226.1 465.4C226.4 465.2 226.6 465.0 226.8 464.9C227.1 464.7 227.3 464.6 227.6 464.4C227.8 464.3 228.1 464.2 228.3 464.1C228.5 463.9 228.8 463.9 229.0 463.8C229.3 463.7 229.5 463.6 229.8 463.5C230.0 463.5 230.2 463.4 230.5 463.4C230.7 463.3 230.9 463.3 231.2 463.2C231.4 463.2 231.6 463.2 231.9 463.2C232.1 463.1 232.3 463.1 232.5 463.1C232.8 463.1 233.0 463.1 233.2 463.1C233.4 463.1 233.6 463.1 233.9 463.2C234.1 463.2 234.3 463.2 234.5 463.2C234.8 463.3 235.0 463.3 235.2 463.3C235.4 463.4 235.7 463.4 235.9 463.5C236.1 463.5 236.3 463.6 236.6 463.7C236.8 463.8 237.0 463.8 237.2 463.9C237.5 464.0 237.7 464.1 237.9 464.2C238.2 464.4 238.4 464.5 238.6 464.6C238.8 464.8 239.1 464.9 239.3 465.1C239.5 465.2 239.7 465.4 239.9 465.6C240.1 465.8 240.3 466.0 240.5 466.3C240.7 466.5 240.8 466.7 241.0 467.0C241.1 467.2 241.2 467.5 241.3 467.8C241.4 468.0 241.5 468.3 241.5 468.6C241.6 468.9 241.6 469.2 241.6 469.5Z" fill="#1a1a1a"/>
<path d="M240.93,469.50C240.9 469.8 240.9 470.0 240.8 470.3C240.7 470.6 240.7 470.8 240.5 471.1C240.4 471.3 240.3 471.5 240.2 471.8C240.0 472.0 239.8 472.2 239.7 472.4C239.5 472.6 239.3 472.7 239.1 472.9C238.9 473.1 238.7 473.2 238.5 473.4C238.3 473.5 238.1 473.6 237.9 473.7C237.7 473.9 237.5 474.0 237.3 474.0C237.1 474.1 236.9 474.2 236.7 474.3C236.5 474.4 236.3 474.4 236.1 474.5C235.9 474.6 235.7 474.6 235.5 474.6C235.3 474.7 235.1 474.7 234.9 474.8C234.7 474.8 234.5 474.8 234.3 474.8C234.1 474.9 234.0 474.9 233.8 474.9C233.6 474.9 233.4 474.9 233.2 474.9C233.0 474.9 232.8 474.9 232.6 474.9C232.4 474.9 232.3 474.9 232.1 474.9C231.9 474.9 231.7 474.8 231.5 474.8C231.3 474.8 231.1 474.7 230.9 474.7C230.7 474.7 230.5 474.6 230.3 474.6C230.1 474.5 229.9 474.4 229.7 474.4C229.5 474.3 229.2 474.2 229.0 474.1C228.8 474.0 228.6 473.9 228.4 473.8C228.2 473.7 228.0 473.6 227.8 473.4C227.6 473.3 227.3 473.2 227.1 473.0C226.9 472.8 226.7 472.7 226.6 472.5C226.4 472.3 226.2 472.1 226.0 471.8C225.9 471.6 225.7 471.4 225.6 471.1C225.5 470.9 225.4 470.6 225.3 470.3C225.2 470.1 225.2 469.8 225.2 469.5C225.2 469.2 225.2 468.9 225.2 468.7C225.3 468.4 225.4 468.1 225.5 467.9C225.6 467.6 225.7 467.3 225.8 467.1C226.0 466.9 226.2 466.6 226.3 466.4C226.5 466.2 226.7 466.0 226.9 465.9C227.1 465.7 227.3 465.5 227.5 465.4C227.7 465.2 227.9 465.1 228.2 465.0C228.4 464.8 228.6 464.7 228.8 464.6C229.0 464.5 229.3 464.5 229.5 464.4C229.7 464.3 229.9 464.2 230.1 464.2C230.3 464.1 230.5 464.1 230.8 464.0C231.0 464.0 231.2 463.9 231.4 463.9C231.6 463.9 231.8 463.8 232.0 463.8C232.2 463.8 232.4 463.8 232.6 463.8C232.8 463.8 233.0 463.8 233.2 463.8C233.4 463.8 233.6 463.8 233.8 463.8C234.0 463.8 234.2 463.8 234.4 463.8C234.6 463.9 234.8 463.9 235.0 463.9C235.2 464.0 235.4 464.0 235.6 464.1C235.8 464.1 236.0 464.2 236.2 464.2C236.4 464.3 236.7 464.4 236.9 464.5C237.1 464.5 237.3 464.6 237.5 464.7C237.7 464.8 237.9 464.9 238.1 465.1C238.3 465.2 238.5 465.3 238.7 465.5C238.9 465.6 239.1 465.8 239.3 466.0C239.5 466.1 239.7 466.3 239.9 466.5C240.0 466.7 240.2 467.0 240.3 467.2C240.5 467.4 240.6 467.7 240.7 467.9C240.8 468.2 240.8 468.4 240.9 468.7C240.9 469.0 240.9 469.2 240.9 469.5Z" fill="#0f0f0f"/>
<path d="M240.30,469.50C240.3 469.7 240.3 470.0 240.2 470.2C240.2 470.5 240.1 470.7 240.0 470.9C239.9 471.2 239.8 471.4 239.7 471.6C239.5 471.8 239.4 472.0 239.2 472.2C239.1 472.4 238.9 472.5 238.7 472.7C238.6 472.9 238.4 473.0 238.2 473.1C238.0 473.3 237.8 473.4 237.6 473.5C237.4 473.6 237.2 473.7 237.1 473.8C236.9 473.9 236.7 473.9 236.5 474.0C236.3 474.1 236.1 474.2 235.9 474.2C235.7 474.3 235.5 474.3 235.4 474.4C235.2 474.4 235.0 474.4 234.8 474.5C234.6 474.5 234.5 474.5 234.3 474.5C234.1 474.6 233.9 474.6 233.7 474.6C233.6 474.6 233.4 474.6 233.2 474.6C233.0 474.6 232.8 474.6 232.7 474.6C232.5 474.6 232.3 474.6 232.1 474.5C231.9 474.5 231.8 474.5 231.6 474.5C231.4 474.4 231.2 474.4 231.0 474.4C230.9 474.3 230.7 474.3 230.5 474.2C230.3 474.2 230.1 474.1 229.9 474.0C229.7 473.9 229.5 473.9 229.3 473.8C229.2 473.7 229.0 473.6 228.8 473.5C228.6 473.4 228.4 473.3 228.2 473.1C228.0 473.0 227.8 472.9 227.7 472.7C227.5 472.5 227.3 472.4 227.2 472.2C227.0 472.0 226.9 471.8 226.7 471.6C226.6 471.4 226.5 471.2 226.4 470.9C226.3 470.7 226.2 470.5 226.2 470.2C226.1 470.0 226.1 469.7 226.1 469.5C226.1 469.3 226.1 469.0 226.2 468.8C226.2 468.5 226.3 468.3 226.4 468.1C226.5 467.8 226.6 467.6 226.7 467.4C226.9 467.2 227.0 467.0 227.2 466.8C227.3 466.6 227.5 466.5 227.7 466.3C227.8 466.1 228.0 466.0 228.2 465.9C228.4 465.7 228.6 465.6 228.8 465.5C229.0 465.4 229.2 465.3 229.3 465.2C229.5 465.1 229.7 465.1 229.9 465.0C230.1 464.9 230.3 464.8 230.5 464.8C230.7 464.7 230.9 464.7 231.0 464.6C231.2 464.6 231.4 464.6 231.6 464.5C231.8 464.5 231.9 464.5 232.1 464.5C232.3 464.4 232.5 464.4 232.7 464.4C232.8 464.4 233.0 464.4 233.2 464.4C233.4 464.4 233.6 464.4 233.7 464.4C233.9 464.4 234.1 464.4 234.3 464.5C234.5 464.5 234.6 464.5 234.8 464.5C235.0 464.6 235.2 464.6 235.4 464.6C235.5 464.7 235.7 464.7 235.9 464.8C236.1 464.8 236.3 464.9 236.5 465.0C236.7 465.1 236.9 465.1 237.1 465.2C237.2 465.3 237.4 465.4 237.6 465.5C237.8 465.6 238.0 465.7 238.2 465.9C238.4 466.0 238.6 466.1 238.7 466.3C238.9 466.5 239.1 466.6 239.2 466.8C239.4 467.0 239.5 467.2 239.7 467.4C239.8 467.6 239.9 467.8 240.0 468.1C240.1 468.3 240.2 468.5 240.2 468.8C240.3 469.0 240.3 469.3 240.3 469.5Z" fill="#4c4c4c" stroke="#d0d0d0" stroke-width="0.9"/>
<path d="M238.88,469.50C238.9 469.7 238.9 469.9 238.8 470.1C238.8 470.3 238.7 470.5 238.6 470.7C238.6 470.8 238.5 471.0 238.4 471.2C238.3 471.3 238.2 471.5 238.0 471.6C237.9 471.8 237.8 471.9 237.6 472.1C237.5 472.2 237.3 472.3 237.2 472.4C237.0 472.5 236.9 472.6 236.7 472.7C236.6 472.8 236.4 472.9 236.3 472.9C236.1 473.0 236.0 473.1 235.8 473.1C235.7 473.2 235.5 473.2 235.4 473.3C235.2 473.3 235.1 473.4 234.9 473.4C234.8 473.4 234.6 473.4 234.5 473.5C234.3 473.5 234.2 473.5 234.1 473.5C233.9 473.5 233.8 473.6 233.6 473.6C233.5 473.6 233.3 473.6 233.2 473.6C233.1 473.6 232.9 473.6 232.8 473.6C232.6 473.6 232.5 473.5 232.3 473.5C232.2 473.5 232.1 473.5 231.9 473.5C231.8 473.4 231.6 473.4 231.5 473.4C231.3 473.4 231.2 473.3 231.0 473.3C230.9 473.2 230.7 473.2 230.6 473.1C230.4 473.1 230.3 473.0 230.1 472.9C230.0 472.9 229.8 472.8 229.7 472.7C229.5 472.6 229.4 472.5 229.2 472.4C229.1 472.3 228.9 472.2 228.8 472.1C228.6 471.9 228.5 471.8 228.4 471.6C228.2 471.5 228.1 471.3 228.0 471.2C227.9 471.0 227.8 470.8 227.8 470.7C227.7 470.5 227.6 470.3 227.6 470.1C227.5 469.9 227.5 469.7 227.5 469.5C227.5 469.3 227.5 469.1 227.6 468.9C227.6 468.7 227.7 468.5 227.8 468.3C227.8 468.2 227.9 468.0 228.0 467.8C228.1 467.7 228.2 467.5 228.4 467.4C228.5 467.2 228.6 467.1 228.8 466.9C228.9 466.8 229.1 466.7 229.2 466.6C229.4 466.5 229.5 466.4 229.7 466.3C229.8 466.2 230.0 466.1 230.1 466.1C230.3 466.0 230.4 465.9 230.6 465.9C230.7 465.8 230.9 465.8 231.0 465.7C231.2 465.7 231.3 465.6 231.5 465.6C231.6 465.6 231.8 465.6 231.9 465.5C232.1 465.5 232.2 465.5 232.3 465.5C232.5 465.5 232.6 465.4 232.8 465.4C232.9 465.4 233.1 465.4 233.2 465.4C233.3 465.4 233.5 465.4 233.6 465.4C233.8 465.4 233.9 465.5 234.1 465.5C234.2 465.5 234.3 465.5 234.5 465.5C234.6 465.6 234.8 465.6 234.9 465.6C235.1 465.6 235.2 465.7 235.4 465.7C235.5 465.8 235.7 465.8 235.8 465.9C236.0 465.9 236.1 466.0 236.3 466.1C236.4 466.1 236.6 466.2 236.7 466.3C236.9 466.4 237.0 466.5 237.2 466.6C237.3 466.7 237.5 466.8 237.6 466.9C237.8 467.1 237.9 467.2 238.0 467.4C238.2 467.5 238.3 467.7 238.4 467.8C238.5 468.0 238.6 468.2 238.6 468.3C238.7 468.5 238.8 468.7 238.8 468.9C238.9 469.1 238.9 469.3 238.9 469.5Z" fill="#3d3d3d"/>
<path d="M237.46,469.50C237.5 469.6 237.4 469.8 237.4 469.9C237.4 470.1 237.3 470.2 237.3 470.4C237.2 470.5 237.2 470.6 237.1 470.8C237.0 470.9 236.9 471.0 236.8 471.1C236.7 471.2 236.6 471.3 236.5 471.4C236.4 471.5 236.3 471.6 236.2 471.7C236.1 471.8 236.0 471.8 235.9 471.9C235.7 472.0 235.6 472.0 235.5 472.1C235.4 472.1 235.3 472.2 235.2 472.2C235.1 472.3 234.9 472.3 234.8 472.3C234.7 472.4 234.6 472.4 234.5 472.4C234.4 472.4 234.3 472.5 234.2 472.5C234.1 472.5 234.0 472.5 233.8 472.5C233.7 472.5 233.6 472.5 233.5 472.6C233.4 472.6 233.3 472.6 233.2 472.6C233.1 472.6 233.0 472.6 232.9 472.6C232.8 472.5 232.7 472.5 232.6 472.5C232.4 472.5 232.3 472.5 232.2 472.5C232.1 472.5 232.0 472.4 231.9 472.4C231.8 472.4 231.7 472.4 231.6 472.3C231.5 472.3 231.3 472.3 231.2 472.2C231.1 472.2 231.0 472.1 230.9 472.1C230.8 472.0 230.7 472.0 230.5 471.9C230.4 471.8 230.3 471.8 230.2 471.7C230.1 471.6 230.0 471.5 229.9 471.4C229.8 471.3 229.7 471.2 229.6 471.1C229.5 471.0 229.4 470.9 229.3 470.8C229.2 470.6 229.2 470.5 229.1 470.4C229.1 470.2 229.0 470.1 229.0 469.9C229.0 469.8 228.9 469.6 228.9 469.5C228.9 469.4 229.0 469.2 229.0 469.1C229.0 468.9 229.1 468.8 229.1 468.6C229.2 468.5 229.2 468.4 229.3 468.2C229.4 468.1 229.5 468.0 229.6 467.9C229.7 467.8 229.8 467.7 229.9 467.6C230.0 467.5 230.1 467.4 230.2 467.3C230.3 467.2 230.4 467.2 230.5 467.1C230.7 467.0 230.8 467.0 230.9 466.9C231.0 466.9 231.1 466.8 231.2 466.8C231.3 466.7 231.5 466.7 231.6 466.7C231.7 466.6 231.8 466.6 231.9 466.6C232.0 466.6 232.1 466.5 232.2 466.5C232.3 466.5 232.4 466.5 232.6 466.5C232.7 466.5 232.8 466.5 232.9 466.4C233.0 466.4 233.1 466.4 233.2 466.4C233.3 466.4 233.4 466.4 233.5 466.4C233.6 466.5 233.7 466.5 233.8 466.5C234.0 466.5 234.1 466.5 234.2 466.5C234.3 466.5 234.4 466.6 234.5 466.6C234.6 466.6 234.7 466.6 234.8 466.7C234.9 466.7 235.1 466.7 235.2 466.8C235.3 466.8 235.4 466.9 235.5 466.9C235.6 467.0 235.7 467.0 235.9 467.1C236.0 467.2 236.1 467.2 236.2 467.3C236.3 467.4 236.4 467.5 236.5 467.6C236.6 467.7 236.7 467.8 236.8 467.9C236.9 468.0 237.0 468.1 237.1 468.2C237.2 468.4 237.2 468.5 237.3 468.6C237.3 468.8 237.4 468.9 237.4 469.1C237.4 469.2 237.5 469.4 237.5 469.5Z" fill="#2e2e2e"/>
<path d="M236.04,469.50C236.0 469.6 236.0 469.7 236.0 469.8C236.0 469.9 236.0 470.0 235.9 470.1C235.9 470.2 235.8 470.3 235.8 470.3C235.7 470.4 235.7 470.5 235.6 470.6C235.6 470.6 235.5 470.7 235.4 470.8C235.3 470.8 235.3 470.9 235.2 471.0C235.1 471.0 235.0 471.1 235.0 471.1C234.9 471.1 234.8 471.2 234.7 471.2C234.7 471.2 234.6 471.3 234.5 471.3C234.4 471.3 234.4 471.4 234.3 471.4C234.2 471.4 234.1 471.4 234.1 471.4C234.0 471.5 233.9 471.5 233.8 471.5C233.8 471.5 233.7 471.5 233.6 471.5C233.6 471.5 233.5 471.5 233.4 471.5C233.3 471.5 233.3 471.5 233.2 471.5C233.1 471.5 233.1 471.5 233.0 471.5C232.9 471.5 232.8 471.5 232.8 471.5C232.7 471.5 232.6 471.5 232.6 471.5C232.5 471.5 232.4 471.5 232.3 471.4C232.3 471.4 232.2 471.4 232.1 471.4C232.0 471.4 232.0 471.3 231.9 471.3C231.8 471.3 231.7 471.2 231.7 471.2C231.6 471.2 231.5 471.1 231.4 471.1C231.4 471.1 231.3 471.0 231.2 471.0C231.1 470.9 231.1 470.8 231.0 470.8C230.9 470.7 230.8 470.6 230.8 470.6C230.7 470.5 230.7 470.4 230.6 470.3C230.6 470.3 230.5 470.2 230.5 470.1C230.4 470.0 230.4 469.9 230.4 469.8C230.4 469.7 230.4 469.6 230.4 469.5C230.4 469.4 230.4 469.3 230.4 469.2C230.4 469.1 230.4 469.0 230.5 468.9C230.5 468.8 230.6 468.7 230.6 468.7C230.7 468.6 230.7 468.5 230.8 468.4C230.8 468.4 230.9 468.3 231.0 468.2C231.1 468.2 231.1 468.1 231.2 468.0C231.3 468.0 231.4 467.9 231.4 467.9C231.5 467.9 231.6 467.8 231.7 467.8C231.7 467.8 231.8 467.7 231.9 467.7C232.0 467.7 232.0 467.6 232.1 467.6C232.2 467.6 232.3 467.6 232.3 467.6C232.4 467.5 232.5 467.5 232.6 467.5C232.6 467.5 232.7 467.5 232.8 467.5C232.8 467.5 232.9 467.5 233.0 467.5C233.1 467.5 233.1 467.5 233.2 467.5C233.3 467.5 233.3 467.5 233.4 467.5C233.5 467.5 233.6 467.5 233.6 467.5C233.7 467.5 233.8 467.5 233.8 467.5C233.9 467.5 234.0 467.5 234.1 467.6C234.1 467.6 234.2 467.6 234.3 467.6C234.4 467.6 234.4 467.7 234.5 467.7C234.6 467.7 234.7 467.8 234.7 467.8C234.8 467.8 234.9 467.9 235.0 467.9C235.0 467.9 235.1 468.0 235.2 468.0C235.3 468.1 235.3 468.2 235.4 468.2C235.5 468.3 235.6 468.4 235.6 468.4C235.7 468.5 235.7 468.6 235.8 468.7C235.8 468.7 235.9 468.8 235.9 468.9C236.0 469.0 236.0 469.1 236.0 469.2C236.0 469.3 236.0 469.4 236.0 469.5Z" fill="#1f1f1f"/>
<path d="M234.62,469.50C234.6 469.5 234.6 469.6 234.6 469.6C234.6 469.7 234.6 469.7 234.6 469.8C234.5 469.8 234.5 469.9 234.5 469.9C234.5 470.0 234.4 470.0 234.4 470.0C234.4 470.1 234.3 470.1 234.3 470.1C234.3 470.2 234.2 470.2 234.2 470.2C234.2 470.3 234.1 470.3 234.1 470.3C234.0 470.3 234.0 470.3 234.0 470.4C233.9 470.4 233.9 470.4 233.9 470.4C233.8 470.4 233.8 470.4 233.7 470.4C233.7 470.5 233.7 470.5 233.6 470.5C233.6 470.5 233.6 470.5 233.5 470.5C233.5 470.5 233.5 470.5 233.4 470.5C233.4 470.5 233.3 470.5 233.3 470.5C233.3 470.5 233.2 470.5 233.2 470.5C233.2 470.5 233.1 470.5 233.1 470.5C233.1 470.5 233.0 470.5 233.0 470.5C232.9 470.5 232.9 470.5 232.9 470.5C232.8 470.5 232.8 470.5 232.8 470.5C232.7 470.5 232.7 470.5 232.7 470.4C232.6 470.4 232.6 470.4 232.5 470.4C232.5 470.4 232.5 470.4 232.4 470.4C232.4 470.3 232.4 470.3 232.3 470.3C232.3 470.3 232.2 470.3 232.2 470.2C232.2 470.2 232.1 470.2 232.1 470.1C232.1 470.1 232.0 470.1 232.0 470.0C232.0 470.0 231.9 470.0 231.9 469.9C231.9 469.9 231.9 469.8 231.8 469.8C231.8 469.7 231.8 469.7 231.8 469.6C231.8 469.6 231.8 469.5 231.8 469.5C231.8 469.5 231.8 469.4 231.8 469.4C231.8 469.3 231.8 469.3 231.8 469.2C231.9 469.2 231.9 469.1 231.9 469.1C231.9 469.0 232.0 469.0 232.0 469.0C232.0 468.9 232.1 468.9 232.1 468.9C232.1 468.8 232.2 468.8 232.2 468.8C232.2 468.7 232.3 468.7 232.3 468.7C232.4 468.7 232.4 468.7 232.4 468.6C232.5 468.6 232.5 468.6 232.5 468.6C232.6 468.6 232.6 468.6 232.7 468.6C232.7 468.5 232.7 468.5 232.8 468.5C232.8 468.5 232.8 468.5 232.9 468.5C232.9 468.5 232.9 468.5 233.0 468.5C233.0 468.5 233.1 468.5 233.1 468.5C233.1 468.5 233.2 468.5 233.2 468.5C233.2 468.5 233.3 468.5 233.3 468.5C233.3 468.5 233.4 468.5 233.4 468.5C233.5 468.5 233.5 468.5 233.5 468.5C233.6 468.5 233.6 468.5 233.6 468.5C233.7 468.5 233.7 468.5 233.7 468.6C233.8 468.6 233.8 468.6 233.9 468.6C233.9 468.6 233.9 468.6 234.0 468.6C234.0 468.7 234.0 468.7 234.1 468.7C234.1 468.7 234.2 468.7 234.2 468.8C234.2 468.8 234.3 468.8 234.3 468.9C234.3 468.9 234.4 468.9 234.4 469.0C234.4 469.0 234.5 469.0 234.5 469.1C234.5 469.1 234.5 469.2 234.6 469.2C234.6 469.3 234.6 469.3 234.6 469.4C234.6 469.4 234.6 469.5 234.6 469.5Z" fill="#0f0f0f"/>
<ellipse cx="270" cy="466" rx="11" ry="9" fill="url(#dk)"/>
<ellipse cx="269.5" cy="467.2" rx="4.8" ry="2.9" fill="#b0b0b0" stroke="#e0e0e0" stroke-width="1"/>
<ellipse cx="266.8" cy="443.1" rx="5" ry="4.5" fill="#000"/><ellipse cx="266.8" cy="442.8" rx="2.7" ry="2" fill="#bbb"/>
</g>
<g clip-path="url(#cp3)">
<path d="M439.12,463.90C438.4 465.6 437.6 467.2 436.4 468.7C435.2 470.1 433.7 471.5 431.9 472.6C430.2 473.7 427.9 474.5 426.1 475.3C424.2 476.1 422.5 476.6 420.9 477.2C419.2 477.7 417.8 478.2 416.4 478.6C415.0 478.9 413.7 479.3 412.5 479.5C411.3 479.8 410.2 480.0 409.1 480.2C408.1 480.4 407.2 480.7 406.2 480.8C405.3 480.9 404.3 481.0 403.4 481.0C402.6 481.1 401.8 481.2 401.0 481.2C400.2 481.3 399.5 481.3 398.8 481.4C398.1 481.5 397.4 481.6 396.7 481.6C396.1 481.6 395.4 481.5 394.7 481.5C394.1 481.4 393.5 481.4 392.8 481.3C392.2 481.3 391.6 481.2 391.0 481.2C390.4 481.1 389.8 481.1 389.2 481.0C388.6 481.0 388.0 481.0 387.4 480.9C386.8 480.8 386.2 480.7 385.6 480.5C385.0 480.4 384.4 480.2 383.8 480.0C383.2 479.8 382.6 479.6 382.0 479.5C381.4 479.3 380.8 479.1 380.1 478.9C379.5 478.7 378.7 478.5 378.1 478.2C377.4 478.0 376.8 477.6 376.1 477.3C375.5 476.9 374.8 476.6 374.0 476.2C373.3 475.9 372.5 475.5 371.7 475.1C370.9 474.6 370.0 474.2 369.2 473.6C368.4 473.0 367.7 472.4 367.0 471.7C366.2 471.0 365.3 470.3 364.7 469.5C364.0 468.7 364.5 467.8 363.1 466.8C361.6 465.9 355.9 464.9 356.0 463.9C356.1 462.9 362.1 462.0 363.5 461.0C364.9 460.1 364.0 459.1 364.2 458.2C364.5 457.3 364.5 456.3 364.9 455.4C365.4 454.6 366.3 453.9 367.0 453.2C367.6 452.5 368.2 451.8 368.9 451.2C369.7 450.6 370.6 450.1 371.4 449.7C372.2 449.2 373.0 448.8 373.7 448.4C374.5 447.9 375.1 447.5 375.8 447.0C376.4 446.5 377.0 446.0 377.6 445.4C378.2 444.9 378.8 444.4 379.4 443.9C380.1 443.4 380.8 442.9 381.4 442.4C382.1 441.9 382.8 441.4 383.5 440.9C384.3 440.4 385.0 439.7 385.8 439.4C386.6 439.1 387.5 439.2 388.4 439.1C389.3 439.0 390.1 438.9 391.0 438.7C391.9 438.6 392.8 438.5 393.7 438.4C394.6 438.3 395.5 438.2 396.5 438.1C397.4 438.0 398.5 437.8 399.5 437.9C400.4 437.9 401.4 438.1 402.4 438.4C403.3 438.6 404.3 438.9 405.3 439.2C406.2 439.5 407.1 440.0 408.1 440.3C409.1 440.7 410.0 441.2 411.3 441.4C412.6 441.6 413.9 441.6 415.8 441.5C417.8 441.4 420.3 440.9 422.8 440.8C425.4 440.6 428.8 440.3 431.2 440.7C433.5 441.2 435.5 442.2 436.8 443.5C438.1 444.8 438.3 446.7 438.9 448.4C439.4 450.0 439.9 451.7 440.2 453.4C440.5 455.2 440.7 457.0 440.5 458.7C440.4 460.4 439.8 462.2 439.1 463.9Z" fill="#646464" stroke="#000" stroke-width="2.2"/>
<path d="M432.88,463.90C432.3 465.3 431.6 466.8 430.6 468.1C429.7 469.3 428.4 470.6 427.0 471.5C425.5 472.5 423.6 473.3 422.1 474.0C420.5 474.7 419.1 475.3 417.7 475.8C416.3 476.3 415.1 476.7 413.9 477.1C412.7 477.5 411.6 477.8 410.5 478.1C409.5 478.4 408.5 478.6 407.6 478.8C406.6 479.0 405.8 479.3 405.0 479.4C404.1 479.6 403.3 479.6 402.5 479.7C401.7 479.8 401.0 479.9 400.3 480.0C399.6 480.0 398.9 480.1 398.2 480.2C397.6 480.2 397.0 480.3 396.3 480.4C395.7 480.4 395.1 480.3 394.5 480.3C393.9 480.3 393.3 480.2 392.7 480.2C392.1 480.2 391.6 480.1 391.0 480.1C390.4 480.1 389.9 480.0 389.3 480.0C388.7 479.9 388.2 479.9 387.6 479.8C387.0 479.8 386.5 479.7 385.9 479.5C385.4 479.4 384.8 479.2 384.3 479.0C383.7 478.9 383.1 478.7 382.5 478.5C382.0 478.4 381.4 478.2 380.8 478.0C380.2 477.8 379.5 477.6 378.9 477.4C378.3 477.1 377.7 476.8 377.0 476.5C376.4 476.1 375.8 475.8 375.1 475.5C374.4 475.1 373.7 474.7 372.9 474.3C372.2 473.9 371.4 473.4 370.7 472.9C370.0 472.4 369.4 471.8 368.8 471.1C368.1 470.5 367.3 469.8 366.8 469.1C366.2 468.3 366.5 467.5 365.3 466.6C364.1 465.7 359.6 464.8 359.6 463.9C359.7 463.0 364.5 462.1 365.6 461.2C366.7 460.4 366.0 459.5 366.3 458.6C366.5 457.8 366.5 456.9 366.9 456.1C367.4 455.3 368.1 454.7 368.7 454.0C369.3 453.3 369.9 452.6 370.5 452.1C371.2 451.5 372.1 451.1 372.8 450.7C373.5 450.2 374.2 449.8 374.9 449.4C375.6 449.0 376.2 448.6 376.8 448.1C377.4 447.7 378.0 447.2 378.5 446.8C379.1 446.3 379.7 445.8 380.3 445.4C380.9 445.0 381.6 444.5 382.2 444.1C382.8 443.7 383.5 443.3 384.2 442.8C384.8 442.4 385.5 441.8 386.3 441.6C387.0 441.3 387.8 441.4 388.6 441.3C389.4 441.2 390.2 441.1 391.0 441.0C391.8 441.0 392.6 440.9 393.4 440.8C394.3 440.7 395.1 440.6 396.0 440.5C396.8 440.5 397.7 440.4 398.6 440.4C399.5 440.5 400.4 440.7 401.2 440.9C402.1 441.1 403.0 441.3 403.9 441.6C404.7 441.9 405.5 442.3 406.4 442.7C407.3 443.0 408.1 443.4 409.2 443.6C410.4 443.9 411.5 444.0 413.2 443.9C414.8 443.9 416.9 443.6 419.0 443.5C421.2 443.5 424.0 443.3 425.9 443.7C427.9 444.2 429.6 445.1 430.7 446.2C431.8 447.4 432.0 449.0 432.5 450.4C433.0 451.9 433.4 453.3 433.7 454.8C433.9 456.3 434.2 457.9 434.0 459.4C433.9 460.9 433.4 462.5 432.9 463.9Z" fill="#404040"/>
<path d="M426.65,463.90C426.2 465.1 425.7 466.4 424.9 467.5C424.1 468.6 423.1 469.6 422.0 470.5C420.8 471.4 419.3 472.1 418.1 472.7C416.9 473.4 415.7 473.9 414.5 474.4C413.4 474.9 412.4 475.3 411.4 475.7C410.4 476.0 409.5 476.4 408.6 476.7C407.7 476.9 406.8 477.2 406.0 477.4C405.2 477.6 404.5 477.9 403.7 478.0C403.0 478.2 402.2 478.3 401.5 478.4C400.8 478.5 400.2 478.6 399.5 478.7C398.9 478.8 398.3 478.9 397.7 478.9C397.1 479.0 396.5 479.1 396.0 479.1C395.4 479.2 394.8 479.2 394.2 479.1C393.7 479.1 393.1 479.1 392.6 479.1C392.1 479.1 391.5 479.0 391.0 479.0C390.5 479.0 389.9 479.0 389.4 478.9C388.9 478.9 388.4 478.9 387.8 478.8C387.3 478.7 386.8 478.6 386.3 478.5C385.7 478.4 385.2 478.2 384.7 478.1C384.2 477.9 383.6 477.8 383.1 477.6C382.5 477.5 382.0 477.3 381.4 477.1C380.8 476.9 380.2 476.7 379.7 476.5C379.1 476.3 378.5 475.9 378.0 475.6C377.4 475.3 376.8 475.0 376.2 474.7C375.5 474.3 374.9 474.0 374.2 473.6C373.6 473.2 372.9 472.7 372.3 472.2C371.7 471.7 371.1 471.2 370.5 470.5C370.0 469.9 369.3 469.3 368.8 468.6C368.3 467.9 368.5 467.1 367.6 466.4C366.7 465.6 363.2 464.7 363.2 463.9C363.2 463.1 366.9 462.3 367.7 461.5C368.6 460.6 368.1 459.9 368.3 459.1C368.5 458.3 368.6 457.5 369.0 456.7C369.3 456.0 370.0 455.4 370.5 454.8C371.1 454.2 371.5 453.5 372.1 453.0C372.7 452.5 373.5 452.1 374.1 451.6C374.8 451.2 375.4 450.8 376.1 450.4C376.7 450.0 377.2 449.7 377.8 449.3C378.4 448.9 378.9 448.5 379.5 448.1C380.1 447.7 380.6 447.3 381.2 446.9C381.8 446.5 382.4 446.2 383.0 445.8C383.6 445.5 384.2 445.1 384.8 444.8C385.4 444.4 386.0 444.0 386.7 443.8C387.4 443.6 388.1 443.6 388.9 443.5C389.6 443.5 390.3 443.4 391.0 443.3C391.7 443.3 392.4 443.2 393.2 443.2C393.9 443.1 394.7 443.0 395.4 443.0C396.2 443.0 397.0 442.9 397.8 443.0C398.6 443.0 399.4 443.2 400.1 443.4C400.9 443.6 401.7 443.8 402.4 444.1C403.2 444.3 403.9 444.7 404.7 445.0C405.5 445.3 406.2 445.7 407.2 445.9C408.2 446.1 409.2 446.3 410.5 446.4C411.8 446.4 413.5 446.2 415.2 446.3C416.9 446.4 419.2 446.3 420.7 446.7C422.3 447.2 423.6 448.0 424.5 449.0C425.4 449.9 425.7 451.3 426.1 452.5C426.6 453.7 426.9 455.0 427.2 456.2C427.4 457.5 427.6 458.8 427.5 460.1C427.4 461.3 427.1 462.7 426.7 463.9Z" fill="#2d2d2d"/>
<path d="M420.42,463.90C420.1 464.9 419.7 465.9 419.1 466.9C418.6 467.8 417.8 468.7 417.0 469.4C416.1 470.2 415.0 470.8 414.1 471.4C413.2 472.0 412.3 472.5 411.4 473.0C410.5 473.4 409.7 473.9 408.9 474.2C408.1 474.6 407.3 474.9 406.6 475.2C405.8 475.5 405.1 475.8 404.4 476.0C403.8 476.2 403.1 476.5 402.5 476.6C401.8 476.8 401.2 476.9 400.6 477.1C400.0 477.2 399.4 477.3 398.8 477.4C398.2 477.5 397.7 477.6 397.1 477.7C396.6 477.8 396.1 477.9 395.6 477.9C395.0 478.0 394.5 478.0 394.0 478.0C393.5 478.0 393.0 478.0 392.5 478.0C392.0 478.0 391.5 478.0 391.0 477.9C390.5 477.9 390.0 477.9 389.5 477.9C389.0 477.8 388.5 477.8 388.1 477.7C387.6 477.7 387.1 477.6 386.6 477.5C386.1 477.4 385.6 477.3 385.1 477.1C384.6 477.0 384.1 476.9 383.6 476.7C383.1 476.6 382.6 476.4 382.1 476.2C381.5 476.0 381.0 475.9 380.4 475.6C379.9 475.4 379.4 475.1 378.9 474.8C378.3 474.5 377.8 474.2 377.2 473.9C376.7 473.6 376.1 473.2 375.5 472.8C375.0 472.4 374.4 472.0 373.8 471.5C373.3 471.1 372.8 470.5 372.3 470.0C371.8 469.4 371.3 468.8 370.9 468.2C370.5 467.5 370.5 466.8 369.8 466.1C369.2 465.4 366.8 464.6 366.8 463.9C366.8 463.2 369.2 462.4 369.8 461.7C370.4 460.9 370.1 460.2 370.3 459.5C370.5 458.8 370.6 458.0 371.0 457.4C371.3 456.7 371.8 456.2 372.3 455.6C372.8 455.0 373.2 454.4 373.7 453.9C374.3 453.4 374.9 453.0 375.5 452.6C376.1 452.2 376.6 451.8 377.2 451.5C377.8 451.1 378.3 450.8 378.9 450.4C379.4 450.1 379.9 449.7 380.4 449.4C381.0 449.0 381.5 448.7 382.1 448.4C382.6 448.1 383.2 447.8 383.7 447.5C384.3 447.3 384.8 447.0 385.4 446.7C386.0 446.5 386.6 446.1 387.2 446.0C387.8 445.8 388.5 445.8 389.1 445.8C389.7 445.7 390.4 445.7 391.0 445.6C391.6 445.6 392.3 445.5 392.9 445.5C393.6 445.5 394.2 445.5 394.9 445.5C395.6 445.5 396.3 445.5 397.0 445.5C397.7 445.6 398.3 445.8 399.0 445.9C399.7 446.1 400.4 446.3 401.0 446.5C401.7 446.8 402.4 447.1 403.0 447.3C403.7 447.6 404.4 447.9 405.2 448.2C406.0 448.4 406.8 448.6 407.8 448.8C408.9 448.9 410.1 448.9 411.4 449.1C412.7 449.2 414.3 449.3 415.5 449.8C416.7 450.2 417.7 450.9 418.4 451.7C419.1 452.5 419.4 453.6 419.7 454.6C420.1 455.5 420.4 456.6 420.7 457.6C420.9 458.6 421.0 459.7 421.0 460.7C421.0 461.8 420.7 462.9 420.4 463.9Z" fill="#1e1e1e"/>
<path d="M414.19,463.90C414.0 464.7 413.8 465.5 413.4 466.3C413.0 467.0 412.5 467.7 412.0 468.4C411.5 469.0 410.8 469.6 410.1 470.1C409.5 470.7 408.9 471.1 408.2 471.6C407.6 472.0 407.0 472.4 406.4 472.8C405.8 473.2 405.2 473.5 404.6 473.8C404.0 474.1 403.4 474.3 402.9 474.6C402.3 474.8 401.8 475.1 401.2 475.3C400.7 475.5 400.1 475.6 399.6 475.8C399.1 475.9 398.6 476.0 398.1 476.1C397.6 476.3 397.1 476.4 396.6 476.5C396.1 476.6 395.6 476.6 395.2 476.7C394.7 476.8 394.2 476.8 393.7 476.8C393.3 476.9 392.8 476.9 392.4 476.9C391.9 476.9 391.5 476.9 391.0 476.9C390.5 476.9 390.1 476.8 389.6 476.8C389.2 476.8 388.7 476.8 388.3 476.7C387.8 476.6 387.4 476.6 386.9 476.5C386.5 476.4 386.0 476.3 385.5 476.2C385.1 476.1 384.6 475.9 384.1 475.8C383.7 475.6 383.2 475.5 382.7 475.3C382.2 475.1 381.7 475.0 381.2 474.7C380.7 474.5 380.3 474.3 379.8 474.0C379.3 473.7 378.8 473.4 378.3 473.1C377.8 472.8 377.3 472.5 376.8 472.1C376.3 471.7 375.8 471.3 375.4 470.9C374.9 470.4 374.5 469.9 374.1 469.4C373.7 468.9 373.3 468.3 372.9 467.7C372.6 467.2 372.5 466.5 372.1 465.9C371.7 465.2 370.5 464.6 370.4 463.9C370.4 463.2 371.6 462.6 371.9 461.9C372.3 461.2 372.2 460.6 372.3 459.9C372.5 459.3 372.7 458.6 373.0 458.0C373.3 457.5 373.7 456.9 374.1 456.4C374.5 455.8 374.9 455.3 375.4 454.9C375.8 454.4 376.3 454.0 376.8 453.6C377.3 453.2 377.9 452.9 378.4 452.5C378.9 452.2 379.4 451.9 379.9 451.6C380.4 451.2 380.9 451.0 381.4 450.7C381.9 450.4 382.4 450.1 382.9 449.9C383.4 449.7 384.0 449.5 384.5 449.2C385.0 449.0 385.5 448.9 386.1 448.7C386.6 448.5 387.1 448.3 387.7 448.2C388.2 448.1 388.8 448.1 389.3 448.0C389.9 448.0 390.4 447.9 391.0 447.9C391.6 447.9 392.1 447.9 392.7 447.9C393.2 447.9 393.8 447.9 394.4 447.9C395.0 448.0 395.6 448.0 396.1 448.1C396.7 448.2 397.3 448.3 397.9 448.4C398.5 448.6 399.0 448.8 399.6 449.0C400.2 449.2 400.8 449.4 401.3 449.7C401.9 449.9 402.5 450.2 403.1 450.4C403.8 450.7 404.4 450.9 405.2 451.2C405.9 451.4 406.8 451.6 407.6 451.8C408.5 452.1 409.5 452.3 410.3 452.8C411.0 453.2 411.7 453.8 412.3 454.4C412.8 455.1 413.1 455.9 413.4 456.6C413.7 457.4 414.0 458.2 414.1 459.0C414.3 459.8 414.5 460.6 414.5 461.4C414.5 462.3 414.4 463.1 414.2 463.9Z" fill="#111111"/>
<path d="M407.96,463.90C407.9 464.5 407.8 465.1 407.6 465.6C407.5 466.2 407.3 466.8 407.0 467.3C406.8 467.8 406.5 468.3 406.1 468.8C405.8 469.3 405.5 469.7 405.1 470.2C404.7 470.6 404.3 471.0 403.9 471.3C403.5 471.7 403.1 472.0 402.6 472.3C402.2 472.6 401.7 472.9 401.3 473.2C400.9 473.4 400.4 473.7 400.0 473.9C399.5 474.1 399.1 474.3 398.7 474.4C398.2 474.6 397.8 474.7 397.3 474.9C396.9 475.0 396.5 475.1 396.0 475.2C395.6 475.3 395.2 475.4 394.8 475.5C394.3 475.6 393.9 475.6 393.5 475.7C393.1 475.7 392.7 475.7 392.2 475.8C391.8 475.8 391.4 475.8 391.0 475.8C390.6 475.8 390.2 475.8 389.8 475.8C389.3 475.7 388.9 475.7 388.5 475.7C388.1 475.6 387.7 475.6 387.2 475.5C386.8 475.4 386.4 475.3 386.0 475.2C385.5 475.1 385.1 475.0 384.7 474.9C384.2 474.7 383.8 474.6 383.3 474.4C382.9 474.3 382.5 474.1 382.0 473.9C381.6 473.7 381.1 473.4 380.7 473.2C380.3 472.9 379.8 472.6 379.4 472.3C378.9 472.0 378.5 471.7 378.1 471.3C377.7 471.0 377.3 470.6 376.9 470.2C376.5 469.7 376.2 469.3 375.9 468.8C375.5 468.3 375.2 467.8 375.0 467.3C374.7 466.8 374.5 466.2 374.4 465.6C374.2 465.1 374.1 464.5 374.0 463.9C374.0 463.3 374.0 462.7 374.0 462.1C374.1 461.5 374.2 460.9 374.4 460.4C374.5 459.8 374.7 459.2 375.0 458.7C375.2 458.2 375.5 457.6 375.9 457.2C376.2 456.7 376.6 456.2 377.0 455.8C377.3 455.4 377.8 455.0 378.2 454.6C378.6 454.2 379.1 453.9 379.5 453.6C380.0 453.2 380.4 453.0 380.9 452.7C381.4 452.4 381.9 452.2 382.3 452.0C382.8 451.8 383.3 451.6 383.8 451.4C384.3 451.2 384.8 451.1 385.2 451.0C385.7 450.8 386.2 450.7 386.7 450.6C387.2 450.5 387.6 450.4 388.1 450.4C388.6 450.3 389.1 450.3 389.6 450.2C390.0 450.2 390.5 450.2 391.0 450.2C391.5 450.2 392.0 450.2 392.4 450.2C392.9 450.3 393.4 450.3 393.9 450.4C394.4 450.4 394.8 450.5 395.3 450.6C395.8 450.7 396.3 450.8 396.8 451.0C397.2 451.1 397.7 451.2 398.2 451.4C398.7 451.6 399.2 451.8 399.7 452.0C400.1 452.2 400.6 452.4 401.1 452.7C401.6 453.0 402.0 453.2 402.5 453.6C402.9 453.9 403.4 454.2 403.8 454.6C404.2 455.0 404.7 455.4 405.0 455.8C405.4 456.2 405.8 456.7 406.1 457.2C406.5 457.6 406.8 458.2 407.0 458.7C407.3 459.2 407.5 459.8 407.6 460.4C407.8 460.9 407.9 461.5 408.0 462.1C408.0 462.7 408.0 463.3 408.0 463.9Z" fill="#555555" stroke="#d0d0d0" stroke-width="0.9"/>
<path d="M407.26,463.90C407.2 464.5 407.1 465.0 407.0 465.6C406.8 466.1 406.6 466.7 406.4 467.2C406.1 467.7 405.8 468.2 405.5 468.6C405.2 469.1 404.9 469.5 404.5 469.9C404.1 470.3 403.7 470.7 403.4 471.0C403.0 471.4 402.5 471.7 402.1 472.0C401.7 472.3 401.3 472.5 400.9 472.8C400.4 473.0 400.0 473.2 399.6 473.4C399.2 473.6 398.7 473.8 398.3 474.0C397.9 474.1 397.5 474.3 397.1 474.4C396.6 474.5 396.2 474.6 395.8 474.7C395.4 474.8 395.0 474.9 394.6 475.0C394.2 475.1 393.8 475.1 393.4 475.2C393.0 475.2 392.6 475.2 392.2 475.3C391.8 475.3 391.4 475.3 391.0 475.3C390.6 475.3 390.2 475.3 389.8 475.3C389.4 475.3 389.0 475.2 388.6 475.2C388.2 475.1 387.8 475.1 387.4 475.0C387.0 474.9 386.6 474.9 386.2 474.8C385.7 474.7 385.3 474.6 384.9 474.5C384.5 474.3 384.1 474.2 383.6 474.0C383.2 473.9 382.8 473.7 382.4 473.5C381.9 473.3 381.5 473.1 381.1 472.9C380.6 472.6 380.2 472.3 379.8 472.1C379.4 471.8 378.9 471.4 378.5 471.1C378.1 470.8 377.7 470.4 377.4 470.0C377.0 469.6 376.6 469.1 376.3 468.7C376.0 468.2 375.7 467.7 375.5 467.2C375.2 466.7 375.0 466.1 374.9 465.6C374.7 465.0 374.6 464.5 374.5 463.9C374.5 463.3 374.5 462.7 374.5 462.2C374.6 461.6 374.7 461.0 374.9 460.5C375.0 459.9 375.3 459.4 375.5 458.9C375.8 458.4 376.1 457.9 376.4 457.4C376.7 456.9 377.1 456.5 377.5 456.1C377.8 455.7 378.3 455.3 378.7 454.9C379.1 454.6 379.5 454.3 380.0 454.0C380.4 453.7 380.9 453.4 381.3 453.2C381.8 452.9 382.3 452.7 382.7 452.5C383.2 452.3 383.6 452.1 384.1 452.0C384.6 451.8 385.0 451.7 385.5 451.5C386.0 451.4 386.4 451.3 386.9 451.2C387.3 451.1 387.8 451.1 388.3 451.0C388.7 451.0 389.2 450.9 389.6 450.9C390.1 450.9 390.5 450.9 391.0 450.9C391.5 450.9 391.9 450.9 392.4 450.9C392.8 450.9 393.3 451.0 393.7 451.0C394.2 451.1 394.6 451.2 395.1 451.3C395.6 451.4 396.0 451.5 396.5 451.6C396.9 451.7 397.4 451.9 397.9 452.0C398.3 452.2 398.8 452.4 399.2 452.6C399.7 452.8 400.2 453.0 400.6 453.2C401.1 453.5 401.5 453.7 401.9 454.0C402.4 454.3 402.8 454.7 403.2 455.0C403.6 455.4 404.0 455.7 404.4 456.2C404.8 456.6 405.1 457.0 405.5 457.5C405.8 457.9 406.1 458.4 406.3 458.9C406.6 459.4 406.8 460.0 406.9 460.5C407.1 461.1 407.2 461.6 407.3 462.2C407.3 462.8 407.3 463.3 407.3 463.9Z" fill="#373737"/>
<path d="M406.57,463.90C406.5 464.4 406.4 465.0 406.3 465.5C406.1 466.0 405.9 466.5 405.7 467.0C405.5 467.5 405.2 468.0 404.9 468.4C404.6 468.9 404.3 469.3 403.9 469.7C403.6 470.0 403.2 470.4 402.8 470.7C402.4 471.1 402.0 471.4 401.6 471.6C401.2 471.9 400.8 472.2 400.4 472.4C400.0 472.6 399.6 472.8 399.2 473.0C398.8 473.2 398.4 473.4 398.0 473.5C397.6 473.7 397.2 473.8 396.8 473.9C396.4 474.1 396.0 474.2 395.6 474.2C395.2 474.3 394.8 474.4 394.4 474.5C394.1 474.6 393.7 474.6 393.3 474.7C392.9 474.7 392.5 474.7 392.1 474.8C391.8 474.8 391.4 474.8 391.0 474.8C390.6 474.8 390.2 474.8 389.9 474.8C389.5 474.8 389.1 474.7 388.7 474.7C388.3 474.7 387.9 474.6 387.5 474.5C387.1 474.5 386.8 474.4 386.4 474.3C386.0 474.2 385.6 474.1 385.2 474.0C384.7 473.9 384.3 473.8 383.9 473.6C383.5 473.5 383.1 473.3 382.7 473.1C382.3 473.0 381.8 472.8 381.4 472.5C381.0 472.3 380.6 472.0 380.2 471.8C379.8 471.5 379.3 471.2 379.0 470.9C378.6 470.5 378.2 470.2 377.8 469.8C377.4 469.4 377.1 469.0 376.8 468.5C376.5 468.1 376.2 467.6 375.9 467.1C375.7 466.6 375.5 466.1 375.3 465.5C375.2 465.0 375.1 464.5 375.0 463.9C375.0 463.3 375.0 462.8 375.1 462.2C375.1 461.7 375.2 461.1 375.4 460.6C375.6 460.1 375.8 459.5 376.0 459.0C376.3 458.5 376.6 458.1 376.9 457.6C377.2 457.2 377.6 456.8 378.0 456.4C378.4 456.0 378.8 455.6 379.2 455.3C379.6 455.0 380.0 454.7 380.4 454.4C380.9 454.1 381.3 453.9 381.8 453.6C382.2 453.4 382.6 453.2 383.1 453.0C383.5 452.8 384.0 452.7 384.4 452.5C384.9 452.4 385.3 452.2 385.8 452.1C386.2 452.0 386.6 451.9 387.1 451.9C387.5 451.8 388.0 451.7 388.4 451.7C388.8 451.6 389.3 451.6 389.7 451.6C390.1 451.5 390.6 451.5 391.0 451.5C391.4 451.5 391.9 451.5 392.3 451.6C392.7 451.6 393.2 451.6 393.6 451.7C394.0 451.8 394.5 451.8 394.9 451.9C395.3 452.0 395.8 452.1 396.2 452.2C396.6 452.3 397.1 452.5 397.5 452.6C397.9 452.8 398.4 452.9 398.8 453.1C399.3 453.3 399.7 453.5 400.1 453.8C400.6 454.0 401.0 454.3 401.4 454.5C401.8 454.8 402.2 455.1 402.6 455.4C403.0 455.8 403.4 456.1 403.8 456.5C404.1 456.9 404.5 457.3 404.8 457.8C405.1 458.2 405.4 458.7 405.6 459.1C405.9 459.6 406.1 460.1 406.2 460.7C406.4 461.2 406.5 461.7 406.6 462.3C406.6 462.8 406.6 463.4 406.6 463.9Z" fill="#272727"/>
<path d="M405.87,463.90C405.8 464.4 405.7 464.9 405.6 465.4C405.5 465.9 405.3 466.4 405.1 466.9C404.8 467.3 404.6 467.8 404.3 468.2C404.0 468.6 403.7 469.0 403.3 469.4C403.0 469.8 402.6 470.1 402.3 470.4C401.9 470.7 401.5 471.0 401.1 471.3C400.8 471.5 400.4 471.8 400.0 472.0C399.6 472.2 399.2 472.4 398.8 472.6C398.4 472.8 398.0 472.9 397.7 473.1C397.3 473.2 396.9 473.3 396.5 473.5C396.1 473.6 395.8 473.7 395.4 473.8C395.0 473.8 394.6 473.9 394.3 474.0C393.9 474.1 393.5 474.1 393.2 474.2C392.8 474.2 392.5 474.2 392.1 474.3C391.7 474.3 391.4 474.3 391.0 474.3C390.6 474.3 390.3 474.3 389.9 474.3C389.5 474.3 389.2 474.2 388.8 474.2C388.4 474.2 388.1 474.1 387.7 474.1C387.3 474.0 386.9 474.0 386.6 473.9C386.2 473.8 385.8 473.7 385.4 473.6C385.0 473.5 384.6 473.4 384.2 473.2C383.8 473.1 383.4 472.9 383.0 472.8C382.6 472.6 382.2 472.4 381.8 472.2C381.4 472.0 381.0 471.7 380.6 471.5C380.2 471.2 379.8 470.9 379.4 470.6C379.0 470.3 378.6 470.0 378.2 469.6C377.9 469.2 377.5 468.8 377.2 468.4C376.9 467.9 376.6 467.5 376.4 467.0C376.2 466.5 376.0 466.0 375.8 465.5C375.7 465.0 375.6 464.4 375.5 463.9C375.5 463.4 375.5 462.8 375.6 462.3C375.6 461.7 375.7 461.2 375.9 460.7C376.1 460.2 376.3 459.7 376.6 459.2C376.8 458.7 377.1 458.3 377.4 457.9C377.8 457.4 378.1 457.0 378.5 456.7C378.9 456.3 379.3 456.0 379.7 455.7C380.1 455.3 380.5 455.1 380.9 454.8C381.3 454.5 381.7 454.3 382.2 454.1C382.6 453.9 383.0 453.7 383.5 453.5C383.9 453.4 384.3 453.2 384.7 453.1C385.2 452.9 385.6 452.8 386.0 452.7C386.4 452.6 386.9 452.5 387.3 452.5C387.7 452.4 388.1 452.3 388.5 452.3C388.9 452.3 389.4 452.2 389.8 452.2C390.2 452.2 390.6 452.2 391.0 452.2C391.4 452.2 391.8 452.2 392.2 452.2C392.6 452.3 393.0 452.3 393.5 452.4C393.9 452.4 394.3 452.5 394.7 452.6C395.1 452.6 395.5 452.7 395.9 452.9C396.3 453.0 396.7 453.1 397.2 453.2C397.6 453.4 398.0 453.5 398.4 453.7C398.8 453.9 399.2 454.1 399.6 454.3C400.1 454.5 400.5 454.8 400.9 455.0C401.3 455.3 401.7 455.6 402.0 455.9C402.4 456.2 402.8 456.5 403.1 456.9C403.5 457.3 403.8 457.6 404.1 458.1C404.4 458.5 404.7 458.9 404.9 459.4C405.2 459.8 405.4 460.3 405.5 460.8C405.7 461.3 405.8 461.8 405.8 462.3C405.9 462.9 405.9 463.4 405.9 463.9Z" fill="#1a1a1a"/>
<path d="M405.18,463.90C405.1 464.4 405.1 464.9 404.9 465.4C404.8 465.8 404.6 466.3 404.4 466.7C404.2 467.2 403.9 467.6 403.7 468.0C403.4 468.4 403.1 468.8 402.8 469.1C402.4 469.5 402.1 469.8 401.7 470.1C401.4 470.4 401.0 470.7 400.7 470.9C400.3 471.2 399.9 471.4 399.6 471.6C399.2 471.8 398.8 472.0 398.4 472.2C398.1 472.3 397.7 472.5 397.3 472.6C397.0 472.8 396.6 472.9 396.2 473.0C395.9 473.1 395.5 473.2 395.2 473.3C394.8 473.4 394.5 473.4 394.1 473.5C393.8 473.6 393.4 473.6 393.1 473.6C392.7 473.7 392.4 473.7 392.0 473.7C391.7 473.8 391.3 473.8 391.0 473.8C390.7 473.8 390.3 473.8 390.0 473.8C389.6 473.8 389.3 473.8 388.9 473.7C388.6 473.7 388.2 473.7 387.8 473.6C387.5 473.6 387.1 473.5 386.8 473.4C386.4 473.4 386.0 473.3 385.6 473.2C385.3 473.1 384.9 473.0 384.5 472.8C384.1 472.7 383.7 472.6 383.3 472.4C382.9 472.2 382.6 472.1 382.2 471.9C381.8 471.7 381.4 471.4 381.0 471.2C380.6 470.9 380.2 470.7 379.8 470.4C379.4 470.1 379.0 469.7 378.7 469.4C378.3 469.0 378.0 468.6 377.7 468.2C377.4 467.8 377.1 467.4 376.9 466.9C376.6 466.4 376.4 465.9 376.3 465.4C376.2 464.9 376.1 464.4 376.0 463.9C376.0 463.4 376.0 462.8 376.1 462.3C376.1 461.8 376.3 461.3 376.4 460.8C376.6 460.3 376.8 459.8 377.1 459.4C377.3 458.9 377.6 458.5 378.0 458.1C378.3 457.7 378.6 457.3 379.0 457.0C379.4 456.6 379.8 456.3 380.1 456.0C380.5 455.7 381.0 455.5 381.4 455.2C381.8 455.0 382.2 454.8 382.6 454.6C383.0 454.4 383.4 454.2 383.8 454.0C384.2 453.9 384.7 453.7 385.1 453.6C385.5 453.5 385.9 453.4 386.3 453.3C386.7 453.2 387.1 453.1 387.5 453.1C387.9 453.0 388.3 453.0 388.7 452.9C389.1 452.9 389.5 452.9 389.8 452.9C390.2 452.8 390.6 452.8 391.0 452.8C391.4 452.9 391.8 452.9 392.2 452.9C392.5 452.9 392.9 453.0 393.3 453.0C393.7 453.1 394.1 453.1 394.5 453.2C394.9 453.3 395.2 453.4 395.6 453.5C396.0 453.6 396.4 453.7 396.8 453.8C397.2 454.0 397.6 454.1 398.0 454.3C398.4 454.4 398.8 454.6 399.2 454.8C399.6 455.0 399.9 455.3 400.3 455.5C400.7 455.8 401.1 456.0 401.4 456.3C401.8 456.6 402.2 456.9 402.5 457.3C402.8 457.6 403.2 458.0 403.5 458.4C403.7 458.7 404.0 459.2 404.2 459.6C404.5 460.0 404.7 460.5 404.8 461.0C405.0 461.4 405.1 461.9 405.1 462.4C405.2 462.9 405.2 463.4 405.2 463.9Z" fill="#0f0f0f"/>
<path d="M404.48,463.90C404.4 464.4 404.4 464.8 404.2 465.3C404.1 465.7 403.9 466.2 403.7 466.6C403.5 467.0 403.3 467.4 403.0 467.8C402.8 468.2 402.5 468.5 402.2 468.9C401.9 469.2 401.5 469.5 401.2 469.8C400.9 470.1 400.5 470.3 400.2 470.6C399.8 470.8 399.5 471.0 399.1 471.2C398.8 471.4 398.4 471.6 398.1 471.7C397.7 471.9 397.4 472.0 397.0 472.2C396.7 472.3 396.3 472.4 396.0 472.5C395.6 472.6 395.3 472.7 395.0 472.8C394.6 472.9 394.3 472.9 394.0 473.0C393.6 473.1 393.3 473.1 393.0 473.1C392.6 473.2 392.3 473.2 392.0 473.2C391.7 473.3 391.3 473.3 391.0 473.3C390.7 473.3 390.3 473.3 390.0 473.3C389.7 473.3 389.3 473.3 389.0 473.2C388.7 473.2 388.3 473.2 388.0 473.1C387.7 473.1 387.3 473.0 387.0 473.0C386.6 472.9 386.3 472.8 385.9 472.7C385.5 472.7 385.2 472.6 384.8 472.4C384.4 472.3 384.0 472.2 383.7 472.0C383.3 471.9 382.9 471.7 382.5 471.5C382.1 471.3 381.7 471.1 381.4 470.9C381.0 470.7 380.6 470.4 380.2 470.1C379.9 469.8 379.5 469.5 379.1 469.2C378.8 468.8 378.5 468.5 378.2 468.1C377.9 467.7 377.6 467.2 377.4 466.8C377.1 466.4 376.9 465.9 376.8 465.4C376.6 464.9 376.6 464.4 376.5 463.9C376.5 463.4 376.5 462.9 376.6 462.4C376.6 461.9 376.8 461.4 376.9 460.9C377.1 460.4 377.3 460.0 377.6 459.5C377.9 459.1 378.2 458.7 378.5 458.3C378.8 457.9 379.2 457.6 379.5 457.3C379.9 456.9 380.3 456.6 380.6 456.4C381.0 456.1 381.4 455.9 381.8 455.6C382.2 455.4 382.6 455.2 383.0 455.0C383.4 454.9 383.8 454.7 384.2 454.6C384.6 454.4 385.0 454.3 385.4 454.2C385.8 454.1 386.2 454.0 386.5 453.9C386.9 453.8 387.3 453.8 387.7 453.7C388.1 453.6 388.4 453.6 388.8 453.6C389.2 453.5 389.5 453.5 389.9 453.5C390.3 453.5 390.6 453.5 391.0 453.5C391.4 453.5 391.7 453.5 392.1 453.6C392.4 453.6 392.8 453.6 393.2 453.7C393.5 453.7 393.9 453.8 394.3 453.9C394.6 453.9 395.0 454.0 395.4 454.1C395.7 454.2 396.1 454.3 396.5 454.4C396.8 454.6 397.2 454.7 397.6 454.9C397.9 455.0 398.3 455.2 398.7 455.4C399.1 455.6 399.4 455.8 399.8 456.0C400.1 456.2 400.5 456.5 400.9 456.7C401.2 457.0 401.5 457.3 401.9 457.6C402.2 457.9 402.5 458.3 402.8 458.7C403.1 459.0 403.3 459.4 403.6 459.8C403.8 460.2 404.0 460.7 404.1 461.1C404.3 461.6 404.4 462.0 404.4 462.5C404.5 463.0 404.5 463.4 404.5 463.9Z" fill="#555555" stroke="#d0d0d0" stroke-width="0.9"/>
<path d="M403.89,463.90C403.9 464.3 403.8 464.8 403.7 465.2C403.6 465.7 403.4 466.1 403.2 466.5C403.0 466.9 402.8 467.3 402.5 467.7C402.3 468.0 402.0 468.4 401.7 468.7C401.4 469.0 401.1 469.3 400.8 469.6C400.5 469.8 400.1 470.1 399.8 470.3C399.5 470.5 399.1 470.7 398.8 470.9C398.5 471.1 398.1 471.3 397.8 471.4C397.5 471.6 397.1 471.7 396.8 471.9C396.4 472.0 396.1 472.1 395.8 472.2C395.5 472.3 395.1 472.4 394.8 472.5C394.5 472.5 394.2 472.6 393.8 472.7C393.5 472.7 393.2 472.8 392.9 472.8C392.6 472.8 392.3 472.9 391.9 472.9C391.6 472.9 391.3 472.9 391.0 472.9C390.7 472.9 390.4 472.9 390.1 472.9C389.7 472.9 389.4 472.9 389.1 472.9C388.8 472.9 388.4 472.8 388.1 472.8C387.8 472.7 387.5 472.7 387.1 472.6C386.8 472.5 386.4 472.5 386.1 472.4C385.8 472.3 385.4 472.2 385.1 472.1C384.7 472.0 384.3 471.8 384.0 471.7C383.6 471.5 383.3 471.4 382.9 471.2C382.5 471.0 382.2 470.8 381.8 470.6C381.4 470.4 381.1 470.1 380.7 469.8C380.4 469.5 380.0 469.2 379.7 468.9C379.4 468.6 379.1 468.2 378.8 467.9C378.5 467.5 378.3 467.1 378.1 466.6C377.9 466.2 377.7 465.8 377.6 465.3C377.4 464.9 377.3 464.4 377.3 463.9C377.3 463.4 377.3 462.9 377.4 462.5C377.5 462.0 377.6 461.5 377.7 461.1C377.9 460.6 378.1 460.2 378.4 459.8C378.6 459.4 378.9 459.0 379.2 458.6C379.5 458.3 379.8 458.0 380.2 457.6C380.5 457.3 380.9 457.1 381.2 456.8C381.6 456.5 382.0 456.3 382.3 456.1C382.7 455.9 383.1 455.7 383.5 455.5C383.8 455.4 384.2 455.2 384.6 455.1C385.0 454.9 385.3 454.8 385.7 454.7C386.1 454.6 386.4 454.5 386.8 454.5C387.2 454.4 387.5 454.3 387.9 454.3C388.2 454.2 388.6 454.2 388.9 454.1C389.3 454.1 389.6 454.1 390.0 454.1C390.3 454.1 390.7 454.1 391.0 454.1C391.3 454.1 391.7 454.1 392.0 454.1C392.4 454.1 392.7 454.2 393.1 454.2C393.4 454.3 393.7 454.3 394.1 454.4C394.4 454.5 394.8 454.5 395.1 454.6C395.5 454.7 395.8 454.8 396.2 454.9C396.5 455.0 396.9 455.2 397.2 455.3C397.6 455.5 397.9 455.6 398.3 455.8C398.6 456.0 399.0 456.2 399.3 456.4C399.7 456.6 400.0 456.8 400.4 457.1C400.7 457.4 401.0 457.6 401.3 457.9C401.6 458.2 401.9 458.6 402.2 458.9C402.5 459.3 402.7 459.6 403.0 460.0C403.2 460.4 403.4 460.8 403.5 461.2C403.7 461.7 403.8 462.1 403.8 462.6C403.9 463.0 403.9 463.5 403.9 463.9Z" fill="#373737"/>
<path d="M403.29,463.90C403.3 464.3 403.2 464.8 403.1 465.2C403.0 465.6 402.9 466.0 402.7 466.4C402.5 466.8 402.3 467.1 402.1 467.5C401.8 467.8 401.6 468.2 401.3 468.5C401.0 468.8 400.7 469.1 400.4 469.3C400.1 469.6 399.8 469.8 399.5 470.1C399.1 470.3 398.8 470.5 398.5 470.7C398.2 470.8 397.8 471.0 397.5 471.1C397.2 471.3 396.9 471.4 396.6 471.6C396.2 471.7 395.9 471.8 395.6 471.9C395.3 472.0 395.0 472.1 394.7 472.1C394.4 472.2 394.0 472.3 393.7 472.3C393.4 472.4 393.1 472.4 392.8 472.5C392.5 472.5 392.2 472.5 391.9 472.5C391.6 472.6 391.3 472.6 391.0 472.6C390.7 472.6 390.4 472.6 390.1 472.6C389.8 472.6 389.5 472.5 389.2 472.5C388.9 472.5 388.6 472.4 388.2 472.4C387.9 472.4 387.6 472.3 387.3 472.2C387.0 472.2 386.6 472.1 386.3 472.0C386.0 471.9 385.7 471.8 385.3 471.7C385.0 471.6 384.6 471.5 384.3 471.3C384.0 471.2 383.6 471.0 383.3 470.9C382.9 470.7 382.6 470.5 382.3 470.3C381.9 470.0 381.6 469.8 381.3 469.5C380.9 469.3 380.6 469.0 380.3 468.7C380.0 468.3 379.7 468.0 379.5 467.6C379.2 467.3 379.0 466.9 378.8 466.5C378.6 466.1 378.4 465.7 378.3 465.2C378.2 464.8 378.1 464.3 378.1 463.9C378.1 463.5 378.1 463.0 378.2 462.6C378.3 462.1 378.4 461.7 378.5 461.3C378.7 460.8 378.9 460.4 379.1 460.0C379.4 459.7 379.6 459.3 379.9 459.0C380.2 458.6 380.5 458.3 380.8 458.0C381.1 457.7 381.5 457.5 381.8 457.2C382.2 457.0 382.5 456.8 382.9 456.6C383.2 456.4 383.6 456.2 383.9 456.0C384.3 455.9 384.6 455.7 385.0 455.6C385.3 455.5 385.7 455.4 386.0 455.3C386.4 455.2 386.7 455.1 387.0 455.0C387.4 454.9 387.7 454.9 388.1 454.8C388.4 454.8 388.7 454.7 389.0 454.7C389.4 454.7 389.7 454.6 390.0 454.6C390.4 454.6 390.7 454.6 391.0 454.6C391.3 454.6 391.6 454.6 392.0 454.7C392.3 454.7 392.6 454.7 392.9 454.8C393.3 454.8 393.6 454.9 393.9 454.9C394.2 455.0 394.6 455.1 394.9 455.1C395.2 455.2 395.6 455.3 395.9 455.4C396.2 455.5 396.6 455.6 396.9 455.8C397.2 455.9 397.6 456.1 397.9 456.2C398.2 456.4 398.6 456.6 398.9 456.8C399.2 457.0 399.6 457.2 399.9 457.4C400.2 457.7 400.5 458.0 400.8 458.2C401.1 458.5 401.4 458.8 401.6 459.2C401.9 459.5 402.2 459.8 402.4 460.2C402.6 460.6 402.8 461.0 402.9 461.4C403.0 461.8 403.2 462.2 403.2 462.6C403.3 463.0 403.3 463.5 403.3 463.9Z" fill="#272727"/>
<path d="M402.69,463.90C402.7 464.3 402.6 464.7 402.5 465.1C402.4 465.5 402.3 465.9 402.1 466.3C402.0 466.6 401.8 467.0 401.6 467.3C401.3 467.7 401.1 468.0 400.8 468.3C400.6 468.6 400.3 468.8 400.0 469.1C399.7 469.4 399.4 469.6 399.1 469.8C398.8 470.0 398.5 470.2 398.2 470.4C397.9 470.6 397.6 470.7 397.3 470.9C397.0 471.0 396.6 471.1 396.3 471.2C396.0 471.4 395.7 471.5 395.4 471.6C395.1 471.6 394.8 471.7 394.5 471.8C394.2 471.9 393.9 471.9 393.6 472.0C393.3 472.0 393.0 472.1 392.7 472.1C392.5 472.1 392.2 472.2 391.9 472.2C391.6 472.2 391.3 472.2 391.0 472.2C390.7 472.2 390.4 472.2 390.1 472.2C389.8 472.2 389.5 472.2 389.2 472.1C389.0 472.1 388.7 472.1 388.4 472.0C388.1 472.0 387.8 471.9 387.5 471.9C387.1 471.8 386.8 471.7 386.5 471.6C386.2 471.6 385.9 471.5 385.6 471.4C385.3 471.2 384.9 471.1 384.6 471.0C384.3 470.8 384.0 470.7 383.7 470.5C383.3 470.3 383.0 470.1 382.7 469.9C382.4 469.7 382.1 469.5 381.8 469.2C381.5 469.0 381.2 468.7 380.9 468.4C380.6 468.1 380.3 467.8 380.1 467.4C379.9 467.1 379.7 466.7 379.5 466.3C379.3 466.0 379.2 465.6 379.1 465.2C379.0 464.7 378.9 464.3 378.9 463.9C378.9 463.5 378.9 463.1 379.0 462.6C379.1 462.2 379.2 461.8 379.3 461.4C379.5 461.0 379.7 460.6 379.9 460.3C380.1 459.9 380.4 459.6 380.6 459.3C380.9 459.0 381.2 458.7 381.5 458.4C381.8 458.1 382.1 457.9 382.4 457.7C382.7 457.4 383.1 457.2 383.4 457.0C383.7 456.9 384.0 456.7 384.4 456.5C384.7 456.4 385.0 456.2 385.4 456.1C385.7 456.0 386.0 455.9 386.3 455.8C386.6 455.7 387.0 455.6 387.3 455.6C387.6 455.5 387.9 455.4 388.2 455.4C388.5 455.3 388.9 455.3 389.2 455.3C389.5 455.2 389.8 455.2 390.1 455.2C390.4 455.2 390.7 455.2 391.0 455.2C391.3 455.2 391.6 455.2 391.9 455.2C392.2 455.2 392.5 455.3 392.8 455.3C393.1 455.3 393.4 455.4 393.7 455.4C394.1 455.5 394.4 455.6 394.7 455.6C395.0 455.7 395.3 455.8 395.6 455.9C395.9 456.0 396.2 456.1 396.6 456.2C396.9 456.4 397.2 456.5 397.5 456.7C397.8 456.8 398.1 457.0 398.5 457.2C398.8 457.4 399.1 457.6 399.4 457.8C399.7 458.0 400.0 458.3 400.3 458.5C400.6 458.8 400.8 459.1 401.1 459.4C401.3 459.7 401.6 460.1 401.8 460.4C402.0 460.7 402.2 461.1 402.3 461.5C402.4 461.9 402.5 462.3 402.6 462.7C402.7 463.1 402.7 463.5 402.7 463.9Z" fill="#1a1a1a"/>
<path d="M402.10,463.90C402.1 464.3 402.0 464.7 402.0 465.1C401.9 465.4 401.8 465.8 401.6 466.2C401.5 466.5 401.3 466.9 401.1 467.2C400.9 467.5 400.6 467.8 400.4 468.1C400.1 468.4 399.9 468.6 399.6 468.9C399.3 469.1 399.0 469.3 398.8 469.5C398.5 469.7 398.2 469.9 397.9 470.1C397.6 470.3 397.3 470.4 397.0 470.6C396.7 470.7 396.4 470.8 396.1 470.9C395.8 471.0 395.5 471.1 395.2 471.2C394.9 471.3 394.7 471.4 394.4 471.5C394.1 471.5 393.8 471.6 393.5 471.6C393.2 471.7 393.0 471.7 392.7 471.8C392.4 471.8 392.1 471.8 391.8 471.8C391.6 471.8 391.3 471.9 391.0 471.9C390.7 471.9 390.4 471.9 390.2 471.8C389.9 471.8 389.6 471.8 389.3 471.8C389.0 471.7 388.8 471.7 388.5 471.7C388.2 471.6 387.9 471.6 387.6 471.5C387.3 471.4 387.0 471.4 386.7 471.3C386.4 471.2 386.1 471.1 385.8 471.0C385.6 470.9 385.2 470.8 384.9 470.6C384.6 470.5 384.3 470.3 384.0 470.2C383.7 470.0 383.4 469.8 383.1 469.6C382.9 469.4 382.6 469.2 382.3 468.9C382.0 468.7 381.7 468.4 381.5 468.1C381.2 467.9 381.0 467.5 380.8 467.2C380.6 466.9 380.4 466.6 380.2 466.2C380.1 465.8 379.9 465.5 379.8 465.1C379.8 464.7 379.7 464.3 379.7 463.9C379.7 463.5 379.7 463.1 379.8 462.7C379.9 462.3 380.0 462.0 380.1 461.6C380.3 461.2 380.5 460.9 380.7 460.5C380.9 460.2 381.1 459.9 381.3 459.6C381.6 459.3 381.9 459.0 382.1 458.8C382.4 458.5 382.7 458.3 383.0 458.1C383.3 457.9 383.6 457.7 383.9 457.5C384.2 457.3 384.5 457.2 384.8 457.0C385.1 456.9 385.4 456.8 385.7 456.6C386.0 456.5 386.3 456.4 386.6 456.3C386.9 456.3 387.2 456.2 387.5 456.1C387.8 456.0 388.1 456.0 388.4 455.9C388.7 455.9 389.0 455.9 389.3 455.8C389.6 455.8 389.9 455.8 390.1 455.8C390.4 455.7 390.7 455.7 391.0 455.7C391.3 455.7 391.6 455.8 391.9 455.8C392.1 455.8 392.4 455.8 392.7 455.8C393.0 455.9 393.3 455.9 393.6 456.0C393.9 456.0 394.2 456.1 394.4 456.2C394.7 456.2 395.0 456.3 395.3 456.4C395.6 456.5 395.9 456.6 396.2 456.7C396.5 456.8 396.8 457.0 397.1 457.1C397.4 457.2 397.7 457.4 398.0 457.6C398.3 457.8 398.6 457.9 398.9 458.2C399.2 458.4 399.5 458.6 399.7 458.9C400.0 459.1 400.3 459.4 400.5 459.7C400.8 460.0 401.0 460.3 401.2 460.6C401.4 460.9 401.5 461.3 401.7 461.6C401.8 462.0 401.9 462.4 402.0 462.7C402.1 463.1 402.1 463.5 402.1 463.9Z" fill="#0f0f0f"/>
<path d="M401.50,463.90C401.5 464.3 401.5 464.6 401.4 465.0C401.3 465.3 401.2 465.7 401.1 466.0C400.9 466.4 400.8 466.7 400.6 467.0C400.4 467.3 400.2 467.6 399.9 467.9C399.7 468.2 399.5 468.4 399.2 468.6C399.0 468.9 398.7 469.1 398.4 469.3C398.1 469.5 397.9 469.7 397.6 469.8C397.3 470.0 397.0 470.1 396.7 470.3C396.5 470.4 396.2 470.5 395.9 470.6C395.6 470.7 395.3 470.8 395.0 470.9C394.8 471.0 394.5 471.1 394.2 471.1C393.9 471.2 393.7 471.3 393.4 471.3C393.1 471.3 392.9 471.4 392.6 471.4C392.3 471.4 392.1 471.5 391.8 471.5C391.5 471.5 391.3 471.5 391.0 471.5C390.7 471.5 390.5 471.5 390.2 471.5C389.9 471.5 389.7 471.4 389.4 471.4C389.1 471.4 388.9 471.3 388.6 471.3C388.3 471.3 388.1 471.2 387.8 471.1C387.5 471.1 387.2 471.0 387.0 470.9C386.7 470.8 386.4 470.7 386.1 470.6C385.8 470.5 385.5 470.4 385.3 470.3C385.0 470.1 384.7 470.0 384.4 469.8C384.1 469.7 383.9 469.5 383.6 469.3C383.3 469.1 383.0 468.9 382.8 468.6C382.5 468.4 382.3 468.2 382.1 467.9C381.8 467.6 381.6 467.3 381.4 467.0C381.2 466.7 381.1 466.4 380.9 466.0C380.8 465.7 380.7 465.3 380.6 465.0C380.5 464.6 380.5 464.3 380.5 463.9C380.5 463.5 380.5 463.2 380.6 462.8C380.7 462.5 380.8 462.1 380.9 461.8C381.1 461.4 381.2 461.1 381.4 460.8C381.6 460.5 381.8 460.2 382.1 459.9C382.3 459.6 382.5 459.4 382.8 459.2C383.0 458.9 383.3 458.7 383.6 458.5C383.9 458.3 384.1 458.1 384.4 458.0C384.7 457.8 385.0 457.7 385.3 457.5C385.5 457.4 385.8 457.3 386.1 457.2C386.4 457.1 386.7 457.0 387.0 456.9C387.2 456.8 387.5 456.7 387.8 456.7C388.1 456.6 388.3 456.5 388.6 456.5C388.9 456.5 389.1 456.4 389.4 456.4C389.7 456.4 389.9 456.3 390.2 456.3C390.5 456.3 390.7 456.3 391.0 456.3C391.3 456.3 391.5 456.3 391.8 456.3C392.1 456.3 392.3 456.4 392.6 456.4C392.9 456.4 393.1 456.5 393.4 456.5C393.7 456.5 393.9 456.6 394.2 456.7C394.5 456.7 394.8 456.8 395.0 456.9C395.3 457.0 395.6 457.1 395.9 457.2C396.2 457.3 396.5 457.4 396.7 457.5C397.0 457.7 397.3 457.8 397.6 458.0C397.9 458.1 398.1 458.3 398.4 458.5C398.7 458.7 399.0 458.9 399.2 459.2C399.5 459.4 399.7 459.6 399.9 459.9C400.2 460.2 400.4 460.5 400.6 460.8C400.8 461.1 400.9 461.4 401.1 461.8C401.2 462.1 401.3 462.5 401.4 462.8C401.5 463.2 401.5 463.5 401.5 463.9Z" fill="#555555" stroke="#d0d0d0" stroke-width="0.9"/>
<path d="M400.82,463.90C400.8 464.2 400.8 464.6 400.7 464.9C400.7 465.3 400.6 465.6 400.4 465.9C400.3 466.2 400.1 466.5 400.0 466.8C399.8 467.1 399.6 467.4 399.4 467.6C399.2 467.9 398.9 468.1 398.7 468.4C398.5 468.6 398.2 468.8 398.0 469.0C397.7 469.2 397.5 469.3 397.2 469.5C396.9 469.6 396.7 469.8 396.4 469.9C396.1 470.0 395.9 470.1 395.6 470.3C395.3 470.4 395.1 470.4 394.8 470.5C394.6 470.6 394.3 470.7 394.0 470.7C393.8 470.8 393.5 470.8 393.3 470.9C393.0 470.9 392.8 471.0 392.5 471.0C392.3 471.0 392.0 471.0 391.8 471.1C391.5 471.1 391.3 471.1 391.0 471.1C390.7 471.1 390.5 471.1 390.2 471.1C390.0 471.0 389.7 471.0 389.5 471.0C389.2 471.0 389.0 470.9 388.7 470.9C388.5 470.8 388.2 470.8 388.0 470.7C387.7 470.6 387.5 470.6 387.2 470.5C386.9 470.4 386.7 470.3 386.4 470.2C386.2 470.1 385.9 470.0 385.6 469.9C385.4 469.7 385.1 469.6 384.9 469.4C384.6 469.3 384.3 469.1 384.1 468.9C383.8 468.7 383.6 468.5 383.4 468.3C383.1 468.1 382.9 467.8 382.7 467.6C382.5 467.3 382.3 467.1 382.1 466.8C382.0 466.5 381.8 466.2 381.7 465.9C381.6 465.6 381.5 465.2 381.4 464.9C381.3 464.6 381.3 464.2 381.3 463.9C381.3 463.6 381.3 463.2 381.4 462.9C381.5 462.6 381.6 462.2 381.7 461.9C381.8 461.6 382.0 461.3 382.1 461.0C382.3 460.7 382.5 460.5 382.7 460.2C382.9 460.0 383.1 459.7 383.4 459.5C383.6 459.3 383.8 459.1 384.1 458.9C384.3 458.7 384.6 458.5 384.9 458.4C385.1 458.2 385.4 458.1 385.6 457.9C385.9 457.8 386.2 457.7 386.4 457.6C386.7 457.5 386.9 457.4 387.2 457.3C387.5 457.2 387.7 457.2 388.0 457.1C388.2 457.0 388.5 457.0 388.7 456.9C389.0 456.9 389.2 456.8 389.5 456.8C389.7 456.8 390.0 456.8 390.2 456.7C390.5 456.7 390.7 456.7 391.0 456.7C391.3 456.7 391.5 456.7 391.8 456.7C392.0 456.8 392.3 456.8 392.5 456.8C392.8 456.8 393.0 456.9 393.3 456.9C393.5 457.0 393.8 457.0 394.0 457.1C394.3 457.1 394.6 457.2 394.8 457.3C395.1 457.4 395.3 457.4 395.6 457.5C395.9 457.7 396.1 457.8 396.4 457.9C396.7 458.0 396.9 458.2 397.2 458.3C397.5 458.5 397.7 458.6 398.0 458.8C398.2 459.0 398.5 459.2 398.7 459.4C398.9 459.7 399.2 459.9 399.4 460.2C399.6 460.4 399.8 460.7 400.0 461.0C400.1 461.3 400.3 461.6 400.4 461.9C400.6 462.2 400.7 462.5 400.7 462.9C400.8 463.2 400.8 463.6 400.8 463.9Z" fill="#373737"/>
<path d="M400.14,463.90C400.1 464.2 400.1 464.5 400.0 464.9C400.0 465.2 399.9 465.5 399.8 465.8C399.7 466.1 399.5 466.4 399.4 466.6C399.2 466.9 399.0 467.1 398.8 467.4C398.6 467.6 398.4 467.9 398.2 468.1C398.0 468.3 397.8 468.5 397.5 468.6C397.3 468.8 397.1 469.0 396.8 469.1C396.6 469.3 396.3 469.4 396.1 469.5C395.8 469.7 395.6 469.8 395.3 469.9C395.1 470.0 394.8 470.1 394.6 470.1C394.4 470.2 394.1 470.3 393.9 470.3C393.6 470.4 393.4 470.4 393.1 470.5C392.9 470.5 392.7 470.6 392.4 470.6C392.2 470.6 391.9 470.6 391.7 470.6C391.5 470.7 391.2 470.7 391.0 470.7C390.8 470.7 390.5 470.6 390.3 470.6C390.1 470.6 389.8 470.6 389.6 470.6C389.3 470.5 389.1 470.5 388.9 470.4C388.6 470.4 388.4 470.3 388.2 470.3C387.9 470.2 387.7 470.1 387.4 470.1C387.2 470.0 387.0 469.9 386.7 469.8C386.5 469.7 386.2 469.6 386.0 469.5C385.8 469.3 385.5 469.2 385.3 469.0C385.1 468.9 384.8 468.7 384.6 468.6C384.4 468.4 384.2 468.2 383.9 468.0C383.7 467.8 383.5 467.5 383.3 467.3C383.2 467.1 383.0 466.8 382.8 466.6C382.7 466.3 382.5 466.0 382.4 465.7C382.3 465.4 382.2 465.1 382.2 464.8C382.1 464.5 382.1 464.2 382.1 463.9C382.1 463.6 382.1 463.3 382.2 463.0C382.2 462.7 382.3 462.4 382.4 462.1C382.5 461.8 382.7 461.5 382.8 461.2C383.0 461.0 383.2 460.7 383.3 460.5C383.5 460.3 383.7 460.0 383.9 459.8C384.2 459.6 384.4 459.4 384.6 459.2C384.8 459.1 385.1 458.9 385.3 458.8C385.5 458.6 385.8 458.5 386.0 458.3C386.2 458.2 386.5 458.1 386.7 458.0C387.0 457.9 387.2 457.8 387.4 457.7C387.7 457.7 387.9 457.6 388.2 457.5C388.4 457.5 388.6 457.4 388.9 457.4C389.1 457.3 389.3 457.3 389.6 457.2C389.8 457.2 390.1 457.2 390.3 457.2C390.5 457.2 390.8 457.1 391.0 457.1C391.2 457.1 391.5 457.1 391.7 457.2C391.9 457.2 392.2 457.2 392.4 457.2C392.7 457.2 392.9 457.3 393.1 457.3C393.4 457.4 393.6 457.4 393.9 457.5C394.1 457.5 394.4 457.6 394.6 457.7C394.8 457.7 395.1 457.8 395.3 457.9C395.6 458.0 395.8 458.1 396.1 458.3C396.3 458.4 396.6 458.5 396.8 458.7C397.1 458.8 397.3 459.0 397.5 459.2C397.8 459.3 398.0 459.5 398.2 459.7C398.4 459.9 398.6 460.2 398.8 460.4C399.0 460.7 399.2 460.9 399.4 461.2C399.5 461.4 399.7 461.7 399.8 462.0C399.9 462.3 400.0 462.6 400.0 462.9C400.1 463.3 400.1 463.6 400.1 463.9Z" fill="#272727"/>
<path d="M399.46,463.90C399.5 464.2 399.4 464.5 399.4 464.8C399.3 465.1 399.2 465.4 399.1 465.6C399.0 465.9 398.9 466.2 398.8 466.4C398.6 466.7 398.5 466.9 398.3 467.1C398.1 467.4 397.9 467.6 397.7 467.8C397.5 468.0 397.3 468.2 397.1 468.3C396.9 468.5 396.7 468.7 396.4 468.8C396.2 468.9 396.0 469.1 395.8 469.2C395.5 469.3 395.3 469.4 395.1 469.5C394.8 469.6 394.6 469.7 394.4 469.7C394.1 469.8 393.9 469.9 393.7 469.9C393.5 470.0 393.2 470.0 393.0 470.1C392.8 470.1 392.6 470.2 392.3 470.2C392.1 470.2 391.9 470.2 391.7 470.2C391.4 470.2 391.2 470.2 391.0 470.2C390.8 470.2 390.6 470.2 390.3 470.2C390.1 470.2 389.9 470.2 389.7 470.1C389.5 470.1 389.2 470.1 389.0 470.0C388.8 470.0 388.6 469.9 388.4 469.8C388.1 469.8 387.9 469.7 387.7 469.6C387.5 469.6 387.2 469.5 387.0 469.4C386.8 469.3 386.6 469.2 386.4 469.0C386.2 468.9 385.9 468.8 385.7 468.7C385.5 468.5 385.3 468.4 385.1 468.2C384.9 468.0 384.7 467.8 384.5 467.6C384.3 467.4 384.2 467.2 384.0 467.0C383.8 466.8 383.7 466.6 383.5 466.3C383.4 466.1 383.3 465.8 383.2 465.6C383.1 465.3 383.0 465.0 383.0 464.7C382.9 464.5 382.9 464.2 382.9 463.9C382.9 463.6 382.9 463.3 383.0 463.1C383.0 462.8 383.1 462.5 383.2 462.2C383.3 462.0 383.4 461.7 383.5 461.5C383.7 461.2 383.8 461.0 384.0 460.8C384.2 460.6 384.3 460.4 384.5 460.2C384.7 460.0 384.9 459.8 385.1 459.6C385.3 459.4 385.5 459.3 385.7 459.1C385.9 459.0 386.2 458.9 386.4 458.8C386.6 458.6 386.8 458.5 387.0 458.4C387.2 458.3 387.5 458.2 387.7 458.2C387.9 458.1 388.1 458.0 388.4 458.0C388.6 457.9 388.8 457.8 389.0 457.8C389.2 457.7 389.5 457.7 389.7 457.7C389.9 457.6 390.1 457.6 390.3 457.6C390.6 457.6 390.8 457.6 391.0 457.6C391.2 457.6 391.4 457.6 391.7 457.6C391.9 457.6 392.1 457.6 392.3 457.6C392.6 457.6 392.8 457.7 393.0 457.7C393.2 457.8 393.5 457.8 393.7 457.9C393.9 457.9 394.1 458.0 394.4 458.1C394.6 458.1 394.8 458.2 395.1 458.3C395.3 458.4 395.5 458.5 395.8 458.6C396.0 458.7 396.2 458.9 396.4 459.0C396.7 459.1 396.9 459.3 397.1 459.5C397.3 459.6 397.5 459.8 397.7 460.0C397.9 460.2 398.1 460.4 398.3 460.7C398.5 460.9 398.6 461.1 398.8 461.4C398.9 461.6 399.0 461.9 399.1 462.2C399.2 462.4 399.3 462.7 399.4 463.0C399.4 463.3 399.5 463.6 399.5 463.9Z" fill="#1a1a1a"/>
<path d="M398.78,463.90C398.8 464.2 398.8 464.4 398.7 464.7C398.7 465.0 398.6 465.2 398.5 465.5C398.4 465.7 398.3 466.0 398.2 466.2C398.0 466.5 397.9 466.7 397.7 466.9C397.6 467.1 397.4 467.3 397.2 467.5C397.0 467.7 396.9 467.9 396.7 468.0C396.5 468.2 396.3 468.3 396.1 468.5C395.9 468.6 395.6 468.7 395.4 468.8C395.2 468.9 395.0 469.0 394.8 469.1C394.6 469.2 394.4 469.3 394.2 469.4C393.9 469.4 393.7 469.5 393.5 469.5C393.3 469.6 393.1 469.6 392.9 469.7C392.7 469.7 392.5 469.7 392.2 469.8C392.0 469.8 391.8 469.8 391.6 469.8C391.4 469.8 391.2 469.8 391.0 469.8C390.8 469.8 390.6 469.8 390.4 469.8C390.2 469.8 390.0 469.7 389.8 469.7C389.6 469.7 389.4 469.6 389.2 469.6C388.9 469.5 388.7 469.5 388.5 469.4C388.3 469.4 388.1 469.3 387.9 469.2C387.7 469.1 387.5 469.0 387.3 469.0C387.1 468.9 386.9 468.8 386.7 468.6C386.5 468.5 386.3 468.4 386.2 468.3C386.0 468.1 385.8 468.0 385.6 467.8C385.4 467.7 385.3 467.5 385.1 467.3C384.9 467.1 384.8 466.9 384.6 466.7C384.5 466.5 384.4 466.3 384.2 466.1C384.1 465.9 384.0 465.6 383.9 465.4C383.9 465.2 383.8 464.9 383.8 464.7C383.7 464.4 383.7 464.2 383.7 463.9C383.7 463.6 383.7 463.4 383.8 463.1C383.8 462.9 383.9 462.6 383.9 462.4C384.0 462.2 384.1 461.9 384.2 461.7C384.4 461.5 384.5 461.3 384.6 461.1C384.8 460.9 384.9 460.7 385.1 460.5C385.3 460.3 385.4 460.1 385.6 460.0C385.8 459.8 386.0 459.7 386.2 459.5C386.3 459.4 386.5 459.3 386.7 459.2C386.9 459.0 387.1 458.9 387.3 458.8C387.5 458.8 387.7 458.7 387.9 458.6C388.1 458.5 388.3 458.4 388.5 458.4C388.7 458.3 388.9 458.3 389.2 458.2C389.4 458.2 389.6 458.1 389.8 458.1C390.0 458.1 390.2 458.0 390.4 458.0C390.6 458.0 390.8 458.0 391.0 458.0C391.2 458.0 391.4 458.0 391.6 458.0C391.8 458.0 392.0 458.0 392.2 458.0C392.5 458.1 392.7 458.1 392.9 458.1C393.1 458.2 393.3 458.2 393.5 458.3C393.7 458.3 393.9 458.4 394.2 458.4C394.4 458.5 394.6 458.6 394.8 458.7C395.0 458.8 395.2 458.9 395.4 459.0C395.6 459.1 395.9 459.2 396.1 459.3C396.3 459.5 396.5 459.6 396.7 459.8C396.9 459.9 397.0 460.1 397.2 460.3C397.4 460.5 397.6 460.7 397.7 460.9C397.9 461.1 398.0 461.3 398.2 461.6C398.3 461.8 398.4 462.1 398.5 462.3C398.6 462.6 398.7 462.8 398.7 463.1C398.8 463.4 398.8 463.6 398.8 463.9Z" fill="#0f0f0f"/>
<path d="M398.10,463.90C398.1 464.1 398.1 464.4 398.0 464.6C398.0 464.9 397.9 465.1 397.9 465.4C397.8 465.6 397.7 465.8 397.6 466.0C397.5 466.2 397.3 466.5 397.2 466.7C397.0 466.9 396.9 467.0 396.7 467.2C396.6 467.4 396.4 467.5 396.2 467.7C396.0 467.8 395.9 468.0 395.7 468.1C395.5 468.2 395.3 468.4 395.1 468.5C394.9 468.6 394.7 468.7 394.5 468.7C394.3 468.8 394.1 468.9 393.9 469.0C393.7 469.0 393.5 469.1 393.3 469.1C393.1 469.2 392.9 469.2 392.7 469.3C392.6 469.3 392.4 469.3 392.2 469.4C392.0 469.4 391.8 469.4 391.6 469.4C391.4 469.4 391.2 469.4 391.0 469.4C390.8 469.4 390.6 469.4 390.4 469.4C390.2 469.3 390.0 469.3 389.9 469.3C389.7 469.2 389.5 469.2 389.3 469.2C389.1 469.1 388.9 469.1 388.7 469.0C388.5 468.9 388.4 468.9 388.2 468.8C388.0 468.7 387.8 468.6 387.6 468.5C387.5 468.4 387.3 468.3 387.1 468.2C386.9 468.1 386.8 468.0 386.6 467.9C386.4 467.7 386.3 467.6 386.1 467.5C386.0 467.3 385.8 467.1 385.7 467.0C385.5 466.8 385.4 466.6 385.3 466.4C385.2 466.3 385.0 466.1 384.9 465.9C384.9 465.7 384.8 465.5 384.7 465.2C384.6 465.0 384.6 464.8 384.6 464.6C384.5 464.4 384.5 464.1 384.5 463.9C384.5 463.7 384.5 463.4 384.6 463.2C384.6 463.0 384.6 462.8 384.7 462.6C384.8 462.3 384.9 462.1 384.9 461.9C385.0 461.7 385.2 461.5 385.3 461.4C385.4 461.2 385.5 461.0 385.7 460.8C385.8 460.7 386.0 460.5 386.1 460.3C386.3 460.2 386.4 460.1 386.6 459.9C386.8 459.8 386.9 459.7 387.1 459.6C387.3 459.5 387.5 459.4 387.6 459.3C387.8 459.2 388.0 459.1 388.2 459.0C388.4 458.9 388.5 458.9 388.7 458.8C388.9 458.7 389.1 458.7 389.3 458.6C389.5 458.6 389.7 458.6 389.9 458.5C390.0 458.5 390.2 458.5 390.4 458.4C390.6 458.4 390.8 458.4 391.0 458.4C391.2 458.4 391.4 458.4 391.6 458.4C391.8 458.4 392.0 458.4 392.2 458.4C392.4 458.5 392.6 458.5 392.7 458.5C392.9 458.6 393.1 458.6 393.3 458.7C393.5 458.7 393.7 458.8 393.9 458.8C394.1 458.9 394.3 459.0 394.5 459.1C394.7 459.1 394.9 459.2 395.1 459.3C395.3 459.4 395.5 459.6 395.7 459.7C395.9 459.8 396.0 460.0 396.2 460.1C396.4 460.3 396.6 460.4 396.7 460.6C396.9 460.8 397.0 460.9 397.2 461.1C397.3 461.3 397.5 461.6 397.6 461.8C397.7 462.0 397.8 462.2 397.9 462.4C397.9 462.7 398.0 462.9 398.0 463.2C398.1 463.4 398.1 463.7 398.1 463.9Z" fill="#4c4c4c" stroke="#d0d0d0" stroke-width="0.9"/>
<path d="M396.68,463.90C396.7 464.1 396.7 464.3 396.6 464.5C396.6 464.7 396.5 464.9 396.5 465.1C396.4 465.3 396.3 465.4 396.3 465.6C396.2 465.8 396.1 465.9 395.9 466.1C395.8 466.3 395.7 466.4 395.6 466.5C395.5 466.7 395.3 466.8 395.2 466.9C395.0 467.1 394.9 467.2 394.7 467.3C394.6 467.4 394.4 467.5 394.3 467.5C394.1 467.6 394.0 467.7 393.8 467.8C393.7 467.8 393.5 467.9 393.3 468.0C393.2 468.0 393.0 468.1 392.9 468.1C392.7 468.1 392.6 468.2 392.4 468.2C392.2 468.2 392.1 468.2 391.9 468.3C391.8 468.3 391.6 468.3 391.5 468.3C391.3 468.3 391.2 468.3 391.0 468.3C390.8 468.3 390.7 468.3 390.5 468.3C390.4 468.2 390.2 468.2 390.1 468.2C389.9 468.2 389.8 468.1 389.6 468.1C389.5 468.1 389.3 468.0 389.2 468.0C389.0 467.9 388.9 467.9 388.7 467.8C388.6 467.7 388.5 467.7 388.3 467.6C388.2 467.5 388.0 467.5 387.9 467.4C387.7 467.3 387.6 467.2 387.5 467.1C387.3 467.0 387.2 466.9 387.1 466.7C387.0 466.6 386.8 466.5 386.7 466.4C386.6 466.2 386.5 466.1 386.4 465.9C386.3 465.8 386.2 465.6 386.2 465.5C386.1 465.3 386.0 465.1 386.0 465.0C385.9 464.8 385.9 464.6 385.8 464.4C385.8 464.3 385.8 464.1 385.8 463.9C385.8 463.7 385.8 463.5 385.8 463.4C385.9 463.2 385.9 463.0 386.0 462.8C386.0 462.7 386.1 462.5 386.2 462.3C386.2 462.2 386.3 462.0 386.4 461.9C386.5 461.7 386.6 461.6 386.7 461.4C386.8 461.3 387.0 461.2 387.1 461.1C387.2 460.9 387.3 460.8 387.5 460.7C387.6 460.6 387.7 460.5 387.9 460.4C388.0 460.3 388.2 460.3 388.3 460.2C388.5 460.1 388.6 460.1 388.7 460.0C388.9 459.9 389.0 459.9 389.2 459.8C389.3 459.8 389.5 459.7 389.6 459.7C389.8 459.7 389.9 459.6 390.1 459.6C390.2 459.6 390.4 459.6 390.5 459.5C390.7 459.5 390.8 459.5 391.0 459.5C391.2 459.5 391.3 459.5 391.5 459.5C391.6 459.5 391.8 459.5 391.9 459.5C392.1 459.6 392.2 459.6 392.4 459.6C392.6 459.6 392.7 459.7 392.9 459.7C393.0 459.7 393.2 459.8 393.3 459.8C393.5 459.9 393.7 460.0 393.8 460.0C394.0 460.1 394.1 460.2 394.3 460.3C394.4 460.3 394.6 460.4 394.7 460.5C394.9 460.6 395.0 460.7 395.2 460.9C395.3 461.0 395.5 461.1 395.6 461.3C395.7 461.4 395.8 461.5 395.9 461.7C396.1 461.9 396.2 462.0 396.3 462.2C396.3 462.4 396.4 462.5 396.5 462.7C396.5 462.9 396.6 463.1 396.6 463.3C396.7 463.5 396.7 463.7 396.7 463.9Z" fill="#3d3d3d"/>
<path d="M395.26,463.90C395.3 464.0 395.2 464.2 395.2 464.3C395.2 464.5 395.2 464.6 395.1 464.8C395.1 464.9 395.0 465.1 394.9 465.2C394.9 465.3 394.8 465.4 394.7 465.6C394.6 465.7 394.5 465.8 394.4 465.9C394.3 466.0 394.2 466.1 394.1 466.2C394.0 466.3 393.9 466.3 393.8 466.4C393.7 466.5 393.6 466.6 393.5 466.6C393.3 466.7 393.2 466.8 393.1 466.8C393.0 466.9 392.9 466.9 392.8 466.9C392.6 467.0 392.5 467.0 392.4 467.0C392.3 467.1 392.2 467.1 392.0 467.1C391.9 467.1 391.8 467.2 391.7 467.2C391.6 467.2 391.5 467.2 391.3 467.2C391.2 467.2 391.1 467.2 391.0 467.2C390.9 467.2 390.8 467.2 390.7 467.2C390.5 467.2 390.4 467.1 390.3 467.1C390.2 467.1 390.1 467.1 390.0 467.1C389.9 467.0 389.8 467.0 389.6 467.0C389.5 466.9 389.4 466.9 389.3 466.8C389.2 466.8 389.1 466.7 389.0 466.7C388.9 466.6 388.8 466.6 388.7 466.5C388.6 466.4 388.5 466.4 388.4 466.3C388.3 466.2 388.2 466.1 388.1 466.0C388.0 465.9 387.9 465.8 387.8 465.7C387.7 465.6 387.6 465.5 387.6 465.4C387.5 465.3 387.4 465.2 387.4 465.1C387.3 465.0 387.3 464.8 387.2 464.7C387.2 464.6 387.2 464.4 387.1 464.3C387.1 464.2 387.1 464.0 387.1 463.9C387.1 463.8 387.1 463.6 387.1 463.5C387.2 463.4 387.2 463.2 387.2 463.1C387.3 463.0 387.3 462.8 387.4 462.7C387.4 462.6 387.5 462.5 387.6 462.4C387.6 462.3 387.7 462.2 387.8 462.1C387.9 462.0 388.0 461.9 388.1 461.8C388.2 461.7 388.3 461.6 388.4 461.5C388.5 461.4 388.6 461.4 388.7 461.3C388.8 461.2 388.9 461.2 389.0 461.1C389.1 461.1 389.2 461.0 389.3 461.0C389.4 460.9 389.5 460.9 389.6 460.8C389.8 460.8 389.9 460.8 390.0 460.7C390.1 460.7 390.2 460.7 390.3 460.7C390.4 460.7 390.5 460.6 390.7 460.6C390.8 460.6 390.9 460.6 391.0 460.6C391.1 460.6 391.2 460.6 391.3 460.6C391.5 460.6 391.6 460.6 391.7 460.6C391.8 460.6 391.9 460.7 392.0 460.7C392.2 460.7 392.3 460.7 392.4 460.8C392.5 460.8 392.6 460.8 392.8 460.9C392.9 460.9 393.0 460.9 393.1 461.0C393.2 461.0 393.3 461.1 393.5 461.2C393.6 461.2 393.7 461.3 393.8 461.4C393.9 461.5 394.0 461.5 394.1 461.6C394.2 461.7 394.3 461.8 394.4 461.9C394.5 462.0 394.6 462.1 394.7 462.2C394.8 462.4 394.9 462.5 394.9 462.6C395.0 462.7 395.1 462.9 395.1 463.0C395.2 463.2 395.2 463.3 395.2 463.5C395.2 463.6 395.3 463.8 395.3 463.9Z" fill="#2e2e2e"/>
<path d="M393.84,463.90C393.8 464.0 393.8 464.1 393.8 464.2C393.8 464.3 393.8 464.4 393.7 464.5C393.7 464.6 393.7 464.7 393.6 464.8C393.6 464.8 393.5 464.9 393.5 465.0C393.4 465.1 393.4 465.2 393.3 465.2C393.2 465.3 393.2 465.4 393.1 465.4C393.0 465.5 392.9 465.5 392.9 465.6C392.8 465.6 392.7 465.7 392.6 465.7C392.6 465.8 392.5 465.8 392.4 465.8C392.3 465.9 392.3 465.9 392.2 465.9C392.1 466.0 392.0 466.0 391.9 466.0C391.9 466.0 391.8 466.0 391.7 466.0C391.6 466.1 391.5 466.1 391.5 466.1C391.4 466.1 391.3 466.1 391.2 466.1C391.2 466.1 391.1 466.1 391.0 466.1C390.9 466.1 390.8 466.1 390.8 466.1C390.7 466.1 390.6 466.1 390.5 466.0C390.5 466.0 390.4 466.0 390.3 466.0C390.2 466.0 390.2 466.0 390.1 465.9C390.0 465.9 389.9 465.9 389.9 465.9C389.8 465.8 389.7 465.8 389.7 465.8C389.6 465.7 389.5 465.7 389.4 465.6C389.4 465.6 389.3 465.5 389.2 465.5C389.2 465.4 389.1 465.4 389.0 465.3C389.0 465.3 388.9 465.2 388.9 465.1C388.8 465.1 388.8 465.0 388.7 464.9C388.7 464.8 388.6 464.8 388.6 464.7C388.5 464.6 388.5 464.5 388.5 464.4C388.5 464.3 388.4 464.3 388.4 464.2C388.4 464.1 388.4 464.0 388.4 463.9C388.4 463.8 388.4 463.7 388.4 463.6C388.4 463.5 388.5 463.5 388.5 463.4C388.5 463.3 388.5 463.2 388.6 463.1C388.6 463.0 388.7 463.0 388.7 462.9C388.8 462.8 388.8 462.7 388.9 462.7C388.9 462.6 389.0 462.5 389.0 462.5C389.1 462.4 389.2 462.4 389.2 462.3C389.3 462.3 389.4 462.2 389.4 462.2C389.5 462.1 389.6 462.1 389.7 462.0C389.7 462.0 389.8 462.0 389.9 461.9C389.9 461.9 390.0 461.9 390.1 461.9C390.2 461.8 390.2 461.8 390.3 461.8C390.4 461.8 390.5 461.8 390.5 461.8C390.6 461.7 390.7 461.7 390.8 461.7C390.8 461.7 390.9 461.7 391.0 461.7C391.1 461.7 391.2 461.7 391.2 461.7C391.3 461.7 391.4 461.7 391.5 461.7C391.5 461.7 391.6 461.7 391.7 461.8C391.8 461.8 391.9 461.8 391.9 461.8C392.0 461.8 392.1 461.8 392.2 461.9C392.3 461.9 392.3 461.9 392.4 462.0C392.5 462.0 392.6 462.0 392.6 462.1C392.7 462.1 392.8 462.2 392.9 462.2C392.9 462.3 393.0 462.3 393.1 462.4C393.2 462.4 393.2 462.5 393.3 462.6C393.4 462.6 393.4 462.7 393.5 462.8C393.5 462.9 393.6 463.0 393.6 463.0C393.7 463.1 393.7 463.2 393.7 463.3C393.8 463.4 393.8 463.5 393.8 463.6C393.8 463.7 393.8 463.8 393.8 463.9Z" fill="#1f1f1f"/>
<path d="M392.42,463.90C392.4 463.9 392.4 464.0 392.4 464.0C392.4 464.1 392.4 464.1 392.4 464.2C392.4 464.2 392.3 464.3 392.3 464.3C392.3 464.4 392.3 464.4 392.2 464.5C392.2 464.5 392.2 464.5 392.1 464.6C392.1 464.6 392.1 464.6 392.0 464.7C392.0 464.7 392.0 464.7 391.9 464.7C391.9 464.8 391.9 464.8 391.8 464.8C391.8 464.8 391.7 464.9 391.7 464.9C391.7 464.9 391.6 464.9 391.6 464.9C391.5 464.9 391.5 464.9 391.5 464.9C391.4 465.0 391.4 465.0 391.3 465.0C391.3 465.0 391.3 465.0 391.2 465.0C391.2 465.0 391.2 465.0 391.1 465.0C391.1 465.0 391.0 465.0 391.0 465.0C391.0 465.0 390.9 465.0 390.9 465.0C390.8 465.0 390.8 465.0 390.8 465.0C390.7 465.0 390.7 465.0 390.7 465.0C390.6 464.9 390.6 464.9 390.5 464.9C390.5 464.9 390.5 464.9 390.4 464.9C390.4 464.9 390.4 464.8 390.3 464.8C390.3 464.8 390.3 464.8 390.2 464.8C390.2 464.7 390.2 464.7 390.1 464.7C390.1 464.7 390.1 464.6 390.0 464.6C390.0 464.6 390.0 464.5 389.9 464.5C389.9 464.5 389.9 464.4 389.9 464.4C389.8 464.4 389.8 464.3 389.8 464.3C389.8 464.3 389.8 464.2 389.7 464.2C389.7 464.1 389.7 464.1 389.7 464.0C389.7 464.0 389.7 463.9 389.7 463.9C389.7 463.9 389.7 463.8 389.7 463.8C389.7 463.7 389.7 463.7 389.7 463.6C389.8 463.6 389.8 463.5 389.8 463.5C389.8 463.5 389.8 463.4 389.9 463.4C389.9 463.4 389.9 463.3 389.9 463.3C390.0 463.3 390.0 463.2 390.0 463.2C390.1 463.2 390.1 463.1 390.1 463.1C390.2 463.1 390.2 463.1 390.2 463.0C390.3 463.0 390.3 463.0 390.3 463.0C390.4 463.0 390.4 462.9 390.4 462.9C390.5 462.9 390.5 462.9 390.5 462.9C390.6 462.9 390.6 462.9 390.7 462.8C390.7 462.8 390.7 462.8 390.8 462.8C390.8 462.8 390.8 462.8 390.9 462.8C390.9 462.8 391.0 462.8 391.0 462.8C391.0 462.8 391.1 462.8 391.1 462.8C391.2 462.8 391.2 462.8 391.2 462.8C391.3 462.8 391.3 462.8 391.3 462.8C391.4 462.8 391.4 462.8 391.5 462.9C391.5 462.9 391.5 462.9 391.6 462.9C391.6 462.9 391.7 462.9 391.7 462.9C391.7 462.9 391.8 463.0 391.8 463.0C391.9 463.0 391.9 463.0 391.9 463.1C392.0 463.1 392.0 463.1 392.0 463.1C392.1 463.2 392.1 463.2 392.1 463.2C392.2 463.3 392.2 463.3 392.2 463.3C392.3 463.4 392.3 463.4 392.3 463.5C392.3 463.5 392.4 463.6 392.4 463.6C392.4 463.7 392.4 463.7 392.4 463.8C392.4 463.8 392.4 463.9 392.4 463.9Z" fill="#0f0f0f"/>
<ellipse cx="421" cy="463.5" rx="13" ry="11" fill="url(#dk)"/>
<ellipse cx="422" cy="462.7" rx="11" ry="9.7" fill="none" stroke="#888" stroke-width="0.7"/>
<ellipse cx="419.5" cy="464.3" rx="5" ry="3.3" fill="#b5b5b5" stroke="#e5e5e5" stroke-width="1"/>
</g>
<rect x="94.3" y="429.8" width="65.10" height="61.60" fill="none" stroke="#aaa" stroke-width="1.8"/>
<rect x="255.75" y="430.0" width="65.00" height="61.25" fill="none" stroke="#aaa" stroke-width="1.8"/>
<rect x="410.0" y="429.5" width="65.00" height="61.75" fill="none" stroke="#aaa" stroke-width="1.8"/>
<text x="3.60" y="575.00" font-size="32.5" text-anchor="start" font-weight="bold" fill="#000" >C</text>
<line x1="147.90" y1="577.70" x2="147.90" y2="745.50" stroke="#000" stroke-width="2.3" />
<line x1="146.00" y1="744.30" x2="397.20" y2="744.30" stroke="#000" stroke-width="2.6" />
<line x1="142.10" y1="744.20" x2="147.90" y2="744.20" stroke="#000" stroke-width="2.2" />
<text x="138.60" y="750.20" font-size="21" text-anchor="end" font-weight="normal" fill="#000" >0</text>
<line x1="142.10" y1="714.20" x2="147.90" y2="714.20" stroke="#000" stroke-width="2.2" />
<text x="138.60" y="720.44" font-size="21" text-anchor="end" font-weight="normal" fill="#000" >10</text>
<line x1="142.10" y1="684.20" x2="147.90" y2="684.20" stroke="#000" stroke-width="2.2" />
<text x="138.60" y="690.68" font-size="21" text-anchor="end" font-weight="normal" fill="#000" >20</text>
<line x1="142.10" y1="654.20" x2="147.90" y2="654.20" stroke="#000" stroke-width="2.2" />
<text x="138.60" y="660.92" font-size="21" text-anchor="end" font-weight="normal" fill="#000" >30</text>
<line x1="142.10" y1="624.20" x2="147.90" y2="624.20" stroke="#000" stroke-width="2.2" />
<text x="138.60" y="631.16" font-size="21" text-anchor="end" font-weight="normal" fill="#000" >40</text>
<line x1="142.10" y1="594.20" x2="147.90" y2="594.20" stroke="#000" stroke-width="2.2" />
<text x="138.60" y="601.40" font-size="21" text-anchor="end" font-weight="normal" fill="#000" >50</text>
<text transform="translate(99.4,712.3) rotate(-90)" font-size="21" textLength="101.8" lengthAdjust="spacingAndGlyphs">% CD107a</text>
<text transform="translate(90.1,609.5) rotate(-90)" font-size="20.5">+</text>
<text x="159.30" y="774.90" font-size="21.5" text-anchor="start" font-weight="normal" fill="#000" textLength="47.60" lengthAdjust="spacingAndGlyphs" >MHC</text>
<text x="207.30" y="767.60" font-size="11.5" text-anchor="start" font-weight="normal" fill="#000" textLength="11.60" lengthAdjust="spacingAndGlyphs" >-/-</text>
<text x="262.60" y="774.70" font-size="21.2" text-anchor="start" font-weight="normal" fill="#000" >D</text>
<text x="277.50" y="767.80" font-size="11.7" text-anchor="start" font-weight="normal" fill="#000" >b</text>
<text x="345.40" y="774.70" font-size="21.2" text-anchor="start" font-weight="normal" fill="#000" >D</text>
<text x="360.90" y="767.80" font-size="11.7" text-anchor="start" font-weight="normal" fill="#000" >d</text>
<circle cx="189.2" cy="692" r="5.0" fill="#000"/>
<circle cx="174.2" cy="702.6" r="5.0" fill="#000"/>
<circle cx="189.2" cy="711.8" r="5.0" fill="#000"/>
<circle cx="174.2" cy="735.7" r="5.0" fill="#000"/>
<circle cx="188.9" cy="737.2" r="5.0" fill="#000"/>
<circle cx="203.8" cy="735.8" r="5.0" fill="#000"/>
<circle cx="256.8" cy="635.1" r="5.0" fill="#000"/>
<circle cx="271.9" cy="645.4" r="5.0" fill="#000"/>
<circle cx="286.8" cy="666.9" r="5.0" fill="#000"/>
<circle cx="271.9" cy="679.2" r="5.0" fill="#000"/>
<circle cx="264.2" cy="691.1" r="5.0" fill="#000"/>
<circle cx="256.8" cy="696.2" r="5.0" fill="#000"/>
<circle cx="256.8" cy="700.8" r="5.0" fill="#000"/>
<circle cx="279.6" cy="695.4" r="5.0" fill="#000"/>
<circle cx="287" cy="697.7" r="5.0" fill="#000"/>
<circle cx="271.9" cy="701.5" r="5.0" fill="#000"/>
<circle cx="286.8" cy="713.4" r="5.0" fill="#000"/>
<circle cx="271.9" cy="720.3" r="5.0" fill="#000"/>
<circle cx="369.6" cy="592.5" r="5.0" fill="#000"/>
<circle cx="354.4" cy="604.9" r="5.0" fill="#000"/>
<circle cx="339.7" cy="621.4" r="5.0" fill="#000"/>
<circle cx="339.7" cy="626.1" r="5.0" fill="#000"/>
<circle cx="339.7" cy="631.3" r="5.0" fill="#000"/>
<circle cx="369.6" cy="621.4" r="5.0" fill="#000"/>
<circle cx="354.4" cy="629.2" r="5.0" fill="#000"/>
<circle cx="354.4" cy="646.4" r="5.0" fill="#000"/>
<circle cx="369.6" cy="642.6" r="5.0" fill="#000"/>
<circle cx="354.4" cy="684.9" r="5.0" fill="#000"/>
<circle cx="354.4" cy="703.5" r="5.0" fill="#000"/>
<line x1="160.50" y1="719.20" x2="217.20" y2="719.20" stroke="#000" stroke-width="2" />
<line x1="243.50" y1="686.90" x2="299.90" y2="686.90" stroke="#000" stroke-width="2" />
<line x1="326.60" y1="636.50" x2="382.60" y2="636.50" stroke="#000" stroke-width="2" />
<path d="M185.6,618.6 V613.1 H267.4 V618.6" fill="none" stroke="#000" stroke-width="2"/>
<path d="M273,591.6 V586.1 H354.9 V591.6" fill="none" stroke="#000" stroke-width="2"/>
<text x="211.25" y="612.70" font-size="30" text-anchor="start" font-weight="bold" fill="#000" class="st">*</text>
<text x="230.15" y="612.70" font-size="30" text-anchor="start" font-weight="bold" fill="#000" class="st">*</text>
<text x="289.15" y="587.04" font-size="30.5" text-anchor="start" font-weight="bold" fill="#000" class="st">*</text>
<text x="307.35" y="587.04" font-size="30.5" text-anchor="start" font-weight="bold" fill="#000" class="st">*</text>
<text x="325.85" y="587.04" font-size="30.5" text-anchor="start" font-weight="bold" fill="#000" class="st">*</text>
</svg></body></html>
